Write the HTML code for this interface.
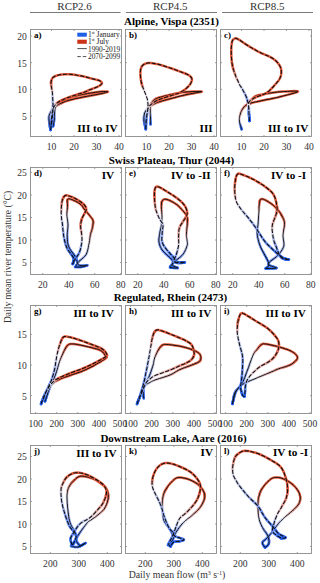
<!DOCTYPE html><html><head><meta charset="utf-8"><style>html,body{margin:0;padding:0;background:#fff;width:320px;height:583px;overflow:hidden;}svg{display:block;}text{font-family:"Liberation Serif",serif;}</style></head><body>
<svg width="320" height="583" viewBox="0 0 320 583">
<rect width="320" height="583" fill="#fff"/>
<text x="74.6" y="10.3" font-size="11" text-anchor="middle" fill="#333">RCP2.6</text>
<line x1="30" y1="12.5" x2="120.6" y2="12.5" stroke="#7a7a7a" stroke-width="1"/>
<text x="170.3" y="10.3" font-size="11" text-anchor="middle" fill="#333">RCP4.5</text>
<line x1="126" y1="12.5" x2="217" y2="12.5" stroke="#7a7a7a" stroke-width="1"/>
<text x="267.2" y="10.3" font-size="11" text-anchor="middle" fill="#333">RCP8.5</text>
<line x1="222" y1="12.5" x2="313" y2="12.5" stroke="#7a7a7a" stroke-width="1"/>
<text x="171.5" y="24.5" font-size="11" font-weight="bold" text-anchor="middle" fill="#000">Alpine, Vispa (2351)</text>
<text x="171.5" y="163.8" font-size="11" font-weight="bold" text-anchor="middle" fill="#000">Swiss Plateau, Thur (2044)</text>
<text x="170.5" y="301.2" font-size="11" font-weight="bold" text-anchor="middle" fill="#000">Regulated, Rhein (2473)</text>
<text x="173.5" y="442.2" font-size="11" font-weight="bold" text-anchor="middle" fill="#000">Downstream Lake, Aare (2016)</text>
<g fill="none" stroke-width="2.5" stroke-linecap="round" stroke-linejoin="round"><path d="M53.1 126.5L53.2 125.8" stroke="#2460f0"/><path d="M53.2 125.8L53.4 124.8" stroke="#2a66f0"/><path d="M53.4 124.8L53.6 123.7" stroke="#366cf0"/><path d="M53.6 123.7L53.8 122.4" stroke="#4272f0"/><path d="M53.8 122.4L54.0 121.2" stroke="#4e7ef0"/><path d="M54.0 121.2L54.2 120.0" stroke="#5a84f0"/><path d="M54.2 120.0L54.3 118.9" stroke="#668af0"/><path d="M54.3 118.9L54.4 117.7" stroke="#7296f0"/><path d="M54.4 117.7L54.4 116.5" stroke="#7e9cf0"/><path d="M54.4 116.5L54.5 115.3" stroke="#8aa2f0"/><path d="M54.5 115.3L54.5 114.1" stroke="#96a8f0"/><path d="M54.5 114.1L54.6 113.0" stroke="#a2b4f0"/><path d="M54.6 113.0L54.7 111.9" stroke="#a8baea"/><path d="M54.7 111.9L54.8 110.8" stroke="#b4c0ea"/><path d="M54.8 110.8L54.9 109.8" stroke="#c0c6ea"/><path d="M54.9 109.8L55.1 108.8" stroke="#ccccea"/><path d="M55.1 108.8L55.3 107.8" stroke="#d2d8ea"/><path d="M55.3 107.8L55.5 107.0" stroke="#dedeea"/><path d="M55.5 107.0L55.8 106.3" stroke="#e4d8e4"/><path d="M55.8 106.3L56.2 105.6" stroke="#e4ccd8"/><path d="M56.2 105.6L56.6 105.1" stroke="#e4c6c6"/><path d="M56.6 105.1L57.0 104.5" stroke="#e4baba"/><path d="M57.0 104.5L57.5 104.0" stroke="#e4aeae"/><path d="M57.5 104.0L58.0 103.5" stroke="#e4a8a2"/><path d="M58.0 103.5L58.5 103.0" stroke="#e49c90"/><path d="M58.5 103.0L59.1 102.5" stroke="#e49084"/><path d="M59.1 102.5L59.7 102.0" stroke="#e48478"/><path d="M59.7 102.0L60.3 101.5" stroke="#e47866"/><path d="M60.3 101.5L61.1 101.0" stroke="#e46c54"/><path d="M61.1 101.0L62.0 100.5" stroke="#e46042"/><path d="M62.0 100.5L63.0 100.0L64.1 99.5L65.3 98.9L66.7 98.4L68.2 97.8L70.0 97.3L72.1 96.7L74.5 96.2L77.1 95.6L79.7 95.0L82.4 94.5L85.0 94.0L87.6 93.5L90.3 93.1L92.9 92.7L95.5 92.3L97.9 92.0L100.0 91.8L101.9 91.6L103.8 91.5L105.4 91.5L106.8 91.5L107.7 91.6L108.0 91.7L107.7 91.9L106.8 92.2L105.4 92.6L103.8 93.0L101.9 93.5L100.0 93.9L97.9 94.3L95.5 94.8L92.9 95.2L90.3 95.7L87.6 96.2L85.0 96.7L82.4 97.2L79.7 97.8L77.1 98.3L74.5 98.9L72.1 99.5L70.0 100.0L68.2 100.5L66.7 101.0L65.4 101.4L64.2 101.9L63.1 102.3L62.0 102.8" stroke="#e45a3c"/><path d="M62.0 102.8L61.0 103.3" stroke="#e46042"/><path d="M61.0 103.3L60.1 103.7" stroke="#e46c54"/><path d="M60.1 103.7L59.2 104.2" stroke="#e47866"/><path d="M59.2 104.2L58.5 104.6" stroke="#e48478"/><path d="M58.5 104.6L57.7 105.1" stroke="#e49084"/><path d="M57.7 105.1L57.0 105.5" stroke="#e49c96"/><path d="M57.0 105.5L56.2 105.9" stroke="#e4a8a2"/><path d="M56.2 105.9L55.5 106.3" stroke="#e4b4ae"/><path d="M55.5 106.3L54.8 106.7" stroke="#e4bac0"/><path d="M54.8 106.7L54.1 107.1" stroke="#e4c6cc"/><path d="M54.1 107.1L53.5 107.6" stroke="#e4d2d8"/><path d="M53.5 107.6L53.0 108.0" stroke="#e4d8e4"/><path d="M53.0 108.0L52.6 108.4" stroke="#dedeea"/><path d="M52.6 108.4L52.3 108.9L52.0 109.3" stroke="#d8d8ea"/><path d="M52.0 109.3L51.8 109.8" stroke="#d2d2ea"/><path d="M51.8 109.8L51.5 110.4" stroke="#ccd2ea"/><path d="M51.5 110.4L51.2 111.0" stroke="#c6ccea"/><path d="M51.2 111.0L50.9 111.7" stroke="#c0c6ea"/><path d="M50.9 111.7L50.4 112.5" stroke="#bac6ea"/><path d="M50.4 112.5L50.0 113.3" stroke="#b4c0ea"/><path d="M50.0 113.3L49.6 114.2" stroke="#a8baf0"/><path d="M49.6 114.2L49.2 115.2" stroke="#a2b4f0"/><path d="M49.2 115.2L49.0 116.2" stroke="#96aef0"/><path d="M49.0 116.2L48.9 117.4" stroke="#90a8f0"/><path d="M48.9 117.4L48.9 118.6" stroke="#84a2f0"/><path d="M48.9 118.6L49.0 119.9" stroke="#7896f0"/><path d="M49.0 119.9L49.1 121.3" stroke="#6c90f0"/><path d="M49.1 121.3L49.3 122.5" stroke="#668af0"/><path d="M49.3 122.5L49.4 123.8" stroke="#5a84f0"/><path d="M49.4 123.8L49.6 124.9" stroke="#4e7ef0"/><path d="M49.6 124.9L49.8 126.2" stroke="#4278f0"/><path d="M49.8 126.2L50.0 127.3" stroke="#3c6cf0"/><path d="M50.0 127.3L50.3 128.4" stroke="#3066f0"/><path d="M50.3 128.4L50.5 129.3" stroke="#2a60f0"/><path d="M50.5 129.3L50.6 130.0" stroke="#1e60f0"/></g><path d="M53.1 126.5L53.2 125.8L53.4 124.8L53.6 123.7L53.8 122.4L54.0 121.2L54.2 120.0L54.3 118.9L54.4 117.7L54.4 116.5L54.5 115.3L54.5 114.1L54.6 113.0L54.7 111.9L54.8 110.8L54.9 109.8L55.1 108.8L55.3 107.8L55.5 107.0L55.8 106.3L56.2 105.6L56.6 105.1L57.0 104.5L57.5 104.0L58.0 103.5L58.5 103.0L59.1 102.5L59.7 102.0L60.3 101.5L61.1 101.0L62.0 100.5L63.0 100.0L64.1 99.5L65.3 98.9L66.7 98.4L68.2 97.8L70.0 97.3L72.1 96.7L74.5 96.2L77.1 95.6L79.7 95.0L82.4 94.5L85.0 94.0L87.6 93.5L90.3 93.1L92.9 92.7L95.5 92.3L97.9 92.0L100.0 91.8L101.9 91.6L103.8 91.5L105.4 91.5L106.8 91.5L107.7 91.6L108.0 91.7L107.7 91.9L106.8 92.2L105.4 92.6L103.8 93.0L101.9 93.5L100.0 93.9L97.9 94.3L95.5 94.8L92.9 95.2L90.3 95.7L87.6 96.2L85.0 96.7L82.4 97.2L79.7 97.8L77.1 98.3L74.5 98.9L72.1 99.5L70.0 100.0L68.2 100.5L66.7 101.0L65.4 101.4L64.2 101.9L63.1 102.3L62.0 102.8L61.0 103.3L60.1 103.7L59.2 104.2L58.5 104.6L57.7 105.1L57.0 105.5L56.2 105.9L55.5 106.3L54.8 106.7L54.1 107.1L53.5 107.6L53.0 108.0L52.6 108.4L52.3 108.9L52.0 109.3L51.8 109.8L51.5 110.4L51.2 111.0L50.9 111.7L50.4 112.5L50.0 113.3L49.6 114.2L49.2 115.2L49.0 116.2L48.9 117.4L48.9 118.6L49.0 119.9L49.1 121.3L49.3 122.5L49.4 123.8L49.6 124.9L49.8 126.2L50.0 127.3L50.3 128.4L50.5 129.3L50.6 130.0" fill="none" stroke="#111" stroke-width="0.99"/><g fill="none" stroke-width="2.5" stroke-linecap="round" stroke-linejoin="round"><path d="M50.6 130.0L50.7 129.4" stroke="#1e60f0"/><path d="M50.7 129.4L50.8 128.5" stroke="#2460f0"/><path d="M50.8 128.5L51.0 127.5" stroke="#2a60f0"/><path d="M51.0 127.5L51.2 126.4" stroke="#3066f0"/><path d="M51.2 126.4L51.3 125.2" stroke="#366cf0"/><path d="M51.3 125.2L51.5 124.0" stroke="#3c6cf0"/><path d="M51.5 124.0L51.7 122.8" stroke="#4272f0"/><path d="M51.7 122.8L51.8 121.5" stroke="#4878f0"/><path d="M51.8 121.5L52.0 120.1" stroke="#4e7ef0"/><path d="M52.0 120.1L52.2 118.7" stroke="#547ef0"/><path d="M52.2 118.7L52.4 117.4" stroke="#5a84f0"/><path d="M52.4 117.4L52.5 116.0" stroke="#608af0"/><path d="M52.5 116.0L52.6 114.7" stroke="#6c90f0"/><path d="M52.6 114.7L52.7 113.3" stroke="#7290f0"/><path d="M52.7 113.3L52.8 112.0" stroke="#7896f0"/><path d="M52.8 112.0L52.9 110.7" stroke="#7e9cf0"/><path d="M52.9 110.7L53.0 109.3" stroke="#84a2f0"/><path d="M53.0 109.3L53.0 108.0" stroke="#8aa8f0"/><path d="M53.0 108.0L53.0 106.7" stroke="#90a8f0"/><path d="M53.0 106.7L53.0 105.3" stroke="#9caef0"/><path d="M53.0 105.3L53.0 104.0" stroke="#a2b4f0"/><path d="M53.0 104.0L52.9 102.7" stroke="#a8baf0"/><path d="M52.9 102.7L52.9 101.3" stroke="#aebaea"/><path d="M52.9 101.3L52.8 100.0" stroke="#b4c0ea"/><path d="M52.8 100.0L52.7 98.6" stroke="#bac6ea"/><path d="M52.7 98.6L52.7 97.3" stroke="#c0ccea"/><path d="M52.7 97.3L52.6 95.9" stroke="#ccccea"/><path d="M52.6 95.9L52.5 94.6" stroke="#d2d2ea"/><path d="M52.5 94.6L52.4 93.2" stroke="#d8d8ea"/><path d="M52.4 93.2L52.3 92.0" stroke="#dedeea"/><path d="M52.3 92.0L52.1 90.8" stroke="#e4d8e4"/><path d="M52.1 90.8L51.9 89.6" stroke="#e4c6cc"/><path d="M51.9 89.6L51.7 88.5" stroke="#e4baba"/><path d="M51.7 88.5L51.5 87.5" stroke="#e4aea8"/><path d="M51.5 87.5L51.3 86.5" stroke="#e4a29c"/><path d="M51.3 86.5L51.2 85.5" stroke="#e4968a"/><path d="M51.2 85.5L51.1 84.6" stroke="#e48a78"/><path d="M51.1 84.6L51.1 83.8" stroke="#e47e6c"/><path d="M51.1 83.8L51.0 83.1" stroke="#e47860"/><path d="M51.0 83.1L51.0 82.4" stroke="#e46c54"/><path d="M51.0 82.4L51.1 81.7" stroke="#e46648"/><path d="M51.1 81.7L51.2 81.0" stroke="#e45a42"/><path d="M51.2 81.0L51.4 80.3L51.6 79.7L51.9 79.1L52.2 78.5L52.6 78.0L53.0 77.5L53.5 77.1L54.1 76.7L54.8 76.3L55.5 76.0L56.2 75.8L57.0 75.5L57.7 75.3L58.5 75.1L59.2 74.9L60.1 74.7L61.0 74.6L62.0 74.5L63.2 74.4L64.4 74.3L65.8 74.3L67.2 74.2L68.6 74.2L70.0 74.3L71.4 74.4L73.0 74.6L74.5 74.8L76.0 75.0L77.4 75.3L78.8 75.5L79.9 75.7L81.0 75.9L82.0 76.1L82.9 76.3L83.9 76.5L85.0 76.8L86.2 77.1L87.4 77.4L88.7 77.8L90.0 78.1L91.3 78.5L92.5 78.8L93.7 79.1L95.0 79.4L96.3 79.7L97.4 80.0L98.5 80.3L99.4 80.6L100.1 81.0L100.7 81.4L101.2 81.8L101.6 82.2L101.8 82.6L101.9 83.0L101.9 83.4L101.7 83.8L101.4 84.2L101.0 84.6L100.5 85.0L100.0 85.4L99.4 85.8L98.6 86.2L97.8 86.6L96.9 87.0L95.9 87.4L95.0 87.8L94.0 88.2L92.9 88.6L91.8 89.0L90.7 89.5L89.7 89.8L88.8 90.2L88.1 90.5L87.5 90.8L87.1 91.0L86.6 91.2L86.0 91.5L85.0 91.9L83.7 92.4L82.1 92.9L80.4 93.4L78.6 94.0L76.7 94.6L75.0 95.2L73.3 95.8L71.6 96.4L69.8 97.0L68.1 97.6L66.5 98.2L65.0 98.8L63.6 99.4L62.3 100.0L61.1 100.5L60.0 101.1L58.9 101.7L58.0 102.3" stroke="#e45a3c"/><path d="M58.0 102.3L57.2 102.9" stroke="#e4664e"/><path d="M57.2 102.9L56.5 103.5" stroke="#e47e6c"/><path d="M56.5 103.5L55.9 104.1" stroke="#e4968a"/><path d="M55.9 104.1L55.4 104.7" stroke="#e4a8a8"/><path d="M55.4 104.7L55.0 105.3" stroke="#e4c0c0"/><path d="M55.0 105.3L54.5 106.0" stroke="#e4d2de"/><path d="M54.5 106.0L54.1 106.7" stroke="#dedeea"/><path d="M54.1 106.7L53.7 107.4" stroke="#d8d8ea"/><path d="M53.7 107.4L53.3 108.2" stroke="#d2d2ea"/><path d="M53.3 108.2L53.0 109.0" stroke="#ccccea"/><path d="M53.0 109.0L52.8 109.9" stroke="#c0ccea"/><path d="M52.8 109.9L52.5 111.0" stroke="#bac6ea"/><path d="M52.5 111.0L52.3 112.3" stroke="#aec0ea"/><path d="M52.3 112.3L52.1 113.7" stroke="#a8b4f0"/><path d="M52.1 113.7L51.9 115.2" stroke="#9caef0"/><path d="M51.9 115.2L51.8 116.8" stroke="#90a8f0"/><path d="M51.8 116.8L51.6 118.4" stroke="#849cf0"/><path d="M51.6 118.4L51.5 120.0" stroke="#7296f0"/><path d="M51.5 120.0L51.3 121.7" stroke="#668af0"/><path d="M51.3 121.7L51.2 123.6" stroke="#5a84f0"/><path d="M51.2 123.6L51.0 125.6" stroke="#4878f0"/><path d="M51.0 125.6L50.8 127.4" stroke="#3c6cf0"/><path d="M50.8 127.4L50.7 128.9" stroke="#2a66f0"/><path d="M50.7 128.9L50.6 130.0" stroke="#2460f0"/></g><path d="M50.6 130.0L50.7 129.4L50.8 128.5L51.0 127.5L51.2 126.4L51.3 125.2L51.5 124.0L51.7 122.8L51.8 121.5L52.0 120.1L52.2 118.7L52.4 117.4L52.5 116.0L52.6 114.7L52.7 113.3L52.8 112.0L52.9 110.7L53.0 109.3L53.0 108.0L53.0 106.7L53.0 105.3L53.0 104.0L52.9 102.7L52.9 101.3L52.8 100.0L52.7 98.6L52.7 97.3L52.6 95.9L52.5 94.6L52.4 93.2L52.3 92.0L52.1 90.8L51.9 89.6L51.7 88.5L51.5 87.5L51.3 86.5L51.2 85.5L51.1 84.6L51.1 83.8L51.0 83.1L51.0 82.4L51.1 81.7L51.2 81.0L51.4 80.3L51.6 79.7L51.9 79.1L52.2 78.5L52.6 78.0L53.0 77.5L53.5 77.1L54.1 76.7L54.8 76.3L55.5 76.0L56.2 75.8L57.0 75.5L57.7 75.3L58.5 75.1L59.2 74.9L60.1 74.7L61.0 74.6L62.0 74.5L63.2 74.4L64.4 74.3L65.8 74.3L67.2 74.2L68.6 74.2L70.0 74.3L71.4 74.4L73.0 74.6L74.5 74.8L76.0 75.0L77.4 75.3L78.8 75.5L79.9 75.7L81.0 75.9L82.0 76.1L82.9 76.3L83.9 76.5L85.0 76.8L86.2 77.1L87.4 77.4L88.7 77.8L90.0 78.1L91.3 78.5L92.5 78.8L93.7 79.1L95.0 79.4L96.3 79.7L97.4 80.0L98.5 80.3L99.4 80.6L100.1 81.0L100.7 81.4L101.2 81.8L101.6 82.2L101.8 82.6L101.9 83.0L101.9 83.4L101.7 83.8L101.4 84.2L101.0 84.6L100.5 85.0L100.0 85.4L99.4 85.8L98.6 86.2L97.8 86.6L96.9 87.0L95.9 87.4L95.0 87.8L94.0 88.2L92.9 88.6L91.8 89.0L90.7 89.5L89.7 89.8L88.8 90.2L88.1 90.5L87.5 90.8L87.1 91.0L86.6 91.2L86.0 91.5L85.0 91.9L83.7 92.4L82.1 92.9L80.4 93.4L78.6 94.0L76.7 94.6L75.0 95.2L73.3 95.8L71.6 96.4L69.8 97.0L68.1 97.6L66.5 98.2L65.0 98.8L63.6 99.4L62.3 100.0L61.1 100.5L60.0 101.1L58.9 101.7L58.0 102.3L57.2 102.9L56.5 103.5L55.9 104.1L55.4 104.7L55.0 105.3L54.5 106.0L54.1 106.7L53.7 107.4L53.3 108.2L53.0 109.0L52.8 109.9L52.5 111.0L52.3 112.3L52.1 113.7L51.9 115.2L51.8 116.8L51.6 118.4L51.5 120.0L51.3 121.7L51.2 123.6L51.0 125.6L50.8 127.4L50.7 128.9L50.6 130.0" fill="none" stroke="#111" stroke-width="1.10" stroke-dasharray="4.2,1.6"/>
<rect x="30.5" y="29.5" width="91" height="107" fill="none" stroke="#8a8a8a" stroke-width="0.9"/>
<line x1="30.5" y1="116.00" x2="32" y2="116.00" stroke="#8a8a8a" stroke-width="0.8"/>
<line x1="120" y1="116.00" x2="121.5" y2="116.00" stroke="#8a8a8a" stroke-width="0.8"/>
<text x="26.8" y="119.90" font-size="9.6" text-anchor="end" fill="#333">5</text>
<line x1="30.5" y1="89.33" x2="32" y2="89.33" stroke="#8a8a8a" stroke-width="0.8"/>
<line x1="120" y1="89.33" x2="121.5" y2="89.33" stroke="#8a8a8a" stroke-width="0.8"/>
<text x="26.8" y="93.23" font-size="9.6" text-anchor="end" fill="#333">10</text>
<line x1="30.5" y1="62.66" x2="32" y2="62.66" stroke="#8a8a8a" stroke-width="0.8"/>
<line x1="120" y1="62.66" x2="121.5" y2="62.66" stroke="#8a8a8a" stroke-width="0.8"/>
<text x="26.8" y="66.56" font-size="9.6" text-anchor="end" fill="#333">15</text>
<line x1="30.5" y1="36.00" x2="32" y2="36.00" stroke="#8a8a8a" stroke-width="0.8"/>
<line x1="120" y1="36.00" x2="121.5" y2="36.00" stroke="#8a8a8a" stroke-width="0.8"/>
<text x="26.8" y="39.90" font-size="9.6" text-anchor="end" fill="#333">20</text>
<line x1="51.50" y1="135" x2="51.50" y2="136.5" stroke="#8a8a8a" stroke-width="0.8"/>
<line x1="51.50" y1="29.5" x2="51.50" y2="31" stroke="#8a8a8a" stroke-width="0.8"/>
<text x="51.50" y="149.70" font-size="9.6" text-anchor="middle" fill="#333">10</text>
<line x1="74.00" y1="135" x2="74.00" y2="136.5" stroke="#8a8a8a" stroke-width="0.8"/>
<line x1="74.00" y1="29.5" x2="74.00" y2="31" stroke="#8a8a8a" stroke-width="0.8"/>
<text x="74.00" y="149.70" font-size="9.6" text-anchor="middle" fill="#333">20</text>
<line x1="96.50" y1="135" x2="96.50" y2="136.5" stroke="#8a8a8a" stroke-width="0.8"/>
<line x1="96.50" y1="29.5" x2="96.50" y2="31" stroke="#8a8a8a" stroke-width="0.8"/>
<text x="96.50" y="149.70" font-size="9.6" text-anchor="middle" fill="#333">30</text>
<line x1="119.00" y1="135" x2="119.00" y2="136.5" stroke="#8a8a8a" stroke-width="0.8"/>
<line x1="119.00" y1="29.5" x2="119.00" y2="31" stroke="#8a8a8a" stroke-width="0.8"/>
<text x="119.00" y="149.70" font-size="9.6" text-anchor="middle" fill="#333">40</text>
<text x="34" y="38" font-size="9" font-weight="bold" fill="#000">a)</text>
<text x="117.6" y="132.4" font-size="11.2" font-weight="bold" text-anchor="end" fill="#000">III to IV</text>
<g fill="none" stroke-width="2.5" stroke-linecap="round" stroke-linejoin="round"><path d="M150.5 124.5L150.5 123.8" stroke="#2460f0"/><path d="M150.5 123.8L150.5 122.8" stroke="#3066f0"/><path d="M150.5 122.8L150.5 121.7" stroke="#3c72f0"/><path d="M150.5 121.7L150.5 120.4" stroke="#4e7ef0"/><path d="M150.5 120.4L150.5 119.2" stroke="#608af0"/><path d="M150.5 119.2L150.5 118.0" stroke="#7296f0"/><path d="M150.5 118.0L150.5 116.9" stroke="#84a2f0"/><path d="M150.5 116.9L150.4 115.7" stroke="#96aef0"/><path d="M150.4 115.7L150.4 114.5" stroke="#a8b4f0"/><path d="M150.4 114.5L150.3 113.3" stroke="#bac0ea"/><path d="M150.3 113.3L150.3 112.1" stroke="#c6ccea"/><path d="M150.3 112.1L150.3 111.0" stroke="#d8d8ea"/><path d="M150.3 111.0L150.3 109.9" stroke="#e4d8e4"/><path d="M150.3 109.9L150.2 108.9" stroke="#e4d2de"/><path d="M150.2 108.9L150.2 107.9" stroke="#e4ccd2"/><path d="M150.2 107.9L150.2 106.9" stroke="#e4c6cc"/><path d="M150.2 106.9L150.3 105.9" stroke="#e4c0c0"/><path d="M150.3 105.9L150.5 105.0" stroke="#e4baba"/><path d="M150.5 105.0L150.9 104.1" stroke="#e4aeae"/><path d="M150.9 104.1L151.3 103.2" stroke="#e4a8a8"/><path d="M151.3 103.2L151.9 102.3" stroke="#e4a29c"/><path d="M151.9 102.3L152.5 101.5" stroke="#e49c90"/><path d="M152.5 101.5L153.2 100.7" stroke="#e4968a"/><path d="M153.2 100.7L154.0 100.0" stroke="#e48a7e"/><path d="M154.0 100.0L154.8 99.4" stroke="#e48478"/><path d="M154.8 99.4L155.6 98.9" stroke="#e47e6c"/><path d="M155.6 98.9L156.5 98.5" stroke="#e47866"/><path d="M156.5 98.5L157.6 98.1" stroke="#e4725a"/><path d="M157.6 98.1L158.8 97.7" stroke="#e4664e"/><path d="M158.8 97.7L160.4 97.2" stroke="#e46042"/><path d="M160.4 97.2L162.4 96.6L164.8 96.0L167.4 95.4L170.0 94.8L172.6 94.2L175.0 93.7L177.1 93.3L179.1 92.9L181.0 92.6L182.9 92.3L184.9 92.1L187.0 91.9L189.7 91.7L192.9 91.6L196.1 91.5L199.0 91.4L201.1 91.4L201.9 91.6L201.1 91.9L199.0 92.3L196.1 92.8L192.9 93.4L189.7 94.0L187.0 94.5L184.9 95.0L182.9 95.5L181.0 95.9L179.1 96.4L177.1 96.9L175.0 97.5L172.6 98.1L170.1 98.8L167.4 99.5L164.8 100.2L162.4 100.9L160.4 101.5" stroke="#e45a3c"/><path d="M160.4 101.5L158.7 102.0" stroke="#e46042"/><path d="M158.7 102.0L157.3 102.5" stroke="#e46c5a"/><path d="M157.3 102.5L156.1 103.0" stroke="#e47e66"/><path d="M156.1 103.0L155.1 103.5" stroke="#e48478"/><path d="M155.1 103.5L154.0 104.0" stroke="#e49084"/><path d="M154.0 104.0L153.0 104.5" stroke="#e49c90"/><path d="M153.0 104.5L151.9 105.1" stroke="#e4a8a2"/><path d="M151.9 105.1L150.9 105.7" stroke="#e4aeae"/><path d="M150.9 105.7L150.0 106.3" stroke="#e4baba"/><path d="M150.0 106.3L149.1 107.0" stroke="#e4c6cc"/><path d="M149.1 107.0L148.3 107.7" stroke="#e4d2d8"/><path d="M148.3 107.7L147.5 108.5" stroke="#e4d8e4"/><path d="M147.5 108.5L146.8 109.3" stroke="#ded8ea"/><path d="M146.8 109.3L146.2 110.2" stroke="#d2d2ea"/><path d="M146.2 110.2L145.6 111.1" stroke="#ccccea"/><path d="M145.6 111.1L145.1 112.0" stroke="#c0c6ea"/><path d="M145.1 112.0L144.7 113.0" stroke="#b4c0ea"/><path d="M144.7 113.0L144.4 114.0" stroke="#aebaea"/><path d="M144.4 114.0L144.2 115.1" stroke="#a2b4f0"/><path d="M144.2 115.1L144.0 116.2" stroke="#96aef0"/><path d="M144.0 116.2L143.9 117.3" stroke="#90a8f0"/><path d="M143.9 117.3L143.9 118.5" stroke="#84a2f0"/><path d="M143.9 118.5L143.9 119.8" stroke="#7896f0"/><path d="M143.9 119.8L144.0 121.0" stroke="#6c90f0"/><path d="M144.0 121.0L144.2 122.4" stroke="#608af0"/><path d="M144.2 122.4L144.5 123.9" stroke="#547ef0"/><path d="M144.5 123.9L144.9 125.4" stroke="#4878f0"/><path d="M144.9 125.4L145.3 126.9" stroke="#366cf0"/><path d="M145.3 126.9L145.6 128.1" stroke="#2a66f0"/><path d="M145.6 128.1L145.8 129.0" stroke="#2460f0"/></g><path d="M150.5 124.5L150.5 123.8L150.5 122.8L150.5 121.7L150.5 120.4L150.5 119.2L150.5 118.0L150.5 116.9L150.4 115.7L150.4 114.5L150.3 113.3L150.3 112.1L150.3 111.0L150.3 109.9L150.2 108.9L150.2 107.9L150.2 106.9L150.3 105.9L150.5 105.0L150.9 104.1L151.3 103.2L151.9 102.3L152.5 101.5L153.2 100.7L154.0 100.0L154.8 99.4L155.6 98.9L156.5 98.5L157.6 98.1L158.8 97.7L160.4 97.2L162.4 96.6L164.8 96.0L167.4 95.4L170.0 94.8L172.6 94.2L175.0 93.7L177.1 93.3L179.1 92.9L181.0 92.6L182.9 92.3L184.9 92.1L187.0 91.9L189.7 91.7L192.9 91.6L196.1 91.5L199.0 91.4L201.1 91.4L201.9 91.6L201.1 91.9L199.0 92.3L196.1 92.8L192.9 93.4L189.7 94.0L187.0 94.5L184.9 95.0L182.9 95.5L181.0 95.9L179.1 96.4L177.1 96.9L175.0 97.5L172.6 98.1L170.1 98.8L167.4 99.5L164.8 100.2L162.4 100.9L160.4 101.5L158.7 102.0L157.3 102.5L156.1 103.0L155.1 103.5L154.0 104.0L153.0 104.5L151.9 105.1L150.9 105.7L150.0 106.3L149.1 107.0L148.3 107.7L147.5 108.5L146.8 109.3L146.2 110.2L145.6 111.1L145.1 112.0L144.7 113.0L144.4 114.0L144.2 115.1L144.0 116.2L143.9 117.3L143.9 118.5L143.9 119.8L144.0 121.0L144.2 122.4L144.5 123.9L144.9 125.4L145.3 126.9L145.6 128.1L145.8 129.0" fill="none" stroke="#111" stroke-width="0.99"/><g fill="none" stroke-width="2.5" stroke-linecap="round" stroke-linejoin="round"><path d="M145.8 129.2L145.8 128.2" stroke="#2460f0"/><path d="M145.8 128.2L145.9 126.8" stroke="#3066f0"/><path d="M145.9 126.8L146.0 125.1" stroke="#4272f0"/><path d="M146.0 125.1L146.1 123.3" stroke="#5484f0"/><path d="M146.1 123.3L146.2 121.6" stroke="#6c90f0"/><path d="M146.2 121.6L146.3 120.0" stroke="#7e9cf0"/><path d="M146.3 120.0L146.4 118.6" stroke="#90a8f0"/><path d="M146.4 118.6L146.6 117.1" stroke="#9cb4f0"/><path d="M146.6 117.1L146.7 115.7" stroke="#aebaea"/><path d="M146.7 115.7L146.9 114.4" stroke="#c0c6ea"/><path d="M146.9 114.4L147.1 113.1" stroke="#ccd2ea"/><path d="M147.1 113.1L147.2 112.0" stroke="#d8d8ea"/><path d="M147.2 112.0L147.4 111.0L147.5 110.2L147.7 109.4L147.8 108.7L147.9 107.9L148.0 107.0L148.0 105.9L148.0 104.8L147.9 103.6L147.8 102.3L147.7 101.1L147.5 100.0L147.3 98.9L146.9 97.9L146.6 96.9L146.2 95.9L145.9 94.9L145.5 94.0L145.2 93.1L144.8 92.3L144.5 91.5L144.2 90.7L143.8 89.9L143.5 89.0" stroke="#e4deea"/><path d="M143.5 89.0L143.2 88.1" stroke="#e4d2de"/><path d="M143.2 88.1L142.8 87.1" stroke="#e4c0c0"/><path d="M142.8 87.1L142.4 86.2" stroke="#e4a8a8"/><path d="M142.4 86.2L142.1 85.2" stroke="#e4968a"/><path d="M142.1 85.2L141.8 84.1" stroke="#e47e6c"/><path d="M141.8 84.1L141.5 83.0" stroke="#e46648"/><path d="M141.5 83.0L141.2 81.8L141.0 80.4L140.8 79.0L140.6 77.6L140.5 76.2L140.4 75.0L140.4 73.9L140.4 72.8L140.4 71.7L140.5 70.7L140.6 69.8L140.8 69.0L141.0 68.3L141.2 67.6L141.5 67.0L141.8 66.5L142.1 66.0L142.5 65.5L143.0 65.1L143.5 64.7L144.0 64.3L144.7 64.0L145.3 63.7L146.0 63.5L146.7 63.3L147.4 63.1L148.1 63.0L149.0 62.9L149.9 62.9L151.0 63.0L152.3 63.2L153.7 63.4L155.2 63.7L156.9 64.0L158.6 64.4L160.4 64.9L162.4 65.5L164.5 66.1L166.7 66.9L168.9 67.6L171.0 68.3L173.0 69.0L174.8 69.6L176.5 70.2L178.1 70.8L179.6 71.4L181.1 71.9L182.5 72.5L183.9 73.0L185.2 73.5L186.4 74.0L187.5 74.5L188.5 75.0L189.4 75.6L190.1 76.2L190.7 76.8L191.2 77.4L191.6 78.0L191.8 78.7L191.9 79.4L191.9 80.2L191.7 81.0L191.4 81.8L191.0 82.7L190.5 83.6L190.0 84.4L189.3 85.3L188.6 86.1L187.7 87.0L186.8 87.9L185.9 88.7L185.0 89.4L184.2 90.0L183.3 90.6L182.5 91.1L181.7 91.6L180.8 92.1L180.0 92.5L179.2 92.9L178.5 93.2L177.8 93.5L177.0 93.7L176.1 94.0L175.0 94.4L173.6 94.8L172.0 95.3L170.2 95.9L168.4 96.4L166.6 97.0L165.0 97.5L163.5 98.0L162.1 98.5L160.8 98.9L159.4 99.4L158.2 99.9L157.0 100.5" stroke="#e45a3c"/><path d="M157.0 100.5L155.8 101.1" stroke="#e46042"/><path d="M155.8 101.1L154.7 101.8" stroke="#e46c5a"/><path d="M154.7 101.8L153.7 102.5" stroke="#e47e6c"/><path d="M153.7 102.5L152.7 103.2" stroke="#e48a7e"/><path d="M152.7 103.2L151.8 103.9" stroke="#e49690"/><path d="M151.8 103.9L151.0 104.5" stroke="#e4a29c"/><path d="M151.0 104.5L150.3 105.1" stroke="#e4aeae"/><path d="M150.3 105.1L149.8 105.6" stroke="#e4baba"/><path d="M149.8 105.6L149.3 106.1" stroke="#e4c0c6"/><path d="M149.3 106.1L148.9 106.6" stroke="#e4c6cc"/><path d="M148.9 106.6L148.5 107.2" stroke="#e4d2d8"/><path d="M148.5 107.2L148.2 108.0" stroke="#e4d8e4"/><path d="M148.2 108.0L147.9 109.0" stroke="#ded8ea"/><path d="M147.9 109.0L147.7 110.1" stroke="#d2d2ea"/><path d="M147.7 110.1L147.5 111.3" stroke="#c6ccea"/><path d="M147.5 111.3L147.3 112.5" stroke="#bac6ea"/><path d="M147.3 112.5L147.2 113.8" stroke="#b4c0ea"/><path d="M147.2 113.8L147.0 115.0" stroke="#a8b4f0"/><path d="M147.0 115.0L146.8 116.2" stroke="#9caef0"/><path d="M146.8 116.2L146.6 117.3" stroke="#90a8f0"/><path d="M146.6 117.3L146.4 118.5" stroke="#84a2f0"/><path d="M146.4 118.5L146.3 119.7" stroke="#789cf0"/><path d="M146.3 119.7L146.1 120.8" stroke="#7290f0"/><path d="M146.1 120.8L146.0 122.0" stroke="#668af0"/><path d="M146.0 122.0L145.9 123.3" stroke="#5a84f0"/><path d="M145.9 123.3L145.9 124.7" stroke="#4e7ef0"/><path d="M145.9 124.7L145.8 126.0" stroke="#4272f0"/><path d="M145.8 126.0L145.8 127.3" stroke="#366cf0"/><path d="M145.8 127.3L145.8 128.4" stroke="#2a66f0"/><path d="M145.8 128.4L145.8 129.2" stroke="#2460f0"/></g><path d="M145.8 129.2L145.8 128.2L145.9 126.8L146.0 125.1L146.1 123.3L146.2 121.6L146.3 120.0L146.4 118.6L146.6 117.1L146.7 115.7L146.9 114.4L147.1 113.1L147.2 112.0L147.4 111.0L147.5 110.2L147.7 109.4L147.8 108.7L147.9 107.9L148.0 107.0L148.0 105.9L148.0 104.8L147.9 103.6L147.8 102.3L147.7 101.1L147.5 100.0L147.3 98.9L146.9 97.9L146.6 96.9L146.2 95.9L145.9 94.9L145.5 94.0L145.2 93.1L144.8 92.3L144.5 91.5L144.2 90.7L143.8 89.9L143.5 89.0L143.2 88.1L142.8 87.1L142.4 86.2L142.1 85.2L141.8 84.1L141.5 83.0L141.2 81.8L141.0 80.4L140.8 79.0L140.6 77.6L140.5 76.2L140.4 75.0L140.4 73.9L140.4 72.8L140.4 71.7L140.5 70.7L140.6 69.8L140.8 69.0L141.0 68.3L141.2 67.6L141.5 67.0L141.8 66.5L142.1 66.0L142.5 65.5L143.0 65.1L143.5 64.7L144.0 64.3L144.7 64.0L145.3 63.7L146.0 63.5L146.7 63.3L147.4 63.1L148.1 63.0L149.0 62.9L149.9 62.9L151.0 63.0L152.3 63.2L153.7 63.4L155.2 63.7L156.9 64.0L158.6 64.4L160.4 64.9L162.4 65.5L164.5 66.1L166.7 66.9L168.9 67.6L171.0 68.3L173.0 69.0L174.8 69.6L176.5 70.2L178.1 70.8L179.6 71.4L181.1 71.9L182.5 72.5L183.9 73.0L185.2 73.5L186.4 74.0L187.5 74.5L188.5 75.0L189.4 75.6L190.1 76.2L190.7 76.8L191.2 77.4L191.6 78.0L191.8 78.7L191.9 79.4L191.9 80.2L191.7 81.0L191.4 81.8L191.0 82.7L190.5 83.6L190.0 84.4L189.3 85.3L188.6 86.1L187.7 87.0L186.8 87.9L185.9 88.7L185.0 89.4L184.2 90.0L183.3 90.6L182.5 91.1L181.7 91.6L180.8 92.1L180.0 92.5L179.2 92.9L178.5 93.2L177.8 93.5L177.0 93.7L176.1 94.0L175.0 94.4L173.6 94.8L172.0 95.3L170.2 95.9L168.4 96.4L166.6 97.0L165.0 97.5L163.5 98.0L162.1 98.5L160.8 98.9L159.4 99.4L158.2 99.9L157.0 100.5L155.8 101.1L154.7 101.8L153.7 102.5L152.7 103.2L151.8 103.9L151.0 104.5L150.3 105.1L149.8 105.6L149.3 106.1L148.9 106.6L148.5 107.2L148.2 108.0L147.9 109.0L147.7 110.1L147.5 111.3L147.3 112.5L147.2 113.8L147.0 115.0L146.8 116.2L146.6 117.3L146.4 118.5L146.3 119.7L146.1 120.8L146.0 122.0L145.9 123.3L145.9 124.7L145.8 126.0L145.8 127.3L145.8 128.4L145.8 129.2" fill="none" stroke="#111" stroke-width="1.10" stroke-dasharray="4.2,1.6"/>
<rect x="125.5" y="29.5" width="91" height="107" fill="none" stroke="#8a8a8a" stroke-width="0.9"/>
<line x1="125.5" y1="116.00" x2="127" y2="116.00" stroke="#8a8a8a" stroke-width="0.8"/>
<line x1="215" y1="116.00" x2="216.5" y2="116.00" stroke="#8a8a8a" stroke-width="0.8"/>
<line x1="125.5" y1="89.33" x2="127" y2="89.33" stroke="#8a8a8a" stroke-width="0.8"/>
<line x1="215" y1="89.33" x2="216.5" y2="89.33" stroke="#8a8a8a" stroke-width="0.8"/>
<line x1="125.5" y1="62.66" x2="127" y2="62.66" stroke="#8a8a8a" stroke-width="0.8"/>
<line x1="215" y1="62.66" x2="216.5" y2="62.66" stroke="#8a8a8a" stroke-width="0.8"/>
<line x1="125.5" y1="36.00" x2="127" y2="36.00" stroke="#8a8a8a" stroke-width="0.8"/>
<line x1="215" y1="36.00" x2="216.5" y2="36.00" stroke="#8a8a8a" stroke-width="0.8"/>
<line x1="146.50" y1="135" x2="146.50" y2="136.5" stroke="#8a8a8a" stroke-width="0.8"/>
<line x1="146.50" y1="29.5" x2="146.50" y2="31" stroke="#8a8a8a" stroke-width="0.8"/>
<text x="146.50" y="149.70" font-size="9.6" text-anchor="middle" fill="#333">10</text>
<line x1="169.00" y1="135" x2="169.00" y2="136.5" stroke="#8a8a8a" stroke-width="0.8"/>
<line x1="169.00" y1="29.5" x2="169.00" y2="31" stroke="#8a8a8a" stroke-width="0.8"/>
<text x="169.00" y="149.70" font-size="9.6" text-anchor="middle" fill="#333">20</text>
<line x1="191.50" y1="135" x2="191.50" y2="136.5" stroke="#8a8a8a" stroke-width="0.8"/>
<line x1="191.50" y1="29.5" x2="191.50" y2="31" stroke="#8a8a8a" stroke-width="0.8"/>
<text x="191.50" y="149.70" font-size="9.6" text-anchor="middle" fill="#333">30</text>
<line x1="214.00" y1="135" x2="214.00" y2="136.5" stroke="#8a8a8a" stroke-width="0.8"/>
<line x1="214.00" y1="29.5" x2="214.00" y2="31" stroke="#8a8a8a" stroke-width="0.8"/>
<text x="214.00" y="149.70" font-size="9.6" text-anchor="middle" fill="#333">40</text>
<text x="129" y="38" font-size="9" font-weight="bold" fill="#000">b)</text>
<text x="212.6" y="132.4" font-size="11.2" font-weight="bold" text-anchor="end" fill="#000">III</text>
<g fill="none" stroke-width="2.5" stroke-linecap="round" stroke-linejoin="round"><path d="M249.5 121.0L249.4 120.2" stroke="#2460f0"/><path d="M249.4 120.2L249.3 119.1" stroke="#306cf0"/><path d="M249.3 119.1L249.2 117.9" stroke="#4272f0"/><path d="M249.2 117.9L249.1 116.5" stroke="#5a84f0"/><path d="M249.1 116.5L249.0 115.2" stroke="#6c90f0"/><path d="M249.0 115.2L248.9 114.0" stroke="#7e9cf0"/><path d="M248.9 114.0L248.8 112.9" stroke="#90a8f0"/><path d="M248.8 112.9L248.8 111.9" stroke="#9cb4f0"/><path d="M248.8 111.9L248.7 110.9" stroke="#aebaea"/><path d="M248.7 110.9L248.7 109.9" stroke="#c0c6ea"/><path d="M248.7 109.9L248.7 108.9" stroke="#ccd2ea"/><path d="M248.7 108.9L248.8 108.0" stroke="#d8d8ea"/><path d="M248.8 108.0L248.8 107.1" stroke="#e4d8e4"/><path d="M248.8 107.1L248.8 106.3" stroke="#e4d2d8"/><path d="M248.8 106.3L248.8 105.5" stroke="#e4ccd2"/><path d="M248.8 105.5L248.9 104.7" stroke="#e4c0c6"/><path d="M248.9 104.7L249.1 103.9" stroke="#e4baba"/><path d="M249.1 103.9L249.5 103.0" stroke="#e4aeae"/><path d="M249.5 103.0L250.1 102.0" stroke="#e4a8a2"/><path d="M250.1 102.0L250.8 100.8" stroke="#e49c90"/><path d="M250.8 100.8L251.7 99.7" stroke="#e48a7e"/><path d="M251.7 99.7L252.7 98.5" stroke="#e47e6c"/><path d="M252.7 98.5L253.8 97.5" stroke="#e46c54"/><path d="M253.8 97.5L255.0 96.6" stroke="#e46042"/><path d="M255.0 96.6L256.3 95.9L257.6 95.4L259.1 95.0L260.7 94.7L262.4 94.4L264.4 94.0L266.6 93.6L269.1 93.2L271.7 92.8L274.4 92.4L277.2 92.1L280.0 91.8L283.3 91.6L287.2 91.4L291.1 91.2L294.6 91.1L297.1 91.2L298.0 91.5L297.1 92.1L294.7 92.9L291.3 93.9L287.4 94.9L283.5 95.9L280.0 96.8L276.8 97.6L273.5 98.3L270.2 99.0L266.9 99.6L263.9 100.2L261.2 100.8L258.9 101.3L256.9 101.7L255.1 102.0L253.5 102.4L252.0 102.7L250.5 103.2" stroke="#e45a3c"/><path d="M250.5 103.2L249.1 103.7" stroke="#e45a42"/><path d="M249.1 103.7L247.9 104.2" stroke="#e46648"/><path d="M247.9 104.2L246.8 104.8" stroke="#e46c54"/><path d="M246.8 104.8L245.8 105.4" stroke="#e47260"/><path d="M245.8 105.4L244.9 106.2" stroke="#e47866"/><path d="M244.9 106.2L244.0 107.0" stroke="#e48472"/><path d="M244.0 107.0L243.2 108.0" stroke="#e48a78"/><path d="M243.2 108.0L242.5 109.1" stroke="#e49084"/><path d="M242.5 109.1L241.8 110.3" stroke="#e49690"/><path d="M241.8 110.3L241.2 111.5" stroke="#e4a29c"/><path d="M241.2 111.5L240.7 112.8" stroke="#e4a8a2"/><path d="M240.7 112.8L240.3 114.0" stroke="#e4aeae"/><path d="M240.3 114.0L240.0 115.1" stroke="#e4baba"/><path d="M240.0 115.1L239.7 116.3" stroke="#e4c0c0"/><path d="M239.7 116.3L239.5 117.4" stroke="#e4c6cc"/><path d="M239.5 117.4L239.4 118.6" stroke="#e4ccd2"/><path d="M239.4 118.6L239.3 119.7" stroke="#e4d2de"/><path d="M239.3 119.7L239.4 121.0" stroke="#e4d8e4"/><path d="M239.4 121.0L239.6 122.4" stroke="#d2d2ea"/><path d="M239.6 122.4L240.0 124.0" stroke="#aebaea"/><path d="M240.0 124.0L240.5 125.7" stroke="#8aa2f0"/><path d="M240.5 125.7L241.0 127.2" stroke="#668af0"/><path d="M241.0 127.2L241.4 128.6" stroke="#4272f0"/><path d="M241.4 128.6L241.7 129.5" stroke="#2a66f0"/></g><path d="M249.5 121.0L249.4 120.2L249.3 119.1L249.2 117.9L249.1 116.5L249.0 115.2L248.9 114.0L248.8 112.9L248.8 111.9L248.7 110.9L248.7 109.9L248.7 108.9L248.8 108.0L248.8 107.1L248.8 106.3L248.8 105.5L248.9 104.7L249.1 103.9L249.5 103.0L250.1 102.0L250.8 100.8L251.7 99.7L252.7 98.5L253.8 97.5L255.0 96.6L256.3 95.9L257.6 95.4L259.1 95.0L260.7 94.7L262.4 94.4L264.4 94.0L266.6 93.6L269.1 93.2L271.7 92.8L274.4 92.4L277.2 92.1L280.0 91.8L283.3 91.6L287.2 91.4L291.1 91.2L294.6 91.1L297.1 91.2L298.0 91.5L297.1 92.1L294.7 92.9L291.3 93.9L287.4 94.9L283.5 95.9L280.0 96.8L276.8 97.6L273.5 98.3L270.2 99.0L266.9 99.6L263.9 100.2L261.2 100.8L258.9 101.3L256.9 101.7L255.1 102.0L253.5 102.4L252.0 102.7L250.5 103.2L249.1 103.7L247.9 104.2L246.8 104.8L245.8 105.4L244.9 106.2L244.0 107.0L243.2 108.0L242.5 109.1L241.8 110.3L241.2 111.5L240.7 112.8L240.3 114.0L240.0 115.1L239.7 116.3L239.5 117.4L239.4 118.6L239.3 119.7L239.4 121.0L239.6 122.4L240.0 124.0L240.5 125.7L241.0 127.2L241.4 128.6L241.7 129.5" fill="none" stroke="#111" stroke-width="0.99"/><g fill="none" stroke-width="2.5" stroke-linecap="round" stroke-linejoin="round"><path d="M249.5 121.0L249.4 120.2" stroke="#1e60f0"/><path d="M249.4 120.2L249.4 119.2" stroke="#2460f0"/><path d="M249.4 119.2L249.3 118.0" stroke="#2a66f0"/><path d="M249.3 118.0L249.2 116.7" stroke="#3066f0"/><path d="M249.2 116.7L249.1 115.3" stroke="#366cf0"/><path d="M249.1 115.3L249.0 114.0" stroke="#3c72f0"/><path d="M249.0 114.0L248.9 112.7" stroke="#4272f0"/><path d="M248.9 112.7L248.9 111.4" stroke="#4878f0"/><path d="M248.9 111.4L248.9 110.1" stroke="#4e7ef0"/><path d="M248.9 110.1L248.9 108.8" stroke="#5484f0"/><path d="M248.9 108.8L248.8 107.4" stroke="#6084f0"/><path d="M248.8 107.4L248.6 106.0" stroke="#668af0"/><path d="M248.6 106.0L248.4 104.6" stroke="#6c90f0"/><path d="M248.4 104.6L248.1 103.1" stroke="#7296f0"/><path d="M248.1 103.1L247.7 101.6" stroke="#789cf0"/><path d="M247.7 101.6L247.3 100.1" stroke="#849cf0"/><path d="M247.3 100.1L246.9 98.6" stroke="#8aa2f0"/><path d="M246.9 98.6L246.4 97.2" stroke="#90a8f0"/><path d="M246.4 97.2L245.8 95.8" stroke="#96aef0"/><path d="M245.8 95.8L245.2 94.5" stroke="#a2b4f0"/><path d="M245.2 94.5L244.5 93.1" stroke="#a8b4f0"/><path d="M244.5 93.1L243.8 91.8" stroke="#aebaea"/><path d="M243.8 91.8L243.1 90.6" stroke="#b4c0ea"/><path d="M243.1 90.6L242.5 89.4" stroke="#bac6ea"/><path d="M242.5 89.4L241.9 88.4" stroke="#c0ccea"/><path d="M241.9 88.4L241.3 87.4" stroke="#c6ccea"/><path d="M241.3 87.4L240.8 86.6" stroke="#ccd2ea"/><path d="M240.8 86.6L240.2 85.7" stroke="#d2d2ea"/><path d="M240.2 85.7L239.6 84.7" stroke="#d8d8ea"/><path d="M239.6 84.7L239.0 83.4" stroke="#dedeea"/><path d="M239.0 83.4L238.3 81.8" stroke="#e4d8e4"/><path d="M238.3 81.8L237.5 80.1" stroke="#e4ccd2"/><path d="M237.5 80.1L236.6 78.2" stroke="#e4c0c6"/><path d="M236.6 78.2L235.8 76.2" stroke="#e4b4b4"/><path d="M235.8 76.2L235.1 74.3" stroke="#e4a8a2"/><path d="M235.1 74.3L234.4 72.5" stroke="#e49c90"/><path d="M234.4 72.5L233.9 70.9" stroke="#e49084"/><path d="M233.9 70.9L233.4 69.4" stroke="#e48478"/><path d="M233.4 69.4L233.0 67.9" stroke="#e47e66"/><path d="M233.0 67.9L232.6 66.4" stroke="#e4725a"/><path d="M232.6 66.4L232.3 64.8" stroke="#e4664e"/><path d="M232.3 64.8L232.0 63.1" stroke="#e46042"/><path d="M232.0 63.1L231.8 61.2L231.6 59.0L231.4 56.8L231.3 54.6L231.3 52.5L231.2 50.6L231.3 48.9L231.3 47.2L231.5 45.7L231.6 44.3L231.8 43.1L232.0 42.0L232.2 41.1L232.5 40.5L232.8 40.0L233.2 39.6L233.6 39.3L234.0 39.0L234.4 38.7L234.8 38.5L235.2 38.3L235.7 38.3L236.5 38.5L237.5 38.9L238.9 39.7L240.6 40.7L242.5 42.0L244.5 43.4L246.5 44.7L248.4 45.9L250.2 47.0L252.1 48.1L253.9 49.2L255.8 50.2L257.6 51.3L259.4 52.2L261.2 53.1L263.1 53.9L265.0 54.7L266.8 55.4L268.5 56.2L270.0 56.9L271.3 57.6L272.5 58.3L273.5 59.0L274.5 59.7L275.4 60.4L276.2 61.2L277.1 62.2L278.0 63.2L278.8 64.3L279.5 65.3L280.1 66.4L280.6 67.5L281.0 68.6L281.2 69.6L281.3 70.7L281.3 71.7L281.3 72.8L281.2 73.8L281.1 74.7L280.9 75.6L280.6 76.5L280.3 77.4L279.9 78.2L279.5 79.0L279.1 79.7L278.6 80.4L278.2 81.0L277.6 81.7L277.1 82.3L276.5 83.0L275.9 83.7L275.2 84.5L274.5 85.3L273.8 86.1L273.0 87.0L272.2 87.8L271.3 88.7L270.5 89.6L269.5 90.6L268.5 91.5L267.3 92.4L266.0 93.3L264.4 94.1L262.5 94.8L260.5 95.5L258.4 96.2L256.6 96.9L255.0 97.6" stroke="#e45a3c"/><path d="M255.0 97.6L253.7 98.3" stroke="#e46048"/><path d="M253.7 98.3L252.6 98.9" stroke="#e4725a"/><path d="M252.6 98.9L251.6 99.5" stroke="#e47e6c"/><path d="M251.6 99.5L250.8 100.2" stroke="#e48a7e"/><path d="M250.8 100.2L250.1 100.8" stroke="#e49690"/><path d="M250.1 100.8L249.5 101.5" stroke="#e4a29c"/><path d="M249.5 101.5L249.1 102.2" stroke="#e4aea8"/><path d="M249.1 102.2L248.8 102.8" stroke="#e4b4b4"/><path d="M248.8 102.8L248.7 103.5" stroke="#e4bac0"/><path d="M248.7 103.5L248.6 104.2" stroke="#e4c6cc"/><path d="M248.6 104.2L248.6 105.0" stroke="#e4ccd8"/><path d="M248.6 105.0L248.6 106.0" stroke="#e4d8e4"/><path d="M248.6 106.0L248.6 107.1" stroke="#d8d8ea"/><path d="M248.6 107.1L248.6 108.4" stroke="#ccccea"/><path d="M248.6 108.4L248.7 109.8" stroke="#bac0ea"/><path d="M248.7 109.8L248.8 111.3" stroke="#a8b4f0"/><path d="M248.8 111.3L248.9 112.7" stroke="#96a8f0"/><path d="M248.9 112.7L249.0 114.0" stroke="#849cf0"/><path d="M249.0 114.0L249.1 115.3" stroke="#7296f0"/><path d="M249.1 115.3L249.2 116.7" stroke="#608af0"/><path d="M249.2 116.7L249.3 118.0" stroke="#4e7ef0"/><path d="M249.3 118.0L249.4 119.2" stroke="#3c72f0"/><path d="M249.4 119.2L249.4 120.2" stroke="#3066f0"/><path d="M249.4 120.2L249.5 121.0" stroke="#2460f0"/></g><path d="M249.5 121.0L249.4 120.2L249.4 119.2L249.3 118.0L249.2 116.7L249.1 115.3L249.0 114.0L248.9 112.7L248.9 111.4L248.9 110.1L248.9 108.8L248.8 107.4L248.6 106.0L248.4 104.6L248.1 103.1L247.7 101.6L247.3 100.1L246.9 98.6L246.4 97.2L245.8 95.8L245.2 94.5L244.5 93.1L243.8 91.8L243.1 90.6L242.5 89.4L241.9 88.4L241.3 87.4L240.8 86.6L240.2 85.7L239.6 84.7L239.0 83.4L238.3 81.8L237.5 80.1L236.6 78.2L235.8 76.2L235.1 74.3L234.4 72.5L233.9 70.9L233.4 69.4L233.0 67.9L232.6 66.4L232.3 64.8L232.0 63.1L231.8 61.2L231.6 59.0L231.4 56.8L231.3 54.6L231.3 52.5L231.2 50.6L231.3 48.9L231.3 47.2L231.5 45.7L231.6 44.3L231.8 43.1L232.0 42.0L232.2 41.1L232.5 40.5L232.8 40.0L233.2 39.6L233.6 39.3L234.0 39.0L234.4 38.7L234.8 38.5L235.2 38.3L235.7 38.3L236.5 38.5L237.5 38.9L238.9 39.7L240.6 40.7L242.5 42.0L244.5 43.4L246.5 44.7L248.4 45.9L250.2 47.0L252.1 48.1L253.9 49.2L255.8 50.2L257.6 51.3L259.4 52.2L261.2 53.1L263.1 53.9L265.0 54.7L266.8 55.4L268.5 56.2L270.0 56.9L271.3 57.6L272.5 58.3L273.5 59.0L274.5 59.7L275.4 60.4L276.2 61.2L277.1 62.2L278.0 63.2L278.8 64.3L279.5 65.3L280.1 66.4L280.6 67.5L281.0 68.6L281.2 69.6L281.3 70.7L281.3 71.7L281.3 72.8L281.2 73.8L281.1 74.7L280.9 75.6L280.6 76.5L280.3 77.4L279.9 78.2L279.5 79.0L279.1 79.7L278.6 80.4L278.2 81.0L277.6 81.7L277.1 82.3L276.5 83.0L275.9 83.7L275.2 84.5L274.5 85.3L273.8 86.1L273.0 87.0L272.2 87.8L271.3 88.7L270.5 89.6L269.5 90.6L268.5 91.5L267.3 92.4L266.0 93.3L264.4 94.1L262.5 94.8L260.5 95.5L258.4 96.2L256.6 96.9L255.0 97.6L253.7 98.3L252.6 98.9L251.6 99.5L250.8 100.2L250.1 100.8L249.5 101.5L249.1 102.2L248.8 102.8L248.7 103.5L248.6 104.2L248.6 105.0L248.6 106.0L248.6 107.1L248.6 108.4L248.7 109.8L248.8 111.3L248.9 112.7L249.0 114.0L249.1 115.3L249.2 116.7L249.3 118.0L249.4 119.2L249.4 120.2L249.5 121.0" fill="none" stroke="#111" stroke-width="1.10" stroke-dasharray="4.2,1.6"/>
<rect x="220.5" y="29.5" width="91" height="107" fill="none" stroke="#8a8a8a" stroke-width="0.9"/>
<line x1="220.5" y1="116.00" x2="222" y2="116.00" stroke="#8a8a8a" stroke-width="0.8"/>
<line x1="310" y1="116.00" x2="311.5" y2="116.00" stroke="#8a8a8a" stroke-width="0.8"/>
<line x1="220.5" y1="89.33" x2="222" y2="89.33" stroke="#8a8a8a" stroke-width="0.8"/>
<line x1="310" y1="89.33" x2="311.5" y2="89.33" stroke="#8a8a8a" stroke-width="0.8"/>
<line x1="220.5" y1="62.66" x2="222" y2="62.66" stroke="#8a8a8a" stroke-width="0.8"/>
<line x1="310" y1="62.66" x2="311.5" y2="62.66" stroke="#8a8a8a" stroke-width="0.8"/>
<line x1="220.5" y1="36.00" x2="222" y2="36.00" stroke="#8a8a8a" stroke-width="0.8"/>
<line x1="310" y1="36.00" x2="311.5" y2="36.00" stroke="#8a8a8a" stroke-width="0.8"/>
<line x1="241.50" y1="135" x2="241.50" y2="136.5" stroke="#8a8a8a" stroke-width="0.8"/>
<line x1="241.50" y1="29.5" x2="241.50" y2="31" stroke="#8a8a8a" stroke-width="0.8"/>
<text x="241.50" y="149.70" font-size="9.6" text-anchor="middle" fill="#333">10</text>
<line x1="264.00" y1="135" x2="264.00" y2="136.5" stroke="#8a8a8a" stroke-width="0.8"/>
<line x1="264.00" y1="29.5" x2="264.00" y2="31" stroke="#8a8a8a" stroke-width="0.8"/>
<text x="264.00" y="149.70" font-size="9.6" text-anchor="middle" fill="#333">20</text>
<line x1="286.50" y1="135" x2="286.50" y2="136.5" stroke="#8a8a8a" stroke-width="0.8"/>
<line x1="286.50" y1="29.5" x2="286.50" y2="31" stroke="#8a8a8a" stroke-width="0.8"/>
<text x="286.50" y="149.70" font-size="9.6" text-anchor="middle" fill="#333">30</text>
<line x1="309.00" y1="135" x2="309.00" y2="136.5" stroke="#8a8a8a" stroke-width="0.8"/>
<line x1="309.00" y1="29.5" x2="309.00" y2="31" stroke="#8a8a8a" stroke-width="0.8"/>
<text x="309.00" y="149.70" font-size="9.6" text-anchor="middle" fill="#333">40</text>
<text x="224" y="38" font-size="9" font-weight="bold" fill="#000">c)</text>
<text x="308.3" y="132.4" font-size="11.2" font-weight="bold" text-anchor="end" fill="#000">III to IV</text>
<g fill="none" stroke-width="2.5" stroke-linecap="round" stroke-linejoin="round"><path d="M76.0 266.0L76.2 265.7" stroke="#1e5af0"/><path d="M76.2 265.7L76.5 265.2" stroke="#1e60f0"/><path d="M76.5 265.2L76.8 264.6L77.1 264.0" stroke="#2460f0"/><path d="M77.1 264.0L77.3 263.3" stroke="#2a60f0"/><path d="M77.3 263.3L77.3 262.5" stroke="#2a66f0"/><path d="M77.3 262.5L77.2 261.7L76.9 260.7" stroke="#3066f0"/><path d="M76.9 260.7L76.6 259.7L76.2 258.7" stroke="#366cf0"/><path d="M76.2 258.7L75.7 257.5" stroke="#3c72f0"/><path d="M75.7 257.5L75.0 256.2" stroke="#4272f0"/><path d="M75.0 256.2L74.1 254.9" stroke="#4878f0"/><path d="M74.1 254.9L73.0 253.4" stroke="#4e7ef0"/><path d="M73.0 253.4L71.8 251.9" stroke="#547ef0"/><path d="M71.8 251.9L70.6 250.2" stroke="#5a84f0"/><path d="M70.6 250.2L69.6 248.6" stroke="#608af0"/><path d="M69.6 248.6L68.8 246.9" stroke="#6c90f0"/><path d="M68.8 246.9L68.2 245.2" stroke="#7290f0"/><path d="M68.2 245.2L67.8 243.4" stroke="#7896f0"/><path d="M67.8 243.4L67.5 241.6" stroke="#7e9cf0"/><path d="M67.5 241.6L67.4 239.7" stroke="#84a2f0"/><path d="M67.4 239.7L67.3 237.8" stroke="#8aa2f0"/><path d="M67.3 237.8L67.2 236.0" stroke="#90a8f0"/><path d="M67.2 236.0L67.2 234.2" stroke="#96aef0"/><path d="M67.2 234.2L67.4 232.3" stroke="#9cb4f0"/><path d="M67.4 232.3L67.6 230.4" stroke="#a8b4f0"/><path d="M67.6 230.4L67.8 228.6" stroke="#aebaea"/><path d="M67.8 228.6L67.9 226.8" stroke="#b4c0ea"/><path d="M67.9 226.8L68.0 225.0" stroke="#bac6ea"/><path d="M68.0 225.0L67.9 223.3" stroke="#c0c6ea"/><path d="M67.9 223.3L67.7 221.5" stroke="#c6ccea"/><path d="M67.7 221.5L67.5 219.9" stroke="#ccd2ea"/><path d="M67.5 219.9L67.2 218.2" stroke="#d2d2ea"/><path d="M67.2 218.2L67.0 216.6" stroke="#d8d8ea"/><path d="M67.0 216.6L66.9 215.0" stroke="#dedeea"/><path d="M66.9 215.0L66.9 213.4" stroke="#e4d8e4"/><path d="M66.9 213.4L67.0 211.9" stroke="#e4ccd2"/><path d="M67.0 211.9L67.1 210.4" stroke="#e4bac0"/><path d="M67.1 210.4L67.3 209.0" stroke="#e4aeae"/><path d="M67.3 209.0L67.4 207.6" stroke="#e4a29c"/><path d="M67.4 207.6L67.5 206.2" stroke="#e49690"/><path d="M67.5 206.2L67.5 204.9" stroke="#e48a7e"/><path d="M67.5 204.9L67.4 203.6" stroke="#e48472"/><path d="M67.4 203.6L67.3 202.3" stroke="#e47860"/><path d="M67.3 202.3L67.2 201.2" stroke="#e46c54"/><path d="M67.2 201.2L67.3 200.2" stroke="#e46048"/><path d="M67.3 200.2L67.5 199.5L67.9 199.0L68.3 198.8L68.8 198.8L69.5 198.9L70.3 199.1L71.2 199.4L72.5 199.8L73.9 200.5L75.5 201.2L77.2 202.0L78.7 202.9L80.0 203.8L81.0 204.7L81.9 205.6L82.7 206.7L83.4 207.8L84.1 208.9L85.0 210.0L86.0 211.2L87.2 212.5L88.3 213.9L89.4 215.2L90.4 216.5L91.2 217.5L91.8 218.3L92.3 218.9L92.6 219.5L92.8 220.0L93.0 220.5L93.1 221.2L93.2 222.1" stroke="#e45a3c"/><path d="M93.2 222.1L93.1 223.1" stroke="#e46042"/><path d="M93.1 223.1L93.0 224.2" stroke="#e4664e"/><path d="M93.0 224.2L92.9 225.3" stroke="#e46c54"/><path d="M92.9 225.3L92.7 226.4" stroke="#e47260"/><path d="M92.7 226.4L92.5 227.5" stroke="#e47866"/><path d="M92.5 227.5L92.2 228.6" stroke="#e47e6c"/><path d="M92.2 228.6L91.9 229.7" stroke="#e48478"/><path d="M91.9 229.7L91.6 230.8" stroke="#e4907e"/><path d="M91.6 230.8L91.2 231.9" stroke="#e4968a"/><path d="M91.2 231.9L90.8 233.1" stroke="#e49c90"/><path d="M90.8 233.1L90.5 234.4" stroke="#e4a29c"/><path d="M90.5 234.4L90.2 235.8" stroke="#e4a8a8"/><path d="M90.2 235.8L90.0 237.3" stroke="#e4b4b4"/><path d="M90.0 237.3L89.8 238.8" stroke="#e4bac0"/><path d="M89.8 238.8L89.6 240.4" stroke="#e4c6cc"/><path d="M89.6 240.4L89.3 242.1" stroke="#e4d2d8"/><path d="M89.3 242.1L89.0 243.8" stroke="#e4d8e4"/><path d="M89.0 243.8L88.6 245.5" stroke="#dedeea"/><path d="M88.6 245.5L88.3 247.4" stroke="#d8d8ea"/><path d="M88.3 247.4L87.9 249.3" stroke="#ccd2ea"/><path d="M87.9 249.3L87.4 251.2" stroke="#c6ccea"/><path d="M87.4 251.2L86.8 253.0" stroke="#c0c6ea"/><path d="M86.8 253.0L86.0 254.7" stroke="#b4c0ea"/><path d="M86.0 254.7L84.8 256.2" stroke="#aebaea"/><path d="M84.8 256.2L83.3 257.7" stroke="#a8b4f0"/><path d="M83.3 257.7L81.7 259.1" stroke="#9caef0"/><path d="M81.7 259.1L80.1 260.4" stroke="#96a8f0"/><path d="M80.1 260.4L78.8 261.5" stroke="#8aa8f0"/><path d="M78.8 261.5L78.0 262.5" stroke="#84a2f0"/><path d="M78.0 262.5L77.7 263.3" stroke="#849cf0"/><path d="M77.7 263.3L77.7 264.0L78.0 264.5" stroke="#7e9cf0"/><path d="M78.0 264.5L78.6 264.9L79.2 265.2" stroke="#7896f0"/><path d="M79.2 265.2L80.0 265.5" stroke="#7296f0"/><path d="M80.0 265.5L81.1 265.6" stroke="#7290f0"/><path d="M81.1 265.6L82.6 265.6" stroke="#6c90f0"/><path d="M82.6 265.6L84.3 265.5" stroke="#668af0"/><path d="M84.3 265.5L85.8 265.3L87.0 265.3" stroke="#5a84f0"/><path d="M87.0 265.3L87.5 265.3L87.2 265.5" stroke="#547ef0"/><path d="M87.2 265.5L86.4 265.8" stroke="#4e7ef0"/><path d="M86.4 265.8L85.1 266.1" stroke="#4878f0"/><path d="M85.1 266.1L83.6 266.5" stroke="#4278f0"/><path d="M83.6 266.5L82.2 266.8" stroke="#3c72f0"/><path d="M82.2 266.8L81.0 267.0" stroke="#3c6cf0"/><path d="M81.0 267.0L79.9 267.1" stroke="#366cf0"/><path d="M79.9 267.1L78.7 267.1" stroke="#3066f0"/><path d="M78.7 267.1L77.6 267.1" stroke="#2a66f0"/><path d="M77.6 267.1L76.5 267.1L75.6 267.0" stroke="#2460f0"/><path d="M75.6 267.0L75.0 267.0" stroke="#1e5af0"/></g><path d="M76.0 266.0L76.2 265.7L76.5 265.2L76.8 264.6L77.1 264.0L77.3 263.3L77.3 262.5L77.2 261.7L76.9 260.7L76.6 259.7L76.2 258.7L75.7 257.5L75.0 256.2L74.1 254.9L73.0 253.4L71.8 251.9L70.6 250.2L69.6 248.6L68.8 246.9L68.2 245.2L67.8 243.4L67.5 241.6L67.4 239.7L67.3 237.8L67.2 236.0L67.2 234.2L67.4 232.3L67.6 230.4L67.8 228.6L67.9 226.8L68.0 225.0L67.9 223.3L67.7 221.5L67.5 219.9L67.2 218.2L67.0 216.6L66.9 215.0L66.9 213.4L67.0 211.9L67.1 210.4L67.3 209.0L67.4 207.6L67.5 206.2L67.5 204.9L67.4 203.6L67.3 202.3L67.2 201.2L67.3 200.2L67.5 199.5L67.9 199.0L68.3 198.8L68.8 198.8L69.5 198.9L70.3 199.1L71.2 199.4L72.5 199.8L73.9 200.5L75.5 201.2L77.2 202.0L78.7 202.9L80.0 203.8L81.0 204.7L81.9 205.6L82.7 206.7L83.4 207.8L84.1 208.9L85.0 210.0L86.0 211.2L87.2 212.5L88.3 213.9L89.4 215.2L90.4 216.5L91.2 217.5L91.8 218.3L92.3 218.9L92.6 219.5L92.8 220.0L93.0 220.5L93.1 221.2L93.2 222.1L93.1 223.1L93.0 224.2L92.9 225.3L92.7 226.4L92.5 227.5L92.2 228.6L91.9 229.7L91.6 230.8L91.2 231.9L90.8 233.1L90.5 234.4L90.2 235.8L90.0 237.3L89.8 238.8L89.6 240.4L89.3 242.1L89.0 243.8L88.6 245.5L88.3 247.4L87.9 249.3L87.4 251.2L86.8 253.0L86.0 254.7L84.8 256.2L83.3 257.7L81.7 259.1L80.1 260.4L78.8 261.5L78.0 262.5L77.7 263.3L77.7 264.0L78.0 264.5L78.6 264.9L79.2 265.2L80.0 265.5L81.1 265.6L82.6 265.6L84.3 265.5L85.8 265.3L87.0 265.3L87.5 265.3L87.2 265.5L86.4 265.8L85.1 266.1L83.6 266.5L82.2 266.8L81.0 267.0L79.9 267.1L78.7 267.1L77.6 267.1L76.5 267.1L75.6 267.0L75.0 267.0" fill="none" stroke="#111" stroke-width="0.99"/><g fill="none" stroke-width="2.5" stroke-linecap="round" stroke-linejoin="round"><path d="M73.0 264.0L73.1 263.4" stroke="#1e5af0"/><path d="M73.1 263.4L73.3 262.5L73.6 261.5" stroke="#2460f0"/><path d="M73.6 261.5L73.7 260.3" stroke="#2a66f0"/><path d="M73.7 260.3L73.7 259.1" stroke="#3066f0"/><path d="M73.7 259.1L73.4 257.8" stroke="#306cf0"/><path d="M73.4 257.8L72.7 256.4" stroke="#366cf0"/><path d="M72.7 256.4L71.7 255.0" stroke="#3c72f0"/><path d="M71.7 255.0L70.5 253.4" stroke="#4878f0"/><path d="M70.5 253.4L69.3 251.8" stroke="#4e7ef0"/><path d="M69.3 251.8L68.1 250.1" stroke="#547ef0"/><path d="M68.1 250.1L67.2 248.4" stroke="#5a84f0"/><path d="M67.2 248.4L66.5 246.7" stroke="#608af0"/><path d="M66.5 246.7L65.8 244.9" stroke="#6c90f0"/><path d="M65.8 244.9L65.3 243.1" stroke="#7290f0"/><path d="M65.3 243.1L64.8 241.3" stroke="#7896f0"/><path d="M64.8 241.3L64.4 239.4" stroke="#7e9cf0"/><path d="M64.4 239.4L64.0 237.5" stroke="#84a2f0"/><path d="M64.0 237.5L63.6 235.5" stroke="#90a8f0"/><path d="M63.6 235.5L63.4 233.4" stroke="#96aef0"/><path d="M63.4 233.4L63.1 231.3" stroke="#9caef0"/><path d="M63.1 231.3L62.9 229.1" stroke="#a2b4f0"/><path d="M62.9 229.1L62.7 227.0" stroke="#aebaea"/><path d="M62.7 227.0L62.5 225.0" stroke="#b4c0ea"/><path d="M62.5 225.0L62.3 223.1" stroke="#bac6ea"/><path d="M62.3 223.1L62.0 221.3" stroke="#c0ccea"/><path d="M62.0 221.3L61.7 219.5" stroke="#ccccea"/><path d="M61.7 219.5L61.5 217.7" stroke="#d2d2ea"/><path d="M61.5 217.7L61.3 215.9" stroke="#d8d8ea"/><path d="M61.3 215.9L61.2 214.0" stroke="#dedeea"/><path d="M61.2 214.0L61.2 212.0" stroke="#e4d8e4"/><path d="M61.2 212.0L61.3 209.8" stroke="#e4c6cc"/><path d="M61.3 209.8L61.3 207.7" stroke="#e4baba"/><path d="M61.3 207.7L61.5 205.6" stroke="#e4a8a2"/><path d="M61.5 205.6L61.7 203.7" stroke="#e49c90"/><path d="M61.7 203.7L61.9 202.0" stroke="#e48a7e"/><path d="M61.9 202.0L62.2 200.6" stroke="#e48472"/><path d="M62.2 200.6L62.6 199.4" stroke="#e47866"/><path d="M62.6 199.4L63.0 198.4" stroke="#e4725a"/><path d="M63.0 198.4L63.4 197.5" stroke="#e4664e"/><path d="M63.4 197.5L63.9 196.8" stroke="#e46048"/><path d="M63.9 196.8L64.4 196.2L64.9 195.8L65.3 195.5L65.8 195.3L66.4 195.3L67.1 195.4L68.0 195.6L69.1 195.9L70.4 196.4L71.9 196.9L73.4 197.6L74.9 198.3L76.2 199.0L77.6 199.8L79.0 200.7L80.4 201.6L81.6 202.5L82.8 203.4L83.8 204.3L84.5 205.1L85.1 205.9L85.5 206.6L85.9 207.4L86.1 208.1L86.2 208.8L86.3 209.4L86.2 210.0L86.0 210.5L85.7 211.1L85.4 211.7L85.0 212.5L84.6 213.4L84.0 214.4L83.5 215.4L82.9 216.5L82.3 217.6L81.9 218.8" stroke="#e45a3c"/><path d="M81.9 218.8L81.5 219.9" stroke="#e45a42"/><path d="M81.5 219.9L81.2 221.0" stroke="#e46648"/><path d="M81.2 221.0L81.0 222.1" stroke="#e46c54"/><path d="M81.0 222.1L80.8 223.3" stroke="#e47260"/><path d="M80.8 223.3L80.6 224.7" stroke="#e47e66"/><path d="M80.6 224.7L80.6 226.2" stroke="#e48478"/><path d="M80.6 226.2L80.7 228.1" stroke="#e49084"/><path d="M80.7 228.1L81.0 230.1" stroke="#e49c96"/><path d="M81.0 230.1L81.4 232.3" stroke="#e4a8a8"/><path d="M81.4 232.3L81.7 234.6" stroke="#e4baba"/><path d="M81.7 234.6L81.9 236.8" stroke="#e4c6cc"/><path d="M81.9 236.8L82.0 239.0" stroke="#e4d8e4"/><path d="M82.0 239.0L81.9 241.2" stroke="#d8d8ea"/><path d="M81.9 241.2L81.6 243.4" stroke="#ccccea"/><path d="M81.6 243.4L81.2 245.6" stroke="#bac6ea"/><path d="M81.2 245.6L80.8 247.8" stroke="#a8baea"/><path d="M80.8 247.8L80.3 249.8" stroke="#9caef0"/><path d="M80.3 249.8L79.7 251.6" stroke="#8aa8f0"/><path d="M79.7 251.6L79.0 253.2" stroke="#7e9cf0"/><path d="M79.0 253.2L78.2 254.7" stroke="#7296f0"/><path d="M78.2 254.7L77.3 256.0" stroke="#6690f0"/><path d="M77.3 256.0L76.5 257.3" stroke="#5a84f0"/><path d="M76.5 257.3L75.7 258.4" stroke="#547ef0"/><path d="M75.7 258.4L75.0 259.4" stroke="#4878f0"/><path d="M75.0 259.4L74.4 260.3" stroke="#4272f0"/><path d="M74.4 260.3L74.0 261.1" stroke="#3c6cf0"/><path d="M74.0 261.1L73.5 261.8" stroke="#366cf0"/><path d="M73.5 261.8L73.2 262.4" stroke="#3066f0"/><path d="M73.2 262.4L72.9 262.9" stroke="#2a66f0"/><path d="M72.9 262.9L72.7 263.3L72.6 263.6L72.6 263.8" stroke="#2460f0"/><path d="M72.6 263.8L72.7 263.9L72.8 263.9" stroke="#1e60f0"/><path d="M72.8 263.9L72.9 264.0L73.0 264.0" stroke="#1e5af0"/></g><path d="M73.0 264.0L73.1 263.4L73.3 262.5L73.6 261.5L73.7 260.3L73.7 259.1L73.4 257.8L72.7 256.4L71.7 255.0L70.5 253.4L69.3 251.8L68.1 250.1L67.2 248.4L66.5 246.7L65.8 244.9L65.3 243.1L64.8 241.3L64.4 239.4L64.0 237.5L63.6 235.5L63.4 233.4L63.1 231.3L62.9 229.1L62.7 227.0L62.5 225.0L62.3 223.1L62.0 221.3L61.7 219.5L61.5 217.7L61.3 215.9L61.2 214.0L61.2 212.0L61.3 209.8L61.3 207.7L61.5 205.6L61.7 203.7L61.9 202.0L62.2 200.6L62.6 199.4L63.0 198.4L63.4 197.5L63.9 196.8L64.4 196.2L64.9 195.8L65.3 195.5L65.8 195.3L66.4 195.3L67.1 195.4L68.0 195.6L69.1 195.9L70.4 196.4L71.9 196.9L73.4 197.6L74.9 198.3L76.2 199.0L77.6 199.8L79.0 200.7L80.4 201.6L81.6 202.5L82.8 203.4L83.8 204.3L84.5 205.1L85.1 205.9L85.5 206.6L85.9 207.4L86.1 208.1L86.2 208.8L86.3 209.4L86.2 210.0L86.0 210.5L85.7 211.1L85.4 211.7L85.0 212.5L84.6 213.4L84.0 214.4L83.5 215.4L82.9 216.5L82.3 217.6L81.9 218.8L81.5 219.9L81.2 221.0L81.0 222.1L80.8 223.3L80.6 224.7L80.6 226.2L80.7 228.1L81.0 230.1L81.4 232.3L81.7 234.6L81.9 236.8L82.0 239.0L81.9 241.2L81.6 243.4L81.2 245.6L80.8 247.8L80.3 249.8L79.7 251.6L79.0 253.2L78.2 254.7L77.3 256.0L76.5 257.3L75.7 258.4L75.0 259.4L74.4 260.3L74.0 261.1L73.5 261.8L73.2 262.4L72.9 262.9L72.7 263.3L72.6 263.6L72.6 263.8L72.7 263.9L72.8 263.9L72.9 264.0L73.0 264.0" fill="none" stroke="#111" stroke-width="1.10" stroke-dasharray="4.2,1.6"/>
<rect x="30.5" y="167.5" width="91" height="107" fill="none" stroke="#8a8a8a" stroke-width="0.9"/>
<line x1="30.5" y1="262.50" x2="32" y2="262.50" stroke="#8a8a8a" stroke-width="0.8"/>
<line x1="120" y1="262.50" x2="121.5" y2="262.50" stroke="#8a8a8a" stroke-width="0.8"/>
<text x="26.8" y="266.40" font-size="9.6" text-anchor="end" fill="#333">5</text>
<line x1="30.5" y1="240.00" x2="32" y2="240.00" stroke="#8a8a8a" stroke-width="0.8"/>
<line x1="120" y1="240.00" x2="121.5" y2="240.00" stroke="#8a8a8a" stroke-width="0.8"/>
<text x="26.8" y="243.90" font-size="9.6" text-anchor="end" fill="#333">10</text>
<line x1="30.5" y1="217.50" x2="32" y2="217.50" stroke="#8a8a8a" stroke-width="0.8"/>
<line x1="120" y1="217.50" x2="121.5" y2="217.50" stroke="#8a8a8a" stroke-width="0.8"/>
<text x="26.8" y="221.40" font-size="9.6" text-anchor="end" fill="#333">15</text>
<line x1="30.5" y1="195.00" x2="32" y2="195.00" stroke="#8a8a8a" stroke-width="0.8"/>
<line x1="120" y1="195.00" x2="121.5" y2="195.00" stroke="#8a8a8a" stroke-width="0.8"/>
<text x="26.8" y="198.90" font-size="9.6" text-anchor="end" fill="#333">20</text>
<line x1="30.5" y1="172.50" x2="32" y2="172.50" stroke="#8a8a8a" stroke-width="0.8"/>
<line x1="120" y1="172.50" x2="121.5" y2="172.50" stroke="#8a8a8a" stroke-width="0.8"/>
<text x="26.8" y="176.40" font-size="9.6" text-anchor="end" fill="#333">25</text>
<line x1="42.75" y1="273" x2="42.75" y2="274.5" stroke="#8a8a8a" stroke-width="0.8"/>
<line x1="42.75" y1="167.5" x2="42.75" y2="169" stroke="#8a8a8a" stroke-width="0.8"/>
<text x="42.75" y="287.70" font-size="9.6" text-anchor="middle" fill="#333">20</text>
<line x1="68.75" y1="273" x2="68.75" y2="274.5" stroke="#8a8a8a" stroke-width="0.8"/>
<line x1="68.75" y1="167.5" x2="68.75" y2="169" stroke="#8a8a8a" stroke-width="0.8"/>
<text x="68.75" y="287.70" font-size="9.6" text-anchor="middle" fill="#333">40</text>
<line x1="94.75" y1="273" x2="94.75" y2="274.5" stroke="#8a8a8a" stroke-width="0.8"/>
<line x1="94.75" y1="167.5" x2="94.75" y2="169" stroke="#8a8a8a" stroke-width="0.8"/>
<text x="94.75" y="287.70" font-size="9.6" text-anchor="middle" fill="#333">60</text>
<line x1="120.75" y1="273" x2="120.75" y2="274.5" stroke="#8a8a8a" stroke-width="0.8"/>
<line x1="120.75" y1="167.5" x2="120.75" y2="169" stroke="#8a8a8a" stroke-width="0.8"/>
<text x="120.75" y="287.70" font-size="9.6" text-anchor="middle" fill="#333">80</text>
<text x="34" y="176" font-size="9" font-weight="bold" fill="#000">d)</text>
<text x="114.2" y="179.1" font-size="11.2" font-weight="bold" text-anchor="end" fill="#000">IV</text>
<g fill="none" stroke-width="2.5" stroke-linecap="round" stroke-linejoin="round"><path d="M170.0 267.0L170.4 266.4" stroke="#1e5af0"/><path d="M170.4 266.4L171.1 265.6L171.8 264.7" stroke="#2460f0"/><path d="M171.8 264.7L172.5 263.7" stroke="#2a66f0"/><path d="M172.5 263.7L173.0 262.7" stroke="#3066f0"/><path d="M173.0 262.7L173.1 261.7" stroke="#306cf0"/><path d="M173.1 261.7L172.8 260.8L172.2 259.9" stroke="#366cf0"/><path d="M172.2 259.9L171.3 259.0" stroke="#3c72f0"/><path d="M171.3 259.0L170.4 258.1" stroke="#4272f0"/><path d="M170.4 258.1L169.4 257.2L168.4 256.2" stroke="#4878f0"/><path d="M168.4 256.2L167.4 255.3" stroke="#4e7ef0"/><path d="M167.4 255.3L166.3 254.3" stroke="#547ef0"/><path d="M166.3 254.3L165.2 253.3" stroke="#5a84f0"/><path d="M165.2 253.3L164.1 252.2" stroke="#6084f0"/><path d="M164.1 252.2L163.1 251.1" stroke="#608af0"/><path d="M163.1 251.1L162.2 250.0" stroke="#6690f0"/><path d="M162.2 250.0L161.4 248.8" stroke="#6c90f0"/><path d="M161.4 248.8L160.8 247.6" stroke="#7296f0"/><path d="M160.8 247.6L160.2 246.3" stroke="#7896f0"/><path d="M160.2 246.3L159.7 245.0" stroke="#789cf0"/><path d="M159.7 245.0L159.3 243.6" stroke="#7e9cf0"/><path d="M159.3 243.6L159.0 242.2" stroke="#84a2f0"/><path d="M159.0 242.2L158.9 240.7" stroke="#8aa2f0"/><path d="M158.9 240.7L158.9 239.1" stroke="#90a8f0"/><path d="M158.9 239.1L159.1 237.5" stroke="#96a8f0"/><path d="M159.1 237.5L159.3 235.9" stroke="#9caef0"/><path d="M159.3 235.9L159.6 234.3L159.8 232.8" stroke="#a2b4f0"/><path d="M159.8 232.8L160.0 231.4" stroke="#a8baea"/><path d="M160.0 231.4L160.3 230.1" stroke="#aebaea"/><path d="M160.3 230.1L160.6 228.9" stroke="#b4c0ea"/><path d="M160.6 228.9L160.9 227.6" stroke="#bac0ea"/><path d="M160.9 227.6L161.2 226.4" stroke="#bac6ea"/><path d="M161.2 226.4L161.4 225.0" stroke="#c0c6ea"/><path d="M161.4 225.0L161.6 223.6" stroke="#c6ccea"/><path d="M161.6 223.6L161.7 222.1" stroke="#ccccea"/><path d="M161.7 222.1L161.8 220.6" stroke="#ccd2ea"/><path d="M161.8 220.6L161.9 219.1" stroke="#d2d8ea"/><path d="M161.9 219.1L162.0 217.5" stroke="#d8d8ea"/><path d="M162.0 217.5L162.0 216.0" stroke="#dedeea"/><path d="M162.0 216.0L161.9 214.4" stroke="#e4d8e4"/><path d="M161.9 214.4L161.8 212.8" stroke="#e4ccd2"/><path d="M161.8 212.8L161.7 211.1" stroke="#e4bac0"/><path d="M161.7 211.1L161.5 209.5" stroke="#e4aea8"/><path d="M161.5 209.5L161.4 208.0" stroke="#e4a296"/><path d="M161.4 208.0L161.4 206.6" stroke="#e4968a"/><path d="M161.4 206.6L161.4 205.3" stroke="#e48a78"/><path d="M161.4 205.3L161.5 204.1" stroke="#e47e6c"/><path d="M161.5 204.1L161.6 203.0" stroke="#e47260"/><path d="M161.6 203.0L161.8 202.0" stroke="#e46c54"/><path d="M161.8 202.0L162.1 201.2" stroke="#e46048"/><path d="M162.1 201.2L162.5 200.5L163.0 200.0L163.5 199.6L164.2 199.3L164.9 199.2L165.8 199.3L166.9 199.5L168.2 199.9L169.7 200.5L171.4 201.3L173.1 202.2L174.7 203.2L176.2 204.2L177.7 205.3L179.1 206.7L180.5 208.0L181.8 209.5L183.0 210.8L184.0 212.0L184.8 213.0L185.5 213.9L186.1 214.8L186.5 215.6L186.9 216.5L187.2 217.5L187.4 218.6" stroke="#e45a3c"/><path d="M187.4 218.6L187.5 219.8" stroke="#e46048"/><path d="M187.5 219.8L187.4 221.0" stroke="#e46c4e"/><path d="M187.4 221.0L187.4 222.3" stroke="#e4725a"/><path d="M187.4 222.3L187.3 223.6" stroke="#e47866"/><path d="M187.3 223.6L187.2 225.0" stroke="#e47e72"/><path d="M187.2 225.0L187.1 226.5" stroke="#e48a78"/><path d="M187.1 226.5L186.9 228.1" stroke="#e4908a"/><path d="M186.9 228.1L186.8 229.8" stroke="#e49c96"/><path d="M186.8 229.8L186.6 231.5" stroke="#e4a8a2"/><path d="M186.6 231.5L186.5 233.0" stroke="#e4aeae"/><path d="M186.5 233.0L186.4 234.4" stroke="#e4baba"/><path d="M186.4 234.4L186.4 235.6" stroke="#e4c0c6"/><path d="M186.4 235.6L186.5 236.6" stroke="#e4c6cc"/><path d="M186.5 236.6L186.6 237.5" stroke="#e4ccd2"/><path d="M186.6 237.5L186.8 238.3" stroke="#e4d2d8"/><path d="M186.8 238.3L186.9 239.1" stroke="#e4d8de"/><path d="M186.9 239.1L187.0 240.0" stroke="#e4deea"/><path d="M187.0 240.0L187.1 240.9" stroke="#dedeea"/><path d="M187.1 240.9L187.2 241.7" stroke="#ded8ea"/><path d="M187.2 241.7L187.4 242.5" stroke="#d8d8ea"/><path d="M187.4 242.5L187.5 243.3" stroke="#d2d8ea"/><path d="M187.5 243.3L187.4 244.2" stroke="#d2d2ea"/><path d="M187.4 244.2L187.2 245.3" stroke="#ccd2ea"/><path d="M187.2 245.3L186.8 246.6" stroke="#c6ccea"/><path d="M186.8 246.6L186.3 248.0" stroke="#c0c6ea"/><path d="M186.3 248.0L185.7 249.5" stroke="#bac6ea"/><path d="M185.7 249.5L185.0 251.0" stroke="#b4c0ea"/><path d="M185.0 251.0L184.2 252.5" stroke="#aebaea"/><path d="M184.2 252.5L183.3 253.9" stroke="#a2b4f0"/><path d="M183.3 253.9L182.2 255.2" stroke="#9caef0"/><path d="M182.2 255.2L180.8 256.5" stroke="#96aef0"/><path d="M180.8 256.5L179.4 257.7" stroke="#90a8f0"/><path d="M179.4 257.7L177.9 258.9" stroke="#84a2f0"/><path d="M177.9 258.9L176.6 260.0" stroke="#7e9cf0"/><path d="M176.6 260.0L175.5 261.0" stroke="#7896f0"/><path d="M175.5 261.0L174.6 261.9" stroke="#7296f0"/><path d="M174.6 261.9L173.7 262.6" stroke="#6c90f0"/><path d="M173.7 262.6L172.9 263.3L172.3 263.9" stroke="#668af0"/><path d="M172.3 263.9L172.0 264.4" stroke="#608af0"/><path d="M172.0 264.4L172.0 265.0" stroke="#6084f0"/><path d="M172.0 265.0L172.6 265.6" stroke="#5a84f0"/><path d="M172.6 265.6L173.7 266.2" stroke="#5484f0"/><path d="M173.7 266.2L175.2 266.8" stroke="#4e7ef0"/><path d="M175.2 266.8L176.5 267.3" stroke="#4878f0"/><path d="M176.5 267.3L177.5 267.7" stroke="#4278f0"/><path d="M177.5 267.7L177.8 268.0" stroke="#4272f0"/><path d="M177.8 268.0L177.2 268.1" stroke="#3c72f0"/><path d="M177.2 268.1L175.9 268.1" stroke="#3c6cf0"/><path d="M175.9 268.1L174.3 267.9" stroke="#366cf0"/><path d="M174.3 267.9L172.5 267.8" stroke="#2a66f0"/><path d="M172.5 267.8L171.0 267.6" stroke="#2460f0"/><path d="M171.0 267.6L170.0 267.5" stroke="#1e60f0"/></g><path d="M170.0 267.0L170.4 266.4L171.1 265.6L171.8 264.7L172.5 263.7L173.0 262.7L173.1 261.7L172.8 260.8L172.2 259.9L171.3 259.0L170.4 258.1L169.4 257.2L168.4 256.2L167.4 255.3L166.3 254.3L165.2 253.3L164.1 252.2L163.1 251.1L162.2 250.0L161.4 248.8L160.8 247.6L160.2 246.3L159.7 245.0L159.3 243.6L159.0 242.2L158.9 240.7L158.9 239.1L159.1 237.5L159.3 235.9L159.6 234.3L159.8 232.8L160.0 231.4L160.3 230.1L160.6 228.9L160.9 227.6L161.2 226.4L161.4 225.0L161.6 223.6L161.7 222.1L161.8 220.6L161.9 219.1L162.0 217.5L162.0 216.0L161.9 214.4L161.8 212.8L161.7 211.1L161.5 209.5L161.4 208.0L161.4 206.6L161.4 205.3L161.5 204.1L161.6 203.0L161.8 202.0L162.1 201.2L162.5 200.5L163.0 200.0L163.5 199.6L164.2 199.3L164.9 199.2L165.8 199.3L166.9 199.5L168.2 199.9L169.7 200.5L171.4 201.3L173.1 202.2L174.7 203.2L176.2 204.2L177.7 205.3L179.1 206.7L180.5 208.0L181.8 209.5L183.0 210.8L184.0 212.0L184.8 213.0L185.5 213.9L186.1 214.8L186.5 215.6L186.9 216.5L187.2 217.5L187.4 218.6L187.5 219.8L187.4 221.0L187.4 222.3L187.3 223.6L187.2 225.0L187.1 226.5L186.9 228.1L186.8 229.8L186.6 231.5L186.5 233.0L186.4 234.4L186.4 235.6L186.5 236.6L186.6 237.5L186.8 238.3L186.9 239.1L187.0 240.0L187.1 240.9L187.2 241.7L187.4 242.5L187.5 243.3L187.4 244.2L187.2 245.3L186.8 246.6L186.3 248.0L185.7 249.5L185.0 251.0L184.2 252.5L183.3 253.9L182.2 255.2L180.8 256.5L179.4 257.7L177.9 258.9L176.6 260.0L175.5 261.0L174.6 261.9L173.7 262.6L172.9 263.3L172.3 263.9L172.0 264.4L172.0 265.0L172.6 265.6L173.7 266.2L175.2 266.8L176.5 267.3L177.5 267.7L177.8 268.0L177.2 268.1L175.9 268.1L174.3 267.9L172.5 267.8L171.0 267.6L170.0 267.5" fill="none" stroke="#111" stroke-width="0.99"/><g fill="none" stroke-width="2.5" stroke-linecap="round" stroke-linejoin="round"><path d="M184.8 262.2L184.0 262.2" stroke="#1e5af0"/><path d="M184.0 262.2L182.9 262.3L181.6 262.3" stroke="#2460f0"/><path d="M181.6 262.3L180.2 262.3" stroke="#2a66f0"/><path d="M180.2 262.3L179.0 262.3" stroke="#3066f0"/><path d="M179.0 262.3L178.0 262.3" stroke="#306cf0"/><path d="M178.0 262.3L177.3 262.3L176.8 262.3L176.4 262.3L176.1 262.2" stroke="#366cf0"/><path d="M176.1 262.2L175.8 262.0" stroke="#3c6cf0"/><path d="M175.8 262.0L175.5 261.7L175.2 261.3L175.1 260.8" stroke="#3c72f0"/><path d="M175.1 260.8L175.0 260.2L174.8 259.5" stroke="#4272f0"/><path d="M174.8 259.5L174.5 258.7" stroke="#4278f0"/><path d="M174.5 258.7L173.9 257.8L173.0 256.7" stroke="#4878f0"/><path d="M173.0 256.7L171.9 255.5" stroke="#4e7ef0"/><path d="M171.9 255.5L170.6 254.1" stroke="#547ef0"/><path d="M170.6 254.1L169.3 252.7" stroke="#5a84f0"/><path d="M169.3 252.7L168.0 251.3" stroke="#608af0"/><path d="M168.0 251.3L166.9 250.0" stroke="#668af0"/><path d="M166.9 250.0L165.9 248.7" stroke="#6c90f0"/><path d="M165.9 248.7L165.0 247.5" stroke="#7296f0"/><path d="M165.0 247.5L164.1 246.2" stroke="#7896f0"/><path d="M164.1 246.2L163.3 244.9" stroke="#789cf0"/><path d="M163.3 244.9L162.7 243.6" stroke="#7e9cf0"/><path d="M162.7 243.6L162.2 242.2" stroke="#84a2f0"/><path d="M162.2 242.2L161.9 240.7" stroke="#8aa2f0"/><path d="M161.9 240.7L161.8 239.1L161.9 237.5" stroke="#90a8f0"/><path d="M161.9 237.5L162.0 235.9" stroke="#96aef0"/><path d="M162.0 235.9L162.1 234.3" stroke="#9caef0"/><path d="M162.1 234.3L162.2 232.8" stroke="#a2b4f0"/><path d="M162.2 232.8L162.3 231.4" stroke="#a8b4f0"/><path d="M162.3 231.4L162.5 230.0" stroke="#a8baea"/><path d="M162.5 230.0L162.7 228.6" stroke="#aebaea"/><path d="M162.7 228.6L162.9 227.3L163.0 226.1" stroke="#b4c0ea"/><path d="M163.0 226.1L163.0 225.0" stroke="#bac6ea"/><path d="M163.0 225.0L162.8 224.1L162.5 223.3" stroke="#c0c6ea"/><path d="M162.5 223.3L162.0 222.7" stroke="#c0ccea"/><path d="M162.0 222.7L161.6 222.1L161.1 221.4" stroke="#c6ccea"/><path d="M161.1 221.4L160.6 220.6" stroke="#ccccea"/><path d="M160.6 220.6L160.1 219.7" stroke="#ccd2ea"/><path d="M160.1 219.7L159.6 218.7" stroke="#d2d2ea"/><path d="M159.6 218.7L159.0 217.7" stroke="#d2d8ea"/><path d="M159.0 217.7L158.5 216.7" stroke="#d8d8ea"/><path d="M158.5 216.7L158.0 215.5" stroke="#ded8ea"/><path d="M158.0 215.5L157.5 214.4" stroke="#dedeea"/><path d="M157.5 214.4L157.1 213.2" stroke="#e4d8e4"/><path d="M157.1 213.2L156.6 212.1" stroke="#e4d2de"/><path d="M156.6 212.1L156.2 210.9" stroke="#e4ccd2"/><path d="M156.2 210.9L155.8 209.6" stroke="#e4c0c6"/><path d="M155.8 209.6L155.5 208.2" stroke="#e4baba"/><path d="M155.5 208.2L155.2 206.6" stroke="#e4aeae"/><path d="M155.2 206.6L155.0 204.7" stroke="#e4a29c"/><path d="M155.0 204.7L154.8 202.5" stroke="#e4968a"/><path d="M154.8 202.5L154.6 200.2" stroke="#e48a78"/><path d="M154.6 200.2L154.5 197.9" stroke="#e47866"/><path d="M154.5 197.9L154.4 195.8" stroke="#e46c54"/><path d="M154.4 195.8L154.4 194.0" stroke="#e46042"/><path d="M154.4 194.0L154.4 192.5L154.5 191.2L154.7 190.0L154.9 189.0L155.2 188.2L155.5 187.5L155.9 187.0L156.3 186.7L156.7 186.5L157.3 186.5L158.0 186.7L159.0 187.0L160.2 187.6L161.7 188.4L163.3 189.3L165.0 190.4L166.8 191.5L168.4 192.5L170.0 193.5L171.6 194.5L173.3 195.5L174.8 196.6L176.4 197.7L177.8 198.8L179.2 199.9L180.5 201.0L181.7 202.2L182.9 203.4L183.9 204.6L184.8 205.8L185.5 207.0L186.1 208.2L186.5 209.4L186.9 210.6L187.1 211.8L187.2 212.8L187.2 213.7" stroke="#e45a3c"/><path d="M187.2 213.7L187.0 214.5" stroke="#e46042"/><path d="M187.0 214.5L186.7 215.3" stroke="#e46048"/><path d="M186.7 215.3L186.4 216.0" stroke="#e46648"/><path d="M186.4 216.0L186.0 216.7" stroke="#e4664e"/><path d="M186.0 216.7L185.6 217.5L185.2 218.3" stroke="#e46c54"/><path d="M185.2 218.3L184.7 219.0" stroke="#e4725a"/><path d="M184.7 219.0L184.1 219.8" stroke="#e47260"/><path d="M184.1 219.8L183.6 220.6" stroke="#e47866"/><path d="M183.6 220.6L183.0 221.4" stroke="#e47e66"/><path d="M183.0 221.4L182.5 222.2" stroke="#e47e6c"/><path d="M182.5 222.2L182.0 223.1" stroke="#e48472"/><path d="M182.0 223.1L181.4 224.0" stroke="#e48a78"/><path d="M181.4 224.0L180.8 224.9" stroke="#e48a7e"/><path d="M180.8 224.9L180.3 225.9" stroke="#e49084"/><path d="M180.3 225.9L179.8 226.9" stroke="#e4968a"/><path d="M179.8 226.9L179.4 228.0" stroke="#e49690"/><path d="M179.4 228.0L179.1 229.2" stroke="#e49c96"/><path d="M179.1 229.2L178.9 230.5" stroke="#e4a29c"/><path d="M178.9 230.5L178.8 231.8" stroke="#e4a8a2"/><path d="M178.8 231.8L178.7 233.2" stroke="#e4aea8"/><path d="M178.7 233.2L178.7 234.6" stroke="#e4b4ae"/><path d="M178.7 234.6L178.6 236.0" stroke="#e4baba"/><path d="M178.6 236.0L178.6 237.5" stroke="#e4bac0"/><path d="M178.6 237.5L178.6 239.0" stroke="#e4c0c6"/><path d="M178.6 239.0L178.7 240.6" stroke="#e4c6cc"/><path d="M178.7 240.6L178.7 242.1" stroke="#e4ccd8"/><path d="M178.7 242.1L178.7 243.7" stroke="#e4d2de"/><path d="M178.7 243.7L178.6 245.3" stroke="#e4d8e4"/><path d="M178.6 245.3L178.3 246.9" stroke="#ded8ea"/><path d="M178.3 246.9L178.0 248.5" stroke="#d2d2ea"/><path d="M178.0 248.5L177.6 250.2" stroke="#c6ccea"/><path d="M177.6 250.2L177.1 251.8" stroke="#bac6ea"/><path d="M177.1 251.8L176.7 253.3" stroke="#aebaea"/><path d="M176.7 253.3L176.2 254.7" stroke="#a2b4f0"/><path d="M176.2 254.7L175.8 256.0" stroke="#9caef0"/><path d="M175.8 256.0L175.2 257.2" stroke="#90a8f0"/><path d="M175.2 257.2L174.7 258.3" stroke="#84a2f0"/><path d="M174.7 258.3L174.2 259.3" stroke="#7e9cf0"/><path d="M174.2 259.3L173.9 260.2" stroke="#7896f0"/><path d="M173.9 260.2L173.9 261.0" stroke="#7296f0"/><path d="M173.9 261.0L174.2 261.6" stroke="#6c90f0"/><path d="M174.2 261.6L174.7 262.1" stroke="#6690f0"/><path d="M174.7 262.1L175.4 262.4" stroke="#608af0"/><path d="M175.4 262.4L176.2 262.7" stroke="#6084f0"/><path d="M176.2 262.7L177.1 262.9" stroke="#5484f0"/><path d="M177.1 262.9L178.0 263.0" stroke="#4e7ef0"/><path d="M178.0 263.0L179.1 263.1" stroke="#4878f0"/><path d="M179.1 263.1L180.3 263.0" stroke="#4272f0"/><path d="M180.3 263.0L181.7 262.9" stroke="#366cf0"/><path d="M181.7 262.9L182.9 262.8" stroke="#3066f0"/><path d="M182.9 262.8L184.0 262.7" stroke="#2a60f0"/><path d="M184.0 262.7L184.8 262.6" stroke="#1e60f0"/></g><path d="M184.8 262.2L184.0 262.2L182.9 262.3L181.6 262.3L180.2 262.3L179.0 262.3L178.0 262.3L177.3 262.3L176.8 262.3L176.4 262.3L176.1 262.2L175.8 262.0L175.5 261.7L175.2 261.3L175.1 260.8L175.0 260.2L174.8 259.5L174.5 258.7L173.9 257.8L173.0 256.7L171.9 255.5L170.6 254.1L169.3 252.7L168.0 251.3L166.9 250.0L165.9 248.7L165.0 247.5L164.1 246.2L163.3 244.9L162.7 243.6L162.2 242.2L161.9 240.7L161.8 239.1L161.9 237.5L162.0 235.9L162.1 234.3L162.2 232.8L162.3 231.4L162.5 230.0L162.7 228.6L162.9 227.3L163.0 226.1L163.0 225.0L162.8 224.1L162.5 223.3L162.0 222.7L161.6 222.1L161.1 221.4L160.6 220.6L160.1 219.7L159.6 218.7L159.0 217.7L158.5 216.7L158.0 215.5L157.5 214.4L157.1 213.2L156.6 212.1L156.2 210.9L155.8 209.6L155.5 208.2L155.2 206.6L155.0 204.7L154.8 202.5L154.6 200.2L154.5 197.9L154.4 195.8L154.4 194.0L154.4 192.5L154.5 191.2L154.7 190.0L154.9 189.0L155.2 188.2L155.5 187.5L155.9 187.0L156.3 186.7L156.7 186.5L157.3 186.5L158.0 186.7L159.0 187.0L160.2 187.6L161.7 188.4L163.3 189.3L165.0 190.4L166.8 191.5L168.4 192.5L170.0 193.5L171.6 194.5L173.3 195.5L174.8 196.6L176.4 197.7L177.8 198.8L179.2 199.9L180.5 201.0L181.7 202.2L182.9 203.4L183.9 204.6L184.8 205.8L185.5 207.0L186.1 208.2L186.5 209.4L186.9 210.6L187.1 211.8L187.2 212.8L187.2 213.7L187.0 214.5L186.7 215.3L186.4 216.0L186.0 216.7L185.6 217.5L185.2 218.3L184.7 219.0L184.1 219.8L183.6 220.6L183.0 221.4L182.5 222.2L182.0 223.1L181.4 224.0L180.8 224.9L180.3 225.9L179.8 226.9L179.4 228.0L179.1 229.2L178.9 230.5L178.8 231.8L178.7 233.2L178.7 234.6L178.6 236.0L178.6 237.5L178.6 239.0L178.7 240.6L178.7 242.1L178.7 243.7L178.6 245.3L178.3 246.9L178.0 248.5L177.6 250.2L177.1 251.8L176.7 253.3L176.2 254.7L175.8 256.0L175.2 257.2L174.7 258.3L174.2 259.3L173.9 260.2L173.9 261.0L174.2 261.6L174.7 262.1L175.4 262.4L176.2 262.7L177.1 262.9L178.0 263.0L179.1 263.1L180.3 263.0L181.7 262.9L182.9 262.8L184.0 262.7L184.8 262.6" fill="none" stroke="#111" stroke-width="1.10" stroke-dasharray="4.2,1.6"/>
<rect x="125.5" y="167.5" width="91" height="107" fill="none" stroke="#8a8a8a" stroke-width="0.9"/>
<line x1="125.5" y1="262.50" x2="127" y2="262.50" stroke="#8a8a8a" stroke-width="0.8"/>
<line x1="215" y1="262.50" x2="216.5" y2="262.50" stroke="#8a8a8a" stroke-width="0.8"/>
<line x1="125.5" y1="240.00" x2="127" y2="240.00" stroke="#8a8a8a" stroke-width="0.8"/>
<line x1="215" y1="240.00" x2="216.5" y2="240.00" stroke="#8a8a8a" stroke-width="0.8"/>
<line x1="125.5" y1="217.50" x2="127" y2="217.50" stroke="#8a8a8a" stroke-width="0.8"/>
<line x1="215" y1="217.50" x2="216.5" y2="217.50" stroke="#8a8a8a" stroke-width="0.8"/>
<line x1="125.5" y1="195.00" x2="127" y2="195.00" stroke="#8a8a8a" stroke-width="0.8"/>
<line x1="215" y1="195.00" x2="216.5" y2="195.00" stroke="#8a8a8a" stroke-width="0.8"/>
<line x1="125.5" y1="172.50" x2="127" y2="172.50" stroke="#8a8a8a" stroke-width="0.8"/>
<line x1="215" y1="172.50" x2="216.5" y2="172.50" stroke="#8a8a8a" stroke-width="0.8"/>
<line x1="137.75" y1="273" x2="137.75" y2="274.5" stroke="#8a8a8a" stroke-width="0.8"/>
<line x1="137.75" y1="167.5" x2="137.75" y2="169" stroke="#8a8a8a" stroke-width="0.8"/>
<text x="137.75" y="287.70" font-size="9.6" text-anchor="middle" fill="#333">20</text>
<line x1="163.75" y1="273" x2="163.75" y2="274.5" stroke="#8a8a8a" stroke-width="0.8"/>
<line x1="163.75" y1="167.5" x2="163.75" y2="169" stroke="#8a8a8a" stroke-width="0.8"/>
<text x="163.75" y="287.70" font-size="9.6" text-anchor="middle" fill="#333">40</text>
<line x1="189.75" y1="273" x2="189.75" y2="274.5" stroke="#8a8a8a" stroke-width="0.8"/>
<line x1="189.75" y1="167.5" x2="189.75" y2="169" stroke="#8a8a8a" stroke-width="0.8"/>
<text x="189.75" y="287.70" font-size="9.6" text-anchor="middle" fill="#333">60</text>
<line x1="215.75" y1="273" x2="215.75" y2="274.5" stroke="#8a8a8a" stroke-width="0.8"/>
<line x1="215.75" y1="167.5" x2="215.75" y2="169" stroke="#8a8a8a" stroke-width="0.8"/>
<text x="215.75" y="287.70" font-size="9.6" text-anchor="middle" fill="#333">80</text>
<text x="129" y="176" font-size="9" font-weight="bold" fill="#000">e)</text>
<text x="210.6" y="179.1" font-size="11.2" font-weight="bold" text-anchor="end" fill="#000">IV to -II</text>
<g fill="none" stroke-width="2.5" stroke-linecap="round" stroke-linejoin="round"><path d="M265.6 268.5L266.1 268.1" stroke="#1e5af0"/><path d="M266.1 268.1L266.8 267.6L267.7 267.0" stroke="#2460f0"/><path d="M267.7 267.0L268.4 266.2" stroke="#2a60f0"/><path d="M268.4 266.2L268.9 265.0" stroke="#2a66f0"/><path d="M268.9 265.0L268.8 263.4" stroke="#3066f0"/><path d="M268.8 263.4L268.0 261.2" stroke="#366cf0"/><path d="M268.0 261.2L266.6 258.4" stroke="#4272f0"/><path d="M266.6 258.4L264.9 255.3" stroke="#4878f0"/><path d="M264.9 255.3L263.2 252.1" stroke="#5484f0"/><path d="M263.2 252.1L261.5 249.0" stroke="#608af0"/><path d="M261.5 249.0L260.3 246.2" stroke="#6c90f0"/><path d="M260.3 246.2L259.4 243.9" stroke="#7296f0"/><path d="M259.4 243.9L258.7 241.6" stroke="#7e9cf0"/><path d="M258.7 241.6L258.2 239.5" stroke="#84a2f0"/><path d="M258.2 239.5L257.7 237.5" stroke="#8aa2f0"/><path d="M257.7 237.5L257.4 235.6" stroke="#90a8f0"/><path d="M257.4 235.6L257.2 233.8" stroke="#96aef0"/><path d="M257.2 233.8L257.1 232.0" stroke="#9caef0"/><path d="M257.1 232.0L257.2 230.5" stroke="#a2b4f0"/><path d="M257.2 230.5L257.3 229.1" stroke="#a8baf0"/><path d="M257.3 229.1L257.6 227.6" stroke="#aebaea"/><path d="M257.6 227.6L257.8 226.1" stroke="#aec0ea"/><path d="M257.8 226.1L258.0 224.4" stroke="#b4c0ea"/><path d="M258.0 224.4L258.2 222.4" stroke="#bac6ea"/><path d="M258.2 222.4L258.3 220.3" stroke="#c0ccea"/><path d="M258.3 220.3L258.5 218.1" stroke="#ccccea"/><path d="M258.5 218.1L258.6 215.8" stroke="#d2d2ea"/><path d="M258.6 215.8L258.8 213.8" stroke="#d8d8ea"/><path d="M258.8 213.8L258.9 212.0" stroke="#dedeea"/><path d="M258.9 212.0L259.0 210.5" stroke="#e4d8de"/><path d="M259.0 210.5L259.0 209.2" stroke="#e4c6cc"/><path d="M259.0 209.2L259.0 208.1" stroke="#e4baba"/><path d="M259.0 208.1L259.0 207.0" stroke="#e4aeae"/><path d="M259.0 207.0L259.1 206.0" stroke="#e4a29c"/><path d="M259.1 206.0L259.2 205.0" stroke="#e49c90"/><path d="M259.2 205.0L259.3 203.9" stroke="#e49084"/><path d="M259.3 203.9L259.5 202.8" stroke="#e48472"/><path d="M259.5 202.8L259.6 201.8" stroke="#e47866"/><path d="M259.6 201.8L259.8 200.9" stroke="#e46c54"/><path d="M259.8 200.9L260.1 200.1" stroke="#e46648"/><path d="M260.1 200.1L260.5 199.5L261.0 199.2L261.5 199.0L262.0 199.0L262.7 199.1L263.5 199.3L264.4 199.7L265.5 200.2L266.8 200.9L268.2 201.7L269.6 202.6L270.9 203.5L272.2 204.4L273.4 205.4L274.5 206.4L275.6 207.5L276.6 208.6L277.6 209.7L278.4 210.6L279.1 211.4L279.6 212.1L280.1 212.7L280.5 213.3L280.9 214.1L281.4 215.0" stroke="#e45a3c"/><path d="M281.4 215.0L282.0 216.0" stroke="#e45a42"/><path d="M282.0 216.0L282.6 217.2" stroke="#e46648"/><path d="M282.6 217.2L283.2 218.4" stroke="#e46c54"/><path d="M283.2 218.4L283.8 219.7" stroke="#e47860"/><path d="M283.8 219.7L284.2 221.2" stroke="#e47e6c"/><path d="M284.2 221.2L284.5 222.8" stroke="#e48a78"/><path d="M284.5 222.8L284.5 224.6" stroke="#e4968a"/><path d="M284.5 224.6L284.3 226.7" stroke="#e4a29c"/><path d="M284.3 226.7L283.9 228.9" stroke="#e4aeae"/><path d="M283.9 228.9L283.5 231.1" stroke="#e4bac0"/><path d="M283.5 231.1L283.2 233.3" stroke="#e4ccd2"/><path d="M283.2 233.3L283.0 235.3" stroke="#e4d8e4"/><path d="M283.0 235.3L283.1 237.2" stroke="#dedeea"/><path d="M283.1 237.2L283.3 239.1" stroke="#d8d8ea"/><path d="M283.3 239.1L283.7 241.0" stroke="#d2d2ea"/><path d="M283.7 241.0L283.9 242.8" stroke="#ccccea"/><path d="M283.9 242.8L284.0 244.5" stroke="#c6ccea"/><path d="M284.0 244.5L283.8 246.2" stroke="#c0c6ea"/><path d="M283.8 246.2L283.1 247.9" stroke="#bac0ea"/><path d="M283.1 247.9L282.2 249.6" stroke="#aec0ea"/><path d="M282.2 249.6L281.2 251.2" stroke="#a8baea"/><path d="M281.2 251.2L280.0 252.8" stroke="#a2b4f0"/><path d="M280.0 252.8L278.7 254.2" stroke="#9caef0"/><path d="M278.7 254.2L277.5 255.6" stroke="#96aef0"/><path d="M277.5 255.6L276.2 256.9" stroke="#90a8f0"/><path d="M276.2 256.9L274.8 258.0" stroke="#8aa2f0"/><path d="M274.8 258.0L273.3 259.1" stroke="#84a2f0"/><path d="M273.3 259.1L271.9 260.1" stroke="#7e9cf0"/><path d="M271.9 260.1L270.6 261.1" stroke="#7896f0"/><path d="M270.6 261.1L269.7 261.9" stroke="#7296f0"/><path d="M269.7 261.9L269.0 262.6L268.6 263.2" stroke="#6c90f0"/><path d="M268.6 263.2L268.2 263.6" stroke="#6690f0"/><path d="M268.2 263.6L268.2 264.1L268.3 264.5L268.8 265.0" stroke="#668af0"/><path d="M268.8 265.0L269.8 265.5" stroke="#608af0"/><path d="M269.8 265.5L271.4 266.1" stroke="#5a84f0"/><path d="M271.4 266.1L273.3 266.7" stroke="#547ef0"/><path d="M273.3 266.7L275.1 267.3" stroke="#4e7ef0"/><path d="M275.1 267.3L276.3 267.7L276.6 268.1" stroke="#4878f0"/><path d="M276.6 268.1L275.7 268.3" stroke="#4272f0"/><path d="M275.7 268.3L273.9 268.4" stroke="#3c72f0"/><path d="M273.9 268.4L271.6 268.5" stroke="#366cf0"/><path d="M271.6 268.5L269.2 268.5" stroke="#3066f0"/><path d="M269.2 268.5L267.0 268.5" stroke="#2460f0"/><path d="M267.0 268.5L265.6 268.5" stroke="#1e60f0"/></g><path d="M265.6 268.5L266.1 268.1L266.8 267.6L267.7 267.0L268.4 266.2L268.9 265.0L268.8 263.4L268.0 261.2L266.6 258.4L264.9 255.3L263.2 252.1L261.5 249.0L260.3 246.2L259.4 243.9L258.7 241.6L258.2 239.5L257.7 237.5L257.4 235.6L257.2 233.8L257.1 232.0L257.2 230.5L257.3 229.1L257.6 227.6L257.8 226.1L258.0 224.4L258.2 222.4L258.3 220.3L258.5 218.1L258.6 215.8L258.8 213.8L258.9 212.0L259.0 210.5L259.0 209.2L259.0 208.1L259.0 207.0L259.1 206.0L259.2 205.0L259.3 203.9L259.5 202.8L259.6 201.8L259.8 200.9L260.1 200.1L260.5 199.5L261.0 199.2L261.5 199.0L262.0 199.0L262.7 199.1L263.5 199.3L264.4 199.7L265.5 200.2L266.8 200.9L268.2 201.7L269.6 202.6L270.9 203.5L272.2 204.4L273.4 205.4L274.5 206.4L275.6 207.5L276.6 208.6L277.6 209.7L278.4 210.6L279.1 211.4L279.6 212.1L280.1 212.7L280.5 213.3L280.9 214.1L281.4 215.0L282.0 216.0L282.6 217.2L283.2 218.4L283.8 219.7L284.2 221.2L284.5 222.8L284.5 224.6L284.3 226.7L283.9 228.9L283.5 231.1L283.2 233.3L283.0 235.3L283.1 237.2L283.3 239.1L283.7 241.0L283.9 242.8L284.0 244.5L283.8 246.2L283.1 247.9L282.2 249.6L281.2 251.2L280.0 252.8L278.7 254.2L277.5 255.6L276.2 256.9L274.8 258.0L273.3 259.1L271.9 260.1L270.6 261.1L269.7 261.9L269.0 262.6L268.6 263.2L268.2 263.6L268.2 264.1L268.3 264.5L268.8 265.0L269.8 265.5L271.4 266.1L273.3 266.7L275.1 267.3L276.3 267.7L276.6 268.1L275.7 268.3L273.9 268.4L271.6 268.5L269.2 268.5L267.0 268.5L265.6 268.5" fill="none" stroke="#111" stroke-width="0.99"/><g fill="none" stroke-width="2.5" stroke-linecap="round" stroke-linejoin="round"><path d="M288.4 259.5L287.7 259.3" stroke="#1e5af0"/><path d="M287.7 259.3L286.9 259.1" stroke="#1e60f0"/><path d="M286.9 259.1L285.8 258.7L284.6 258.3" stroke="#2460f0"/><path d="M284.6 258.3L283.4 257.8L282.2 257.2" stroke="#2a66f0"/><path d="M282.2 257.2L281.0 256.4" stroke="#3066f0"/><path d="M281.0 256.4L279.8 255.5L278.5 254.5" stroke="#366cf0"/><path d="M278.5 254.5L277.2 253.4" stroke="#3c72f0"/><path d="M277.2 253.4L275.8 252.2" stroke="#4272f0"/><path d="M275.8 252.2L274.4 250.9" stroke="#4278f0"/><path d="M274.4 250.9L272.9 249.6" stroke="#4878f0"/><path d="M272.9 249.6L271.4 248.2" stroke="#4e7ef0"/><path d="M271.4 248.2L269.8 246.7" stroke="#547ef0"/><path d="M269.8 246.7L268.2 245.2" stroke="#5a84f0"/><path d="M268.2 245.2L266.6 243.5" stroke="#6084f0"/><path d="M266.6 243.5L265.0 241.6" stroke="#668af0"/><path d="M265.0 241.6L263.4 239.5" stroke="#6c90f0"/><path d="M263.4 239.5L261.8 237.1" stroke="#7296f0"/><path d="M261.8 237.1L260.1 234.5" stroke="#7896f0"/><path d="M260.1 234.5L258.5 232.0" stroke="#7e9cf0"/><path d="M258.5 232.0L257.0 229.6" stroke="#8aa2f0"/><path d="M257.0 229.6L255.6 227.5" stroke="#90a8f0"/><path d="M255.6 227.5L254.3 225.7" stroke="#96a8f0"/><path d="M254.3 225.7L253.2 224.1" stroke="#96aef0"/><path d="M253.2 224.1L252.1 222.7" stroke="#9caef0"/><path d="M252.1 222.7L251.0 221.3" stroke="#a2b4f0"/><path d="M251.0 221.3L249.9 219.9" stroke="#a8b4f0"/><path d="M249.9 219.9L248.8 218.4" stroke="#a8baea"/><path d="M248.8 218.4L247.5 216.8" stroke="#aebaea"/><path d="M247.5 216.8L246.1 215.2" stroke="#b4c0ea"/><path d="M246.1 215.2L244.7 213.6" stroke="#bac6ea"/><path d="M244.7 213.6L243.3 212.0" stroke="#c0c6ea"/><path d="M243.3 212.0L242.0 210.5L240.9 209.0" stroke="#c6ccea"/><path d="M240.9 209.0L239.9 207.6" stroke="#ccd2ea"/><path d="M239.9 207.6L239.0 206.4" stroke="#d2d2ea"/><path d="M239.0 206.4L238.2 205.2" stroke="#d2d8ea"/><path d="M238.2 205.2L237.5 204.0" stroke="#d8d8ea"/><path d="M237.5 204.0L236.8 202.7" stroke="#ded8ea"/><path d="M236.8 202.7L236.2 201.2" stroke="#dedeea"/><path d="M236.2 201.2L235.8 199.6" stroke="#e4d8e4"/><path d="M235.8 199.6L235.4 197.8" stroke="#e4ccd8"/><path d="M235.4 197.8L235.1 196.0" stroke="#e4c0c6"/><path d="M235.1 196.0L234.9 194.1" stroke="#e4baba"/><path d="M234.9 194.1L234.8 192.2" stroke="#e4aea8"/><path d="M234.8 192.2L234.7 190.3" stroke="#e4a29c"/><path d="M234.7 190.3L234.7 188.4" stroke="#e4968a"/><path d="M234.7 188.4L234.7 186.5" stroke="#e48a78"/><path d="M234.7 186.5L234.9 184.5" stroke="#e47e6c"/><path d="M234.9 184.5L235.0 182.6" stroke="#e4725a"/><path d="M235.0 182.6L235.3 180.9" stroke="#e4664e"/><path d="M235.3 180.9L235.5 179.4" stroke="#e45a42"/><path d="M235.5 179.4L235.8 178.1L236.1 176.9L236.4 175.9L236.8 175.1L237.3 174.4L237.8 173.9L238.4 173.6L239.0 173.6L239.6 173.7L240.4 173.9L241.3 174.3L242.5 174.7L243.9 175.2L245.6 175.9L247.5 176.6L249.4 177.5L251.4 178.4L253.4 179.4L255.4 180.5L257.6 181.8L259.8 183.1L262.0 184.5L264.1 185.9L265.9 187.2L267.5 188.5L269.0 189.7L270.4 190.9L271.7 192.2L272.8 193.5L273.8 195.0L274.6 196.7L275.3 198.6L275.8 200.6L276.3 202.5L276.6 204.4L276.9 206.0L277.1 207.4" stroke="#e45a3c"/><path d="M277.1 207.4L277.1 208.6" stroke="#e46048"/><path d="M277.1 208.6L277.1 209.8" stroke="#e4664e"/><path d="M277.1 209.8L276.9 210.8" stroke="#e46c54"/><path d="M276.9 210.8L276.7 211.9" stroke="#e4725a"/><path d="M276.7 211.9L276.5 213.0" stroke="#e47866"/><path d="M276.5 213.0L276.2 214.2" stroke="#e47e6c"/><path d="M276.2 214.2L275.8 215.4" stroke="#e48472"/><path d="M275.8 215.4L275.3 216.6" stroke="#e48a78"/><path d="M275.3 216.6L274.9 217.7" stroke="#e49084"/><path d="M274.9 217.7L274.4 218.9" stroke="#e4968a"/><path d="M274.4 218.9L274.0 220.0" stroke="#e49c90"/><path d="M274.0 220.0L273.6 221.0" stroke="#e4a29c"/><path d="M273.6 221.0L273.3 222.0" stroke="#e4a8a2"/><path d="M273.3 222.0L272.9 223.0" stroke="#e4a8a8"/><path d="M272.9 223.0L272.6 224.0" stroke="#e4aeae"/><path d="M272.6 224.0L272.4 225.0" stroke="#e4b4b4"/><path d="M272.4 225.0L272.2 226.0" stroke="#e4baba"/><path d="M272.2 226.0L272.1 227.1" stroke="#e4c0c0"/><path d="M272.1 227.1L272.1 228.2" stroke="#e4c6c6"/><path d="M272.1 228.2L272.1 229.4" stroke="#e4ccd2"/><path d="M272.1 229.4L272.2 230.6" stroke="#e4d2d8"/><path d="M272.2 230.6L272.4 231.8" stroke="#e4d8de"/><path d="M272.4 231.8L272.5 233.0" stroke="#e4deea"/><path d="M272.5 233.0L272.7 234.3" stroke="#dedeea"/><path d="M272.7 234.3L272.9 235.7" stroke="#d8d8ea"/><path d="M272.9 235.7L273.1 237.1" stroke="#ccd2ea"/><path d="M273.1 237.1L273.4 238.5" stroke="#c6ccea"/><path d="M273.4 238.5L273.7 239.8" stroke="#c0c6ea"/><path d="M273.7 239.8L274.0 241.0" stroke="#b4c0ea"/><path d="M274.0 241.0L274.3 242.0" stroke="#aec0ea"/><path d="M274.3 242.0L274.6 242.8" stroke="#a8baea"/><path d="M274.6 242.8L274.9 243.5" stroke="#a8b4f0"/><path d="M274.9 243.5L275.2 244.3" stroke="#a2b4f0"/><path d="M275.2 244.3L275.6 245.2" stroke="#9caef0"/><path d="M275.6 245.2L276.0 246.2" stroke="#96aef0"/><path d="M276.0 246.2L276.5 247.6" stroke="#90a8f0"/><path d="M276.5 247.6L277.1 249.3" stroke="#84a2f0"/><path d="M277.1 249.3L277.7 251.0" stroke="#7e9cf0"/><path d="M277.7 251.0L278.4 252.8" stroke="#7296f0"/><path d="M278.4 252.8L279.0 254.3" stroke="#668af0"/><path d="M279.0 254.3L279.7 255.6" stroke="#6084f0"/><path d="M279.7 255.6L280.4 256.5" stroke="#5484f0"/><path d="M280.4 256.5L281.1 257.3" stroke="#4e7ef0"/><path d="M281.1 257.3L281.8 257.9" stroke="#4e78f0"/><path d="M281.8 257.9L282.5 258.3" stroke="#4878f0"/><path d="M282.5 258.3L283.2 258.7" stroke="#4272f0"/><path d="M283.2 258.7L284.0 259.0" stroke="#3c72f0"/><path d="M284.0 259.0L284.9 259.3" stroke="#366cf0"/><path d="M284.9 259.3L285.8 259.4" stroke="#306cf0"/><path d="M285.8 259.4L286.8 259.5" stroke="#3066f0"/><path d="M286.8 259.5L287.7 259.5" stroke="#2a60f0"/><path d="M287.7 259.5L288.4 259.5" stroke="#2460f0"/><path d="M288.4 259.5L289.0 259.5" stroke="#1e60f0"/></g><path d="M288.4 259.5L287.7 259.3L286.9 259.1L285.8 258.7L284.6 258.3L283.4 257.8L282.2 257.2L281.0 256.4L279.8 255.5L278.5 254.5L277.2 253.4L275.8 252.2L274.4 250.9L272.9 249.6L271.4 248.2L269.8 246.7L268.2 245.2L266.6 243.5L265.0 241.6L263.4 239.5L261.8 237.1L260.1 234.5L258.5 232.0L257.0 229.6L255.6 227.5L254.3 225.7L253.2 224.1L252.1 222.7L251.0 221.3L249.9 219.9L248.8 218.4L247.5 216.8L246.1 215.2L244.7 213.6L243.3 212.0L242.0 210.5L240.9 209.0L239.9 207.6L239.0 206.4L238.2 205.2L237.5 204.0L236.8 202.7L236.2 201.2L235.8 199.6L235.4 197.8L235.1 196.0L234.9 194.1L234.8 192.2L234.7 190.3L234.7 188.4L234.7 186.5L234.9 184.5L235.0 182.6L235.3 180.9L235.5 179.4L235.8 178.1L236.1 176.9L236.4 175.9L236.8 175.1L237.3 174.4L237.8 173.9L238.4 173.6L239.0 173.6L239.6 173.7L240.4 173.9L241.3 174.3L242.5 174.7L243.9 175.2L245.6 175.9L247.5 176.6L249.4 177.5L251.4 178.4L253.4 179.4L255.4 180.5L257.6 181.8L259.8 183.1L262.0 184.5L264.1 185.9L265.9 187.2L267.5 188.5L269.0 189.7L270.4 190.9L271.7 192.2L272.8 193.5L273.8 195.0L274.6 196.7L275.3 198.6L275.8 200.6L276.3 202.5L276.6 204.4L276.9 206.0L277.1 207.4L277.1 208.6L277.1 209.8L276.9 210.8L276.7 211.9L276.5 213.0L276.2 214.2L275.8 215.4L275.3 216.6L274.9 217.7L274.4 218.9L274.0 220.0L273.6 221.0L273.3 222.0L272.9 223.0L272.6 224.0L272.4 225.0L272.2 226.0L272.1 227.1L272.1 228.2L272.1 229.4L272.2 230.6L272.4 231.8L272.5 233.0L272.7 234.3L272.9 235.7L273.1 237.1L273.4 238.5L273.7 239.8L274.0 241.0L274.3 242.0L274.6 242.8L274.9 243.5L275.2 244.3L275.6 245.2L276.0 246.2L276.5 247.6L277.1 249.3L277.7 251.0L278.4 252.8L279.0 254.3L279.7 255.6L280.4 256.5L281.1 257.3L281.8 257.9L282.5 258.3L283.2 258.7L284.0 259.0L284.9 259.3L285.8 259.4L286.8 259.5L287.7 259.5L288.4 259.5L289.0 259.5" fill="none" stroke="#111" stroke-width="1.10" stroke-dasharray="4.2,1.6"/>
<rect x="220.5" y="167.5" width="91" height="107" fill="none" stroke="#8a8a8a" stroke-width="0.9"/>
<line x1="220.5" y1="262.50" x2="222" y2="262.50" stroke="#8a8a8a" stroke-width="0.8"/>
<line x1="310" y1="262.50" x2="311.5" y2="262.50" stroke="#8a8a8a" stroke-width="0.8"/>
<line x1="220.5" y1="240.00" x2="222" y2="240.00" stroke="#8a8a8a" stroke-width="0.8"/>
<line x1="310" y1="240.00" x2="311.5" y2="240.00" stroke="#8a8a8a" stroke-width="0.8"/>
<line x1="220.5" y1="217.50" x2="222" y2="217.50" stroke="#8a8a8a" stroke-width="0.8"/>
<line x1="310" y1="217.50" x2="311.5" y2="217.50" stroke="#8a8a8a" stroke-width="0.8"/>
<line x1="220.5" y1="195.00" x2="222" y2="195.00" stroke="#8a8a8a" stroke-width="0.8"/>
<line x1="310" y1="195.00" x2="311.5" y2="195.00" stroke="#8a8a8a" stroke-width="0.8"/>
<line x1="220.5" y1="172.50" x2="222" y2="172.50" stroke="#8a8a8a" stroke-width="0.8"/>
<line x1="310" y1="172.50" x2="311.5" y2="172.50" stroke="#8a8a8a" stroke-width="0.8"/>
<line x1="232.75" y1="273" x2="232.75" y2="274.5" stroke="#8a8a8a" stroke-width="0.8"/>
<line x1="232.75" y1="167.5" x2="232.75" y2="169" stroke="#8a8a8a" stroke-width="0.8"/>
<text x="232.75" y="287.70" font-size="9.6" text-anchor="middle" fill="#333">20</text>
<line x1="258.75" y1="273" x2="258.75" y2="274.5" stroke="#8a8a8a" stroke-width="0.8"/>
<line x1="258.75" y1="167.5" x2="258.75" y2="169" stroke="#8a8a8a" stroke-width="0.8"/>
<text x="258.75" y="287.70" font-size="9.6" text-anchor="middle" fill="#333">40</text>
<line x1="284.75" y1="273" x2="284.75" y2="274.5" stroke="#8a8a8a" stroke-width="0.8"/>
<line x1="284.75" y1="167.5" x2="284.75" y2="169" stroke="#8a8a8a" stroke-width="0.8"/>
<text x="284.75" y="287.70" font-size="9.6" text-anchor="middle" fill="#333">60</text>
<line x1="310.75" y1="273" x2="310.75" y2="274.5" stroke="#8a8a8a" stroke-width="0.8"/>
<line x1="310.75" y1="167.5" x2="310.75" y2="169" stroke="#8a8a8a" stroke-width="0.8"/>
<text x="310.75" y="287.70" font-size="9.6" text-anchor="middle" fill="#333">80</text>
<text x="224" y="176" font-size="9" font-weight="bold" fill="#000">f)</text>
<text x="306.2" y="179.1" font-size="11.2" font-weight="bold" text-anchor="end" fill="#000">IV to -I</text>
<g fill="none" stroke-width="2.5" stroke-linecap="round" stroke-linejoin="round"><path d="M45.0 401.6L45.3 400.8" stroke="#1e60f0"/><path d="M45.3 400.8L45.6 399.6" stroke="#2460f0"/><path d="M45.6 399.6L46.1 398.3" stroke="#2a66f0"/><path d="M46.1 398.3L46.5 396.8" stroke="#3066f0"/><path d="M46.5 396.8L47.0 395.4" stroke="#366cf0"/><path d="M47.0 395.4L47.5 394.0" stroke="#3c72f0"/><path d="M47.5 394.0L47.9 392.7" stroke="#4878f0"/><path d="M47.9 392.7L48.4 391.5" stroke="#4e78f0"/><path d="M48.4 391.5L48.8 390.3" stroke="#547ef0"/><path d="M48.8 390.3L49.3 389.0" stroke="#5a84f0"/><path d="M49.3 389.0L49.9 387.6" stroke="#6084f0"/><path d="M49.9 387.6L50.5 386.0" stroke="#668af0"/><path d="M50.5 386.0L51.3 384.2" stroke="#6c90f0"/><path d="M51.3 384.2L52.1 382.2" stroke="#7896f0"/><path d="M52.1 382.2L53.1 380.2" stroke="#7e9cf0"/><path d="M53.1 380.2L54.1 378.0" stroke="#8aa2f0"/><path d="M54.1 378.0L55.0 375.9" stroke="#96aef0"/><path d="M55.0 375.9L55.8 373.8" stroke="#a2b4f0"/><path d="M55.8 373.8L56.5 371.7" stroke="#a8baea"/><path d="M56.5 371.7L57.2 369.5" stroke="#b4c0ea"/><path d="M57.2 369.5L57.8 367.4" stroke="#c0c6ea"/><path d="M57.8 367.4L58.4 365.3" stroke="#c6ccea"/><path d="M58.4 365.3L59.0 363.2" stroke="#d2d2ea"/><path d="M59.0 363.2L59.7 361.2" stroke="#ded8ea"/><path d="M59.7 361.2L60.4 359.3" stroke="#e4d8e4"/><path d="M60.4 359.3L61.2 357.3" stroke="#e4c6cc"/><path d="M61.2 357.3L62.1 355.3" stroke="#e4baba"/><path d="M62.1 355.3L62.9 353.5" stroke="#e4a8a8"/><path d="M62.9 353.5L63.7 351.8" stroke="#e49c90"/><path d="M63.7 351.8L64.4 350.3" stroke="#e49084"/><path d="M64.4 350.3L65.1 349.0" stroke="#e48472"/><path d="M65.1 349.0L65.7 347.9" stroke="#e47866"/><path d="M65.7 347.9L66.3 346.9" stroke="#e4725a"/><path d="M66.3 346.9L66.9 346.1" stroke="#e46c4e"/><path d="M66.9 346.1L67.6 345.4" stroke="#e46048"/><path d="M67.6 345.4L68.3 344.8L69.0 344.4L69.7 344.1L70.5 343.9L71.4 343.9L72.4 343.9L73.8 344.0L75.4 344.2L77.3 344.5L79.5 344.9L81.7 345.4L84.0 345.9L86.2 346.4L88.6 346.9L91.2 347.5L93.7 348.2L96.2 348.8L98.5 349.5L100.3 350.3L101.7 351.2L102.8 352.1L103.7 353.1L104.4 354.1L104.9 355.0L105.3 355.8L105.8 356.4L106.3 356.7L106.6 357.0L106.7 357.4L106.2 358.0L105.0 358.9L102.9 360.3L100.0 362.1L96.6 364.0L93.0 366.1L89.4 367.9L86.2 369.5L83.4 370.7L80.7 371.8L78.0 372.7L75.4 373.6L72.9 374.4L70.6 375.2L68.4 376.0L66.3 376.7L64.3 377.4L62.4 378.1L60.6 378.8L59.0 379.5" stroke="#e45a3c"/><path d="M59.0 379.5L57.5 380.3" stroke="#e46648"/><path d="M57.5 380.3L56.3 381.0" stroke="#e47e6c"/><path d="M56.3 381.0L55.1 381.8" stroke="#e4968a"/><path d="M55.1 381.8L54.0 382.6" stroke="#e4a8a2"/><path d="M54.0 382.6L53.0 383.5" stroke="#e4c0c0"/><path d="M53.0 383.5L52.0 384.5" stroke="#e4d2de"/><path d="M52.0 384.5L51.0 385.6" stroke="#d8d8ea"/><path d="M51.0 385.6L50.1 386.9" stroke="#ccd2ea"/><path d="M50.1 386.9L49.3 388.2" stroke="#c0c6ea"/><path d="M49.3 388.2L48.5 389.5" stroke="#b4c0ea"/><path d="M48.5 389.5L47.7 390.8" stroke="#a8b4f0"/><path d="M47.7 390.8L47.0 392.0" stroke="#96aef0"/><path d="M47.0 392.0L46.3 393.1" stroke="#90a8f0"/><path d="M46.3 393.1L45.7 394.1" stroke="#849cf0"/><path d="M45.7 394.1L45.1 395.1" stroke="#7896f0"/><path d="M45.1 395.1L44.5 396.1" stroke="#6c90f0"/><path d="M44.5 396.1L44.0 397.0" stroke="#668af0"/><path d="M44.0 397.0L43.5 398.0" stroke="#5a84f0"/><path d="M43.5 398.0L43.0 399.1" stroke="#547ef0"/><path d="M43.0 399.1L42.5 400.2" stroke="#4878f0"/><path d="M42.5 400.2L42.0 401.4" stroke="#3c72f0"/><path d="M42.0 401.4L41.6 402.4" stroke="#3066f0"/><path d="M41.6 402.4L41.3 403.3" stroke="#2a60f0"/><path d="M41.3 403.3L41.0 404.0" stroke="#2460f0"/></g><path d="M45.0 401.6L45.3 400.8L45.6 399.6L46.1 398.3L46.5 396.8L47.0 395.4L47.5 394.0L47.9 392.7L48.4 391.5L48.8 390.3L49.3 389.0L49.9 387.6L50.5 386.0L51.3 384.2L52.1 382.2L53.1 380.2L54.1 378.0L55.0 375.9L55.8 373.8L56.5 371.7L57.2 369.5L57.8 367.4L58.4 365.3L59.0 363.2L59.7 361.2L60.4 359.3L61.2 357.3L62.1 355.3L62.9 353.5L63.7 351.8L64.4 350.3L65.1 349.0L65.7 347.9L66.3 346.9L66.9 346.1L67.6 345.4L68.3 344.8L69.0 344.4L69.7 344.1L70.5 343.9L71.4 343.9L72.4 343.9L73.8 344.0L75.4 344.2L77.3 344.5L79.5 344.9L81.7 345.4L84.0 345.9L86.2 346.4L88.6 346.9L91.2 347.5L93.7 348.2L96.2 348.8L98.5 349.5L100.3 350.3L101.7 351.2L102.8 352.1L103.7 353.1L104.4 354.1L104.9 355.0L105.3 355.8L105.8 356.4L106.3 356.7L106.6 357.0L106.7 357.4L106.2 358.0L105.0 358.9L102.9 360.3L100.0 362.1L96.6 364.0L93.0 366.1L89.4 367.9L86.2 369.5L83.4 370.7L80.7 371.8L78.0 372.7L75.4 373.6L72.9 374.4L70.6 375.2L68.4 376.0L66.3 376.7L64.3 377.4L62.4 378.1L60.6 378.8L59.0 379.5L57.5 380.3L56.3 381.0L55.1 381.8L54.0 382.6L53.0 383.5L52.0 384.5L51.0 385.6L50.1 386.9L49.3 388.2L48.5 389.5L47.7 390.8L47.0 392.0L46.3 393.1L45.7 394.1L45.1 395.1L44.5 396.1L44.0 397.0L43.5 398.0L43.0 399.1L42.5 400.2L42.0 401.4L41.6 402.4L41.3 403.3L41.0 404.0" fill="none" stroke="#111" stroke-width="0.99"/><g fill="none" stroke-width="2.5" stroke-linecap="round" stroke-linejoin="round"><path d="M41.0 404.0L41.3 403.2" stroke="#1e60f0"/><path d="M41.3 403.2L41.7 402.0" stroke="#2460f0"/><path d="M41.7 402.0L42.2 400.6" stroke="#2a60f0"/><path d="M42.2 400.6L42.8 399.1" stroke="#3066f0"/><path d="M42.8 399.1L43.4 397.5" stroke="#366cf0"/><path d="M43.4 397.5L44.0 396.0" stroke="#3c6cf0"/><path d="M44.0 396.0L44.7 394.4" stroke="#4272f0"/><path d="M44.7 394.4L45.5 392.7" stroke="#4878f0"/><path d="M45.5 392.7L46.4 390.9" stroke="#4e7ef0"/><path d="M46.4 390.9L47.2 389.1" stroke="#547ef0"/><path d="M47.2 389.1L48.1 387.5" stroke="#5a84f0"/><path d="M48.1 387.5L48.8 386.0" stroke="#608af0"/><path d="M48.8 386.0L49.3 384.8" stroke="#6690f0"/><path d="M49.3 384.8L49.8 383.9" stroke="#6c90f0"/><path d="M49.8 383.9L50.2 383.0" stroke="#7290f0"/><path d="M50.2 383.0L50.6 382.1" stroke="#7296f0"/><path d="M50.6 382.1L51.1 381.2" stroke="#7896f0"/><path d="M51.1 381.2L51.5 380.0L52.0 378.5" stroke="#7e9cf0"/><path d="M52.0 378.5L52.5 376.8" stroke="#84a2f0"/><path d="M52.5 376.8L53.1 375.0" stroke="#90a8f0"/><path d="M53.1 375.0L53.6 373.2" stroke="#96a8f0"/><path d="M53.6 373.2L54.0 371.5" stroke="#9caef0"/><path d="M54.0 371.5L54.4 370.0" stroke="#a2b4f0"/><path d="M54.4 370.0L54.7 368.8" stroke="#a8b4f0"/><path d="M54.7 368.8L54.9 367.9" stroke="#a8baea"/><path d="M54.9 367.9L55.0 367.0" stroke="#aebaea"/><path d="M55.0 367.0L55.1 366.2" stroke="#aec0ea"/><path d="M55.1 366.2L55.3 365.2" stroke="#b4c0ea"/><path d="M55.3 365.2L55.5 364.0" stroke="#bac0ea"/><path d="M55.5 364.0L55.7 362.5" stroke="#bac6ea"/><path d="M55.7 362.5L56.0 360.8" stroke="#c0ccea"/><path d="M56.0 360.8L56.3 359.0" stroke="#c6ccea"/><path d="M56.3 359.0L56.6 357.1" stroke="#d2d2ea"/><path d="M56.6 357.1L56.9 355.2" stroke="#d8d8ea"/><path d="M56.9 355.2L57.3 353.4" stroke="#dedeea"/><path d="M57.3 353.4L57.8 351.5" stroke="#e4d8e4"/><path d="M57.8 351.5L58.3 349.6" stroke="#e4c6cc"/><path d="M58.3 349.6L58.8 347.6" stroke="#e4baba"/><path d="M58.8 347.6L59.4 345.7" stroke="#e4a8a8"/><path d="M59.4 345.7L60.0 344.0" stroke="#e49c90"/><path d="M60.0 344.0L60.5 342.5" stroke="#e49084"/><path d="M60.5 342.5L61.0 341.2" stroke="#e48472"/><path d="M61.0 341.2L61.5 340.1" stroke="#e47866"/><path d="M61.5 340.1L61.9 339.1" stroke="#e4725a"/><path d="M61.9 339.1L62.4 338.2" stroke="#e4664e"/><path d="M62.4 338.2L63.0 337.5" stroke="#e46048"/><path d="M63.0 337.5L63.6 337.0L64.3 336.6L65.0 336.5L65.8 336.5L66.7 336.6L67.7 336.8L69.0 337.0L70.5 337.3L72.2 337.8L74.1 338.3L76.0 338.9L78.0 339.5L80.0 340.2L82.0 340.9L84.2 341.7L86.4 342.5L88.5 343.3L90.6 344.1L92.5 344.8L94.3 345.5L96.0 346.1L97.7 346.8L99.2 347.4L100.7 348.0L101.9 348.8L103.0 349.5L104.0 350.3L104.8 351.2L105.5 352.0L106.0 352.8L106.4 353.6L106.7 354.2L107.0 354.7L107.2 355.1L107.0 355.7L106.3 356.3L105.0 357.3L102.8 358.6L99.9 360.2L96.5 362.0L92.9 363.8L89.4 365.5L86.2 367.0L83.4 368.2L80.7 369.3L78.0 370.3L75.5 371.2L73.0 372.1L70.6 373.0L68.2 374.0L65.9 374.9L63.7 375.8L61.6 376.8L59.7 377.6L58.0 378.5" stroke="#e45a3c"/><path d="M58.0 378.5L56.6 379.3" stroke="#e4664e"/><path d="M56.6 379.3L55.5 380.0" stroke="#e47e72"/><path d="M55.5 380.0L54.5 380.7" stroke="#e4968a"/><path d="M54.5 380.7L53.7 381.4" stroke="#e4a8a8"/><path d="M53.7 381.4L52.9 382.1" stroke="#e4c0c0"/><path d="M52.9 382.1L52.0 383.0" stroke="#e4d2de"/><path d="M52.0 383.0L51.1 384.0" stroke="#ded8ea"/><path d="M51.1 384.0L50.2 385.1" stroke="#d2d2ea"/><path d="M50.2 385.1L49.3 386.3" stroke="#c6ccea"/><path d="M49.3 386.3L48.5 387.6" stroke="#bac0ea"/><path d="M48.5 387.6L47.7 388.8" stroke="#aebaea"/><path d="M47.7 388.8L47.0 390.0" stroke="#a2b4f0"/><path d="M47.0 390.0L46.4 391.2" stroke="#96aef0"/><path d="M46.4 391.2L45.9 392.3" stroke="#8aa2f0"/><path d="M45.9 392.3L45.4 393.5" stroke="#7e9cf0"/><path d="M45.4 393.5L44.9 394.7" stroke="#7896f0"/><path d="M44.9 394.7L44.5 395.8" stroke="#6c90f0"/><path d="M44.5 395.8L44.0 397.0" stroke="#608af0"/><path d="M44.0 397.0L43.5 398.2" stroke="#5484f0"/><path d="M43.5 398.2L42.9 399.6" stroke="#4e78f0"/><path d="M42.9 399.6L42.3 400.9" stroke="#4272f0"/><path d="M42.3 400.9L41.8 402.2" stroke="#366cf0"/><path d="M41.8 402.2L41.3 403.2" stroke="#2a66f0"/><path d="M41.3 403.2L41.0 404.0" stroke="#2460f0"/></g><path d="M41.0 404.0L41.3 403.2L41.7 402.0L42.2 400.6L42.8 399.1L43.4 397.5L44.0 396.0L44.7 394.4L45.5 392.7L46.4 390.9L47.2 389.1L48.1 387.5L48.8 386.0L49.3 384.8L49.8 383.9L50.2 383.0L50.6 382.1L51.1 381.2L51.5 380.0L52.0 378.5L52.5 376.8L53.1 375.0L53.6 373.2L54.0 371.5L54.4 370.0L54.7 368.8L54.9 367.9L55.0 367.0L55.1 366.2L55.3 365.2L55.5 364.0L55.7 362.5L56.0 360.8L56.3 359.0L56.6 357.1L56.9 355.2L57.3 353.4L57.8 351.5L58.3 349.6L58.8 347.6L59.4 345.7L60.0 344.0L60.5 342.5L61.0 341.2L61.5 340.1L61.9 339.1L62.4 338.2L63.0 337.5L63.6 337.0L64.3 336.6L65.0 336.5L65.8 336.5L66.7 336.6L67.7 336.8L69.0 337.0L70.5 337.3L72.2 337.8L74.1 338.3L76.0 338.9L78.0 339.5L80.0 340.2L82.0 340.9L84.2 341.7L86.4 342.5L88.5 343.3L90.6 344.1L92.5 344.8L94.3 345.5L96.0 346.1L97.7 346.8L99.2 347.4L100.7 348.0L101.9 348.8L103.0 349.5L104.0 350.3L104.8 351.2L105.5 352.0L106.0 352.8L106.4 353.6L106.7 354.2L107.0 354.7L107.2 355.1L107.0 355.7L106.3 356.3L105.0 357.3L102.8 358.6L99.9 360.2L96.5 362.0L92.9 363.8L89.4 365.5L86.2 367.0L83.4 368.2L80.7 369.3L78.0 370.3L75.5 371.2L73.0 372.1L70.6 373.0L68.2 374.0L65.9 374.9L63.7 375.8L61.6 376.8L59.7 377.6L58.0 378.5L56.6 379.3L55.5 380.0L54.5 380.7L53.7 381.4L52.9 382.1L52.0 383.0L51.1 384.0L50.2 385.1L49.3 386.3L48.5 387.6L47.7 388.8L47.0 390.0L46.4 391.2L45.9 392.3L45.4 393.5L44.9 394.7L44.5 395.8L44.0 397.0L43.5 398.2L42.9 399.6L42.3 400.9L41.8 402.2L41.3 403.2L41.0 404.0" fill="none" stroke="#111" stroke-width="1.10" stroke-dasharray="4.2,1.6"/>
<rect x="30.5" y="305.5" width="91" height="108" fill="none" stroke="#8a8a8a" stroke-width="0.9"/>
<line x1="30.5" y1="395.60" x2="32" y2="395.60" stroke="#8a8a8a" stroke-width="0.8"/>
<line x1="120" y1="395.60" x2="121.5" y2="395.60" stroke="#8a8a8a" stroke-width="0.8"/>
<text x="26.8" y="399.50" font-size="9.6" text-anchor="end" fill="#333">5</text>
<line x1="30.5" y1="365.00" x2="32" y2="365.00" stroke="#8a8a8a" stroke-width="0.8"/>
<line x1="120" y1="365.00" x2="121.5" y2="365.00" stroke="#8a8a8a" stroke-width="0.8"/>
<text x="26.8" y="368.90" font-size="9.6" text-anchor="end" fill="#333">10</text>
<line x1="30.5" y1="334.40" x2="32" y2="334.40" stroke="#8a8a8a" stroke-width="0.8"/>
<line x1="120" y1="334.40" x2="121.5" y2="334.40" stroke="#8a8a8a" stroke-width="0.8"/>
<text x="26.8" y="338.30" font-size="9.6" text-anchor="end" fill="#333">15</text>
<line x1="35.60" y1="412" x2="35.60" y2="413.5" stroke="#8a8a8a" stroke-width="0.8"/>
<line x1="35.60" y1="305.5" x2="35.60" y2="307" stroke="#8a8a8a" stroke-width="0.8"/>
<text x="35.60" y="426.70" font-size="9.6" text-anchor="middle" fill="#333">100</text>
<line x1="56.70" y1="412" x2="56.70" y2="413.5" stroke="#8a8a8a" stroke-width="0.8"/>
<line x1="56.70" y1="305.5" x2="56.70" y2="307" stroke="#8a8a8a" stroke-width="0.8"/>
<text x="56.70" y="426.70" font-size="9.6" text-anchor="middle" fill="#333">200</text>
<line x1="77.80" y1="412" x2="77.80" y2="413.5" stroke="#8a8a8a" stroke-width="0.8"/>
<line x1="77.80" y1="305.5" x2="77.80" y2="307" stroke="#8a8a8a" stroke-width="0.8"/>
<text x="77.80" y="426.70" font-size="9.6" text-anchor="middle" fill="#333">300</text>
<line x1="98.90" y1="412" x2="98.90" y2="413.5" stroke="#8a8a8a" stroke-width="0.8"/>
<line x1="98.90" y1="305.5" x2="98.90" y2="307" stroke="#8a8a8a" stroke-width="0.8"/>
<text x="98.90" y="426.70" font-size="9.6" text-anchor="middle" fill="#333">400</text>
<line x1="120.00" y1="412" x2="120.00" y2="413.5" stroke="#8a8a8a" stroke-width="0.8"/>
<line x1="120.00" y1="305.5" x2="120.00" y2="307" stroke="#8a8a8a" stroke-width="0.8"/>
<text x="120.00" y="426.70" font-size="9.6" text-anchor="middle" fill="#333">500</text>
<text x="34" y="314" font-size="9" font-weight="bold" fill="#000">g)</text>
<text x="113.8" y="317.0" font-size="11.2" font-weight="bold" text-anchor="end" fill="#000">III to IV</text>
<g fill="none" stroke-width="2.5" stroke-linecap="round" stroke-linejoin="round"><path d="M143.7 398.5L143.6 397.3" stroke="#1e60f0"/><path d="M143.6 397.3L143.5 395.6" stroke="#2a60f0"/><path d="M143.5 395.6L143.4 393.6" stroke="#3066f0"/><path d="M143.4 393.6L143.4 391.5" stroke="#3c6cf0"/><path d="M143.4 391.5L143.5 389.4" stroke="#4272f0"/><path d="M143.5 389.4L143.8 387.5" stroke="#4e78f0"/><path d="M143.8 387.5L144.3 385.8" stroke="#547ef0"/><path d="M144.3 385.8L145.1 384.2" stroke="#5a84f0"/><path d="M145.1 384.2L146.0 382.6" stroke="#668af0"/><path d="M146.0 382.6L146.9 381.0" stroke="#6c90f0"/><path d="M146.9 381.0L147.9 379.3" stroke="#7896f0"/><path d="M147.9 379.3L148.8 377.5" stroke="#7e9cf0"/><path d="M148.8 377.5L149.5 375.5" stroke="#8aa2f0"/><path d="M149.5 375.5L150.4 373.3" stroke="#90a8f0"/><path d="M150.4 373.3L151.1 371.1" stroke="#9cb4f0"/><path d="M151.1 371.1L151.9 368.9" stroke="#a8baf0"/><path d="M151.9 368.9L152.5 366.8" stroke="#b4c0ea"/><path d="M152.5 366.8L153.1 365.0" stroke="#bac6ea"/><path d="M153.1 365.0L153.5 363.5" stroke="#c6ccea"/><path d="M153.5 363.5L153.7 362.3" stroke="#ccccea"/><path d="M153.7 362.3L153.9 361.2" stroke="#d2d2ea"/><path d="M153.9 361.2L154.0 360.2" stroke="#d2d8ea"/><path d="M154.0 360.2L154.3 359.2" stroke="#d8d8ea"/><path d="M154.3 359.2L154.6 358.0" stroke="#dedeea"/><path d="M154.6 358.0L155.1 356.7" stroke="#e4d8e4"/><path d="M155.1 356.7L155.7 355.3" stroke="#e4ccd2"/><path d="M155.7 355.3L156.3 353.9" stroke="#e4bac0"/><path d="M156.3 353.9L157.0 352.5" stroke="#e4aeae"/><path d="M157.0 352.5L157.6 351.2" stroke="#e4a29c"/><path d="M157.6 351.2L158.3 350.0" stroke="#e4968a"/><path d="M158.3 350.0L158.9 349.0" stroke="#e48a7e"/><path d="M158.9 349.0L159.6 348.0" stroke="#e47e6c"/><path d="M159.6 348.0L160.2 347.2" stroke="#e47860"/><path d="M160.2 347.2L160.8 346.5" stroke="#e46c54"/><path d="M160.8 346.5L161.5 345.8" stroke="#e46648"/><path d="M161.5 345.8L162.2 345.3" stroke="#e45a42"/><path d="M162.2 345.3L162.8 344.9L163.4 344.7L164.0 344.5L164.7 344.4L165.7 344.4L166.9 344.5L168.5 344.6L170.5 344.8L172.7 345.1L175.0 345.4L177.3 345.7L179.4 346.1L181.4 346.5L183.5 347.0L185.5 347.5L187.5 348.1L189.3 348.6L191.0 349.2L192.6 349.8L194.0 350.4L195.4 351.0L196.6 351.7L197.7 352.4L198.6 353.0L199.3 353.6L199.9 354.3L200.2 354.9L200.5 355.6L200.7 356.2L200.8 356.9L200.9 357.6L200.9 358.4" stroke="#e45a3c"/><path d="M200.9 358.4L200.8 359.1" stroke="#e45a42"/><path d="M200.8 359.1L200.6 359.9L200.2 360.6" stroke="#e46042"/><path d="M200.2 360.6L199.7 361.2" stroke="#e46048"/><path d="M199.7 361.2L199.0 361.8" stroke="#e46648"/><path d="M199.0 361.8L198.1 362.4L197.1 362.8" stroke="#e4664e"/><path d="M197.1 362.8L196.0 363.3" stroke="#e46c54"/><path d="M196.0 363.3L194.6 363.9" stroke="#e46c5a"/><path d="M194.6 363.9L193.1 364.5" stroke="#e4725a"/><path d="M193.1 364.5L191.3 365.2" stroke="#e47860"/><path d="M191.3 365.2L189.1 366.0" stroke="#e47866"/><path d="M189.1 366.0L186.8 366.9" stroke="#e47e6c"/><path d="M186.8 366.9L184.4 367.7" stroke="#e48478"/><path d="M184.4 367.7L182.1 368.6" stroke="#e48a7e"/><path d="M182.1 368.6L180.0 369.5" stroke="#e49084"/><path d="M180.0 369.5L178.2 370.4" stroke="#e4968a"/><path d="M178.2 370.4L176.6 371.3" stroke="#e49c90"/><path d="M176.6 371.3L175.1 372.2" stroke="#e49c96"/><path d="M175.1 372.2L173.6 373.2" stroke="#e4a29c"/><path d="M173.6 373.2L171.9 374.1" stroke="#e4a8a2"/><path d="M171.9 374.1L170.0 375.0" stroke="#e4a8a8"/><path d="M170.0 375.0L167.7 375.9" stroke="#e4aeae"/><path d="M167.7 375.9L165.0 376.8" stroke="#e4b4b4"/><path d="M165.0 376.8L162.2 377.7" stroke="#e4bac0"/><path d="M162.2 377.7L159.4 378.5" stroke="#e4c6c6"/><path d="M159.4 378.5L157.0 379.3" stroke="#e4ccd2"/><path d="M157.0 379.3L155.0 380.0" stroke="#e4ccd8"/><path d="M155.0 380.0L153.6 380.6" stroke="#e4d2de"/><path d="M153.6 380.6L152.6 381.0" stroke="#e4d8de"/><path d="M152.6 381.0L151.9 381.4L151.3 381.7" stroke="#e4d8e4"/><path d="M151.3 381.7L150.7 382.1L150.0 382.5" stroke="#e4deea"/><path d="M150.0 382.5L149.2 382.9" stroke="#dedeea"/><path d="M149.2 382.9L148.3 383.3" stroke="#d8d8ea"/><path d="M148.3 383.3L147.4 383.7" stroke="#d2d2ea"/><path d="M147.4 383.7L146.6 384.2" stroke="#c6ccea"/><path d="M146.6 384.2L145.8 384.8" stroke="#c0c6ea"/><path d="M145.8 384.8L145.0 385.6" stroke="#bac6ea"/><path d="M145.0 385.6L144.3 386.7" stroke="#aec0ea"/><path d="M144.3 386.7L143.6 387.9" stroke="#a8b4f0"/><path d="M143.6 387.9L142.9 389.4" stroke="#9caef0"/><path d="M142.9 389.4L142.3 390.9" stroke="#90a8f0"/><path d="M142.3 390.9L141.7 392.4" stroke="#849cf0"/><path d="M141.7 392.4L141.0 394.0" stroke="#7296f0"/><path d="M141.0 394.0L140.3 395.7" stroke="#6690f0"/><path d="M140.3 395.7L139.5 397.6" stroke="#5a84f0"/><path d="M139.5 397.6L138.8 399.5" stroke="#4878f0"/><path d="M138.8 399.5L138.0 401.3" stroke="#3c72f0"/><path d="M138.0 401.3L137.4 402.9" stroke="#3066f0"/><path d="M137.4 402.9L137.0 404.0" stroke="#2460f0"/></g><path d="M143.7 398.5L143.6 397.3L143.5 395.6L143.4 393.6L143.4 391.5L143.5 389.4L143.8 387.5L144.3 385.8L145.1 384.2L146.0 382.6L146.9 381.0L147.9 379.3L148.8 377.5L149.5 375.5L150.4 373.3L151.1 371.1L151.9 368.9L152.5 366.8L153.1 365.0L153.5 363.5L153.7 362.3L153.9 361.2L154.0 360.2L154.3 359.2L154.6 358.0L155.1 356.7L155.7 355.3L156.3 353.9L157.0 352.5L157.6 351.2L158.3 350.0L158.9 349.0L159.6 348.0L160.2 347.2L160.8 346.5L161.5 345.8L162.2 345.3L162.8 344.9L163.4 344.7L164.0 344.5L164.7 344.4L165.7 344.4L166.9 344.5L168.5 344.6L170.5 344.8L172.7 345.1L175.0 345.4L177.3 345.7L179.4 346.1L181.4 346.5L183.5 347.0L185.5 347.5L187.5 348.1L189.3 348.6L191.0 349.2L192.6 349.8L194.0 350.4L195.4 351.0L196.6 351.7L197.7 352.4L198.6 353.0L199.3 353.6L199.9 354.3L200.2 354.9L200.5 355.6L200.7 356.2L200.8 356.9L200.9 357.6L200.9 358.4L200.8 359.1L200.6 359.9L200.2 360.6L199.7 361.2L199.0 361.8L198.1 362.4L197.1 362.8L196.0 363.3L194.6 363.9L193.1 364.5L191.3 365.2L189.1 366.0L186.8 366.9L184.4 367.7L182.1 368.6L180.0 369.5L178.2 370.4L176.6 371.3L175.1 372.2L173.6 373.2L171.9 374.1L170.0 375.0L167.7 375.9L165.0 376.8L162.2 377.7L159.4 378.5L157.0 379.3L155.0 380.0L153.6 380.6L152.6 381.0L151.9 381.4L151.3 381.7L150.7 382.1L150.0 382.5L149.2 382.9L148.3 383.3L147.4 383.7L146.6 384.2L145.8 384.8L145.0 385.6L144.3 386.7L143.6 387.9L142.9 389.4L142.3 390.9L141.7 392.4L141.0 394.0L140.3 395.7L139.5 397.6L138.8 399.5L138.0 401.3L137.4 402.9L137.0 404.0" fill="none" stroke="#111" stroke-width="0.99"/><g fill="none" stroke-width="2.5" stroke-linecap="round" stroke-linejoin="round"><path d="M137.0 404.0L137.6 402.5" stroke="#1e60f0"/><path d="M137.6 402.5L138.3 400.3" stroke="#2a60f0"/><path d="M138.3 400.3L139.3 397.8" stroke="#3066f0"/><path d="M139.3 397.8L140.2 395.1" stroke="#3c6cf0"/><path d="M140.2 395.1L141.1 392.4" stroke="#4272f0"/><path d="M141.1 392.4L141.9 390.0" stroke="#4e78f0"/><path d="M141.9 390.0L142.5 387.8" stroke="#547ef0"/><path d="M142.5 387.8L143.1 385.7" stroke="#5a84f0"/><path d="M143.1 385.7L143.6 383.6" stroke="#668af0"/><path d="M143.6 383.6L144.1 381.5" stroke="#6c90f0"/><path d="M144.1 381.5L144.6 379.5" stroke="#7296f0"/><path d="M144.6 379.5L145.0 377.5" stroke="#7896f0"/><path d="M145.0 377.5L145.4 375.5" stroke="#7e9cf0"/><path d="M145.4 375.5L145.8 373.5" stroke="#84a2f0"/><path d="M145.8 373.5L146.2 371.5" stroke="#90a8f0"/><path d="M146.2 371.5L146.6 369.6" stroke="#96a8f0"/><path d="M146.6 369.6L147.0 367.8" stroke="#9caef0"/><path d="M147.0 367.8L147.3 366.0" stroke="#a2b4f0"/><path d="M147.3 366.0L147.6 364.4" stroke="#a8baf0"/><path d="M147.6 364.4L147.9 362.8" stroke="#aebaea"/><path d="M147.9 362.8L148.2 361.3L148.5 359.9" stroke="#b4c0ea"/><path d="M148.5 359.9L148.7 358.4" stroke="#bac6ea"/><path d="M148.7 358.4L149.0 357.0" stroke="#c0c6ea"/><path d="M149.0 357.0L149.3 355.6" stroke="#c6ccea"/><path d="M149.3 355.6L149.5 354.2" stroke="#ccd2ea"/><path d="M149.5 354.2L149.7 352.9" stroke="#d2d2ea"/><path d="M149.7 352.9L149.9 351.5" stroke="#d2d8ea"/><path d="M149.9 351.5L150.2 350.0" stroke="#d8d8ea"/><path d="M150.2 350.0L150.5 348.4" stroke="#dedeea"/><path d="M150.5 348.4L150.8 346.5" stroke="#e4d8e4"/><path d="M150.8 346.5L151.2 344.3" stroke="#e4c6cc"/><path d="M151.2 344.3L151.5 342.0" stroke="#e4baba"/><path d="M151.5 342.0L151.9 339.8" stroke="#e4a8a2"/><path d="M151.9 339.8L152.4 337.7" stroke="#e49c90"/><path d="M152.4 337.7L152.8 336.0" stroke="#e48a7e"/><path d="M152.8 336.0L153.3 334.6" stroke="#e47e6c"/><path d="M153.3 334.6L153.7 333.5" stroke="#e47860"/><path d="M153.7 333.5L154.2 332.5" stroke="#e46c5a"/><path d="M154.2 332.5L154.7 331.7" stroke="#e4664e"/><path d="M154.7 331.7L155.3 331.0" stroke="#e46048"/><path d="M155.3 331.0L155.9 330.5L156.5 330.1L157.1 329.9L157.7 329.9L158.4 329.9L159.3 330.2L160.6 330.5L162.2 331.0L164.2 331.7L166.4 332.5L168.6 333.4L170.9 334.3L173.1 335.2L175.3 336.1L177.5 337.0L179.7 337.9L181.9 338.8L183.9 339.7L185.6 340.6L187.1 341.4L188.3 342.1L189.4 342.8L190.3 343.5L191.2 344.3L191.9 345.3L192.6 346.5L193.1 347.9L193.6 349.4L193.9 350.9L194.1 352.3L194.2 353.6L194.1 354.7" stroke="#e45a3c"/><path d="M194.1 354.7L193.9 355.7" stroke="#e45a42"/><path d="M193.9 355.7L193.6 356.6" stroke="#e46042"/><path d="M193.6 356.6L193.1 357.4" stroke="#e46048"/><path d="M193.1 357.4L192.6 358.2" stroke="#e46648"/><path d="M192.6 358.2L192.0 359.0L191.3 359.8" stroke="#e4664e"/><path d="M191.3 359.8L190.5 360.5L189.6 361.1" stroke="#e46c54"/><path d="M189.6 361.1L188.6 361.7" stroke="#e4725a"/><path d="M188.6 361.7L187.6 362.3" stroke="#e47260"/><path d="M187.6 362.3L186.6 362.9" stroke="#e47860"/><path d="M186.6 362.9L185.6 363.4" stroke="#e47866"/><path d="M185.6 363.4L184.6 363.8L183.6 364.2" stroke="#e47e6c"/><path d="M183.6 364.2L182.5 364.6" stroke="#e48472"/><path d="M182.5 364.6L181.3 365.1" stroke="#e48478"/><path d="M181.3 365.1L180.0 365.6" stroke="#e48a78"/><path d="M180.0 365.6L178.6 366.2" stroke="#e48a7e"/><path d="M178.6 366.2L177.1 366.9" stroke="#e49084"/><path d="M177.1 366.9L175.5 367.6" stroke="#e4968a"/><path d="M175.5 367.6L173.8 368.4" stroke="#e49c90"/><path d="M173.8 368.4L172.0 369.2" stroke="#e49c96"/><path d="M172.0 369.2L170.0 370.0" stroke="#e4a29c"/><path d="M170.0 370.0L167.7 370.9" stroke="#e4a8a8"/><path d="M167.7 370.9L165.0 371.9" stroke="#e4aeae"/><path d="M165.0 371.9L162.2 372.9" stroke="#e4baba"/><path d="M162.2 372.9L159.4 373.9" stroke="#e4c0c0"/><path d="M159.4 373.9L157.0 374.8" stroke="#e4c6cc"/><path d="M157.0 374.8L155.0 375.6" stroke="#e4ccd2"/><path d="M155.0 375.6L153.6 376.3" stroke="#e4d2d8"/><path d="M153.6 376.3L152.5 376.9" stroke="#e4d2de"/><path d="M152.5 376.9L151.8 377.4L151.2 377.9L150.6 378.5" stroke="#e4d8e4"/><path d="M150.6 378.5L150.0 379.0" stroke="#e4deea"/><path d="M150.0 379.0L149.3 379.5" stroke="#dedeea"/><path d="M149.3 379.5L148.7 379.9" stroke="#d8d8ea"/><path d="M148.7 379.9L148.1 380.4" stroke="#d2d2ea"/><path d="M148.1 380.4L147.5 380.9" stroke="#ccd2ea"/><path d="M147.5 380.9L146.9 381.6" stroke="#c6ccea"/><path d="M146.9 381.6L146.2 382.5" stroke="#c0ccea"/><path d="M146.2 382.5L145.6 383.7" stroke="#bac6ea"/><path d="M145.6 383.7L144.9 385.1" stroke="#aebaea"/><path d="M144.9 385.1L144.2 386.7" stroke="#a2b4f0"/><path d="M144.2 386.7L143.5 388.4" stroke="#96aef0"/><path d="M143.5 388.4L142.8 390.2" stroke="#8aa2f0"/><path d="M142.8 390.2L142.0 392.0" stroke="#7e9cf0"/><path d="M142.0 392.0L141.2 394.0" stroke="#7290f0"/><path d="M141.2 394.0L140.2 396.3" stroke="#608af0"/><path d="M140.2 396.3L139.2 398.6" stroke="#4e7ef0"/><path d="M139.2 398.6L138.3 400.8" stroke="#3c72f0"/><path d="M138.3 400.8L137.6 402.7" stroke="#3066f0"/><path d="M137.6 402.7L137.0 404.0" stroke="#2460f0"/></g><path d="M137.0 404.0L137.6 402.5L138.3 400.3L139.3 397.8L140.2 395.1L141.1 392.4L141.9 390.0L142.5 387.8L143.1 385.7L143.6 383.6L144.1 381.5L144.6 379.5L145.0 377.5L145.4 375.5L145.8 373.5L146.2 371.5L146.6 369.6L147.0 367.8L147.3 366.0L147.6 364.4L147.9 362.8L148.2 361.3L148.5 359.9L148.7 358.4L149.0 357.0L149.3 355.6L149.5 354.2L149.7 352.9L149.9 351.5L150.2 350.0L150.5 348.4L150.8 346.5L151.2 344.3L151.5 342.0L151.9 339.8L152.4 337.7L152.8 336.0L153.3 334.6L153.7 333.5L154.2 332.5L154.7 331.7L155.3 331.0L155.9 330.5L156.5 330.1L157.1 329.9L157.7 329.9L158.4 329.9L159.3 330.2L160.6 330.5L162.2 331.0L164.2 331.7L166.4 332.5L168.6 333.4L170.9 334.3L173.1 335.2L175.3 336.1L177.5 337.0L179.7 337.9L181.9 338.8L183.9 339.7L185.6 340.6L187.1 341.4L188.3 342.1L189.4 342.8L190.3 343.5L191.2 344.3L191.9 345.3L192.6 346.5L193.1 347.9L193.6 349.4L193.9 350.9L194.1 352.3L194.2 353.6L194.1 354.7L193.9 355.7L193.6 356.6L193.1 357.4L192.6 358.2L192.0 359.0L191.3 359.8L190.5 360.5L189.6 361.1L188.6 361.7L187.6 362.3L186.6 362.9L185.6 363.4L184.6 363.8L183.6 364.2L182.5 364.6L181.3 365.1L180.0 365.6L178.6 366.2L177.1 366.9L175.5 367.6L173.8 368.4L172.0 369.2L170.0 370.0L167.7 370.9L165.0 371.9L162.2 372.9L159.4 373.9L157.0 374.8L155.0 375.6L153.6 376.3L152.5 376.9L151.8 377.4L151.2 377.9L150.6 378.5L150.0 379.0L149.3 379.5L148.7 379.9L148.1 380.4L147.5 380.9L146.9 381.6L146.2 382.5L145.6 383.7L144.9 385.1L144.2 386.7L143.5 388.4L142.8 390.2L142.0 392.0L141.2 394.0L140.2 396.3L139.2 398.6L138.3 400.8L137.6 402.7L137.0 404.0" fill="none" stroke="#111" stroke-width="1.10" stroke-dasharray="4.2,1.6"/>
<rect x="125.5" y="305.5" width="91" height="108" fill="none" stroke="#8a8a8a" stroke-width="0.9"/>
<line x1="125.5" y1="395.60" x2="127" y2="395.60" stroke="#8a8a8a" stroke-width="0.8"/>
<line x1="215" y1="395.60" x2="216.5" y2="395.60" stroke="#8a8a8a" stroke-width="0.8"/>
<line x1="125.5" y1="365.00" x2="127" y2="365.00" stroke="#8a8a8a" stroke-width="0.8"/>
<line x1="215" y1="365.00" x2="216.5" y2="365.00" stroke="#8a8a8a" stroke-width="0.8"/>
<line x1="125.5" y1="334.40" x2="127" y2="334.40" stroke="#8a8a8a" stroke-width="0.8"/>
<line x1="215" y1="334.40" x2="216.5" y2="334.40" stroke="#8a8a8a" stroke-width="0.8"/>
<line x1="130.60" y1="412" x2="130.60" y2="413.5" stroke="#8a8a8a" stroke-width="0.8"/>
<line x1="130.60" y1="305.5" x2="130.60" y2="307" stroke="#8a8a8a" stroke-width="0.8"/>
<text x="130.60" y="426.70" font-size="9.6" text-anchor="middle" fill="#333">100</text>
<line x1="151.70" y1="412" x2="151.70" y2="413.5" stroke="#8a8a8a" stroke-width="0.8"/>
<line x1="151.70" y1="305.5" x2="151.70" y2="307" stroke="#8a8a8a" stroke-width="0.8"/>
<text x="151.70" y="426.70" font-size="9.6" text-anchor="middle" fill="#333">200</text>
<line x1="172.80" y1="412" x2="172.80" y2="413.5" stroke="#8a8a8a" stroke-width="0.8"/>
<line x1="172.80" y1="305.5" x2="172.80" y2="307" stroke="#8a8a8a" stroke-width="0.8"/>
<text x="172.80" y="426.70" font-size="9.6" text-anchor="middle" fill="#333">300</text>
<line x1="193.90" y1="412" x2="193.90" y2="413.5" stroke="#8a8a8a" stroke-width="0.8"/>
<line x1="193.90" y1="305.5" x2="193.90" y2="307" stroke="#8a8a8a" stroke-width="0.8"/>
<text x="193.90" y="426.70" font-size="9.6" text-anchor="middle" fill="#333">400</text>
<line x1="215.00" y1="412" x2="215.00" y2="413.5" stroke="#8a8a8a" stroke-width="0.8"/>
<line x1="215.00" y1="305.5" x2="215.00" y2="307" stroke="#8a8a8a" stroke-width="0.8"/>
<text x="215.00" y="426.70" font-size="9.6" text-anchor="middle" fill="#333">500</text>
<text x="129" y="314" font-size="9" font-weight="bold" fill="#000">h)</text>
<text x="211.3" y="317.0" font-size="11.2" font-weight="bold" text-anchor="end" fill="#000">III to IV</text>
<g fill="none" stroke-width="2.5" stroke-linecap="round" stroke-linejoin="round"><path d="M232.5 404.0L232.7 402.7" stroke="#1e60f0"/><path d="M232.7 402.7L233.0 400.9" stroke="#2460f0"/><path d="M233.0 400.9L233.3 398.8" stroke="#3066f0"/><path d="M233.3 398.8L233.7 396.6" stroke="#366cf0"/><path d="M233.7 396.6L234.3 394.4" stroke="#3c72f0"/><path d="M234.3 394.4L235.0 392.5" stroke="#4878f0"/><path d="M235.0 392.5L235.9 390.9" stroke="#4e78f0"/><path d="M235.9 390.9L237.0 389.6" stroke="#547ef0"/><path d="M237.0 389.6L238.3 388.3" stroke="#5a84f0"/><path d="M238.3 388.3L239.5 386.9" stroke="#608af0"/><path d="M239.5 386.9L240.8 385.5" stroke="#668af0"/><path d="M240.8 385.5L241.9 383.8" stroke="#6c90f0"/><path d="M241.9 383.8L242.9 381.8" stroke="#7896f0"/><path d="M242.9 381.8L243.9 379.6" stroke="#7e9cf0"/><path d="M243.9 379.6L244.8 377.3" stroke="#84a2f0"/><path d="M244.8 377.3L245.7 374.9" stroke="#90a8f0"/><path d="M245.7 374.9L246.6 372.4" stroke="#96aef0"/><path d="M246.6 372.4L247.5 370.0" stroke="#a2b4f0"/><path d="M247.5 370.0L248.5 367.5" stroke="#aebaea"/><path d="M248.5 367.5L249.4 364.7" stroke="#b4c0ea"/><path d="M249.4 364.7L250.4 362.0" stroke="#c0c6ea"/><path d="M250.4 362.0L251.4 359.3" stroke="#ccd2ea"/><path d="M251.4 359.3L252.3 356.9" stroke="#d2d8ea"/><path d="M252.3 356.9L253.1 355.0" stroke="#dedeea"/><path d="M253.1 355.0L253.8 353.6" stroke="#e4d8de"/><path d="M253.8 353.6L254.4 352.6" stroke="#e4c6cc"/><path d="M254.4 352.6L254.9 351.9" stroke="#e4c0c0"/><path d="M254.9 351.9L255.4 351.3" stroke="#e4b4b4"/><path d="M255.4 351.3L256.0 350.7" stroke="#e4aeae"/><path d="M256.0 350.7L256.6 350.0" stroke="#e4a2a2"/><path d="M256.6 350.0L257.3 349.1" stroke="#e49c90"/><path d="M257.3 349.1L258.1 348.1" stroke="#e4907e"/><path d="M258.1 348.1L258.8 347.1" stroke="#e47e72"/><path d="M258.8 347.1L259.7 346.1" stroke="#e47260"/><path d="M259.7 346.1L260.5 345.3" stroke="#e4664e"/><path d="M260.5 345.3L261.2 344.7" stroke="#e46042"/><path d="M261.2 344.7L261.9 344.3L262.5 344.0L263.1 343.8L263.8 343.8L264.7 343.9L266.0 344.0L267.7 344.3L269.7 344.7L272.0 345.2L274.3 345.7L276.6 346.3L278.8 346.9L280.8 347.5L282.8 348.0L284.8 348.7L286.7 349.3L288.4 349.9L290.0 350.6L291.4 351.3L292.7 352.0L293.8 352.8L294.8 353.5L295.6 354.3L296.2 355.0L296.8 355.7L297.2 356.4L297.4 357.1L297.4 357.8L297.3 358.6L296.9 359.4L296.2 360.3" stroke="#e45a3c"/><path d="M296.2 360.3L295.3 361.2" stroke="#e46042"/><path d="M295.3 361.2L294.2 362.2" stroke="#e46048"/><path d="M294.2 362.2L292.9 363.2" stroke="#e4664e"/><path d="M292.9 363.2L291.5 364.2" stroke="#e46c54"/><path d="M291.5 364.2L290.0 365.0" stroke="#e4725a"/><path d="M290.0 365.0L288.3 365.7" stroke="#e47260"/><path d="M288.3 365.7L286.5 366.4" stroke="#e47866"/><path d="M286.5 366.4L284.5 367.0" stroke="#e47e6c"/><path d="M284.5 367.0L282.5 367.6" stroke="#e48478"/><path d="M282.5 367.6L280.5 368.1" stroke="#e48a7e"/><path d="M280.5 368.1L278.8 368.8" stroke="#e49084"/><path d="M278.8 368.8L277.2 369.3" stroke="#e4968a"/><path d="M277.2 369.3L275.9 369.9" stroke="#e49c90"/><path d="M275.9 369.9L274.6 370.5" stroke="#e49c96"/><path d="M274.6 370.5L273.3 371.1" stroke="#e4a29c"/><path d="M273.3 371.1L271.8 371.7" stroke="#e4a8a2"/><path d="M271.8 371.7L270.0 372.5" stroke="#e4aea8"/><path d="M270.0 372.5L267.8 373.4" stroke="#e4b4b4"/><path d="M267.8 373.4L265.4 374.4" stroke="#e4baba"/><path d="M265.4 374.4L262.7 375.5" stroke="#e4c0c6"/><path d="M262.7 375.5L260.0 376.6" stroke="#e4ccd2"/><path d="M260.0 376.6L257.4 377.7" stroke="#e4d2de"/><path d="M257.4 377.7L255.0 378.8" stroke="#e4d8e4"/><path d="M255.0 378.8L252.7 379.7" stroke="#d8d8ea"/><path d="M252.7 379.7L250.4 380.6" stroke="#ccd2ea"/><path d="M250.4 380.6L248.2 381.5" stroke="#c0c6ea"/><path d="M248.2 381.5L246.1 382.4" stroke="#b4c0ea"/><path d="M246.1 382.4L244.2 383.4" stroke="#a8baf0"/><path d="M244.2 383.4L242.5 384.4" stroke="#9caef0"/><path d="M242.5 384.4L241.1 385.4" stroke="#90a8f0"/><path d="M241.1 385.4L239.8 386.5" stroke="#8aa2f0"/><path d="M239.8 386.5L238.8 387.6" stroke="#849cf0"/><path d="M238.8 387.6L237.9 388.7" stroke="#7896f0"/><path d="M237.9 388.7L237.0 389.9" stroke="#7296f0"/><path d="M237.0 389.9L236.2 391.2" stroke="#6c90f0"/><path d="M236.2 391.2L235.5 392.8" stroke="#608af0"/><path d="M235.5 392.8L234.9 394.6" stroke="#5484f0"/><path d="M234.9 394.6L234.3 396.5" stroke="#4e7ef0"/><path d="M234.3 396.5L233.8 398.3" stroke="#4272f0"/><path d="M233.8 398.3L233.4 400.0" stroke="#366cf0"/><path d="M233.4 400.0L233.1 401.2" stroke="#3066f0"/><path d="M233.1 401.2L232.8 402.2" stroke="#2a66f0"/><path d="M232.8 402.2L232.7 402.8L232.6 403.2L232.6 403.6" stroke="#2460f0"/><path d="M232.6 403.6L232.5 403.8" stroke="#1e60f0"/><path d="M232.5 403.8L232.5 404.0" stroke="#1e5af0"/></g><path d="M232.5 404.0L232.7 402.7L233.0 400.9L233.3 398.8L233.7 396.6L234.3 394.4L235.0 392.5L235.9 390.9L237.0 389.6L238.3 388.3L239.5 386.9L240.8 385.5L241.9 383.8L242.9 381.8L243.9 379.6L244.8 377.3L245.7 374.9L246.6 372.4L247.5 370.0L248.5 367.5L249.4 364.7L250.4 362.0L251.4 359.3L252.3 356.9L253.1 355.0L253.8 353.6L254.4 352.6L254.9 351.9L255.4 351.3L256.0 350.7L256.6 350.0L257.3 349.1L258.1 348.1L258.8 347.1L259.7 346.1L260.5 345.3L261.2 344.7L261.9 344.3L262.5 344.0L263.1 343.8L263.8 343.8L264.7 343.9L266.0 344.0L267.7 344.3L269.7 344.7L272.0 345.2L274.3 345.7L276.6 346.3L278.8 346.9L280.8 347.5L282.8 348.0L284.8 348.7L286.7 349.3L288.4 349.9L290.0 350.6L291.4 351.3L292.7 352.0L293.8 352.8L294.8 353.5L295.6 354.3L296.2 355.0L296.8 355.7L297.2 356.4L297.4 357.1L297.4 357.8L297.3 358.6L296.9 359.4L296.2 360.3L295.3 361.2L294.2 362.2L292.9 363.2L291.5 364.2L290.0 365.0L288.3 365.7L286.5 366.4L284.5 367.0L282.5 367.6L280.5 368.1L278.8 368.8L277.2 369.3L275.9 369.9L274.6 370.5L273.3 371.1L271.8 371.7L270.0 372.5L267.8 373.4L265.4 374.4L262.7 375.5L260.0 376.6L257.4 377.7L255.0 378.8L252.7 379.7L250.4 380.6L248.2 381.5L246.1 382.4L244.2 383.4L242.5 384.4L241.1 385.4L239.8 386.5L238.8 387.6L237.9 388.7L237.0 389.9L236.2 391.2L235.5 392.8L234.9 394.6L234.3 396.5L233.8 398.3L233.4 400.0L233.1 401.2L232.8 402.2L232.7 402.8L232.6 403.2L232.6 403.6L232.5 403.8L232.5 404.0" fill="none" stroke="#111" stroke-width="0.99"/><g fill="none" stroke-width="2.5" stroke-linecap="round" stroke-linejoin="round"><path d="M244.6 396.5L244.4 396.4L244.0 396.3" stroke="#1e5af0"/><path d="M244.0 396.3L243.7 396.2" stroke="#1e60f0"/><path d="M243.7 396.2L243.3 396.0L242.9 395.6L242.5 395.0" stroke="#2460f0"/><path d="M242.5 395.0L242.1 394.1" stroke="#2a60f0"/><path d="M242.1 394.1L241.7 392.9" stroke="#2a66f0"/><path d="M241.7 392.9L241.4 391.6" stroke="#3066f0"/><path d="M241.4 391.6L241.0 390.2" stroke="#306cf0"/><path d="M241.0 390.2L240.8 388.8" stroke="#366cf0"/><path d="M240.8 388.8L240.6 387.5L240.6 386.3" stroke="#3c72f0"/><path d="M240.6 386.3L240.7 385.2" stroke="#4272f0"/><path d="M240.7 385.2L240.9 384.1L241.1 382.9" stroke="#4878f0"/><path d="M241.1 382.9L241.3 381.5" stroke="#4e7ef0"/><path d="M241.3 381.5L241.5 380.0" stroke="#547ef0"/><path d="M241.5 380.0L241.7 378.2" stroke="#5484f0"/><path d="M241.7 378.2L241.9 376.2" stroke="#5a84f0"/><path d="M241.9 376.2L242.1 374.0" stroke="#608af0"/><path d="M242.1 374.0L242.2 371.7" stroke="#6690f0"/><path d="M242.2 371.7L242.4 369.6" stroke="#7290f0"/><path d="M242.4 369.6L242.5 367.5" stroke="#7896f0"/><path d="M242.5 367.5L242.6 365.6" stroke="#7e9cf0"/><path d="M242.6 365.6L242.7 363.7" stroke="#849cf0"/><path d="M242.7 363.7L242.8 361.9" stroke="#84a2f0"/><path d="M242.8 361.9L242.8 360.1" stroke="#8aa8f0"/><path d="M242.8 360.1L242.7 358.3" stroke="#90a8f0"/><path d="M242.7 358.3L242.5 356.4" stroke="#96aef0"/><path d="M242.5 356.4L242.2 354.4" stroke="#9caef0"/><path d="M242.2 354.4L241.7 352.3" stroke="#a2b4f0"/><path d="M241.7 352.3L241.1 350.2" stroke="#a8baea"/><path d="M241.1 350.2L240.5 348.1" stroke="#aec0ea"/><path d="M240.5 348.1L239.9 346.0" stroke="#b4c0ea"/><path d="M239.9 346.0L239.4 344.0" stroke="#bac6ea"/><path d="M239.4 344.0L239.0 342.1" stroke="#c0ccea"/><path d="M239.0 342.1L238.5 340.1" stroke="#c6ccea"/><path d="M238.5 340.1L238.1 338.2" stroke="#ccd2ea"/><path d="M238.1 338.2L237.8 336.4" stroke="#d2d8ea"/><path d="M237.8 336.4L237.5 334.6" stroke="#d8d8ea"/><path d="M237.5 334.6L237.3 333.0" stroke="#dedeea"/><path d="M237.3 333.0L237.2 331.5" stroke="#e4d8e4"/><path d="M237.2 331.5L237.2 330.0" stroke="#e4c6cc"/><path d="M237.2 330.0L237.2 328.7" stroke="#e4bac0"/><path d="M237.2 328.7L237.3 327.4" stroke="#e4aeae"/><path d="M237.3 327.4L237.4 326.2" stroke="#e4a29c"/><path d="M237.4 326.2L237.5 325.0" stroke="#e49690"/><path d="M237.5 325.0L237.6 323.9" stroke="#e48a7e"/><path d="M237.6 323.9L237.8 322.8" stroke="#e48472"/><path d="M237.8 322.8L237.9 321.8" stroke="#e47866"/><path d="M237.9 321.8L238.1 320.9" stroke="#e4725a"/><path d="M238.1 320.9L238.3 319.9" stroke="#e4664e"/><path d="M238.3 319.9L238.6 319.0" stroke="#e45a42"/><path d="M238.6 319.0L238.9 318.0L239.2 316.9L239.6 315.8L240.0 314.9L240.4 314.0L240.9 313.5L241.4 313.2L241.8 313.1L242.4 313.1L243.0 313.4L243.8 313.7L244.8 314.2L246.1 315.0L247.6 315.9L249.4 316.9L251.2 318.1L253.1 319.3L255.0 320.5L257.0 321.7L259.2 323.0L261.4 324.3L263.6 325.6L265.7 327.0L267.5 328.3L269.1 329.6L270.6 331.0L272.0 332.3L273.2 333.6L274.3 334.9L275.3 336.1L276.2 337.2L276.9 338.3L277.6 339.3L278.1 340.3L278.5 341.4L278.8 342.5L278.9 343.7" stroke="#e45a3c"/><path d="M278.9 343.7L279.0 344.9" stroke="#e46042"/><path d="M279.0 344.9L278.9 346.2" stroke="#e46048"/><path d="M278.9 346.2L278.7 347.5" stroke="#e46648"/><path d="M278.7 347.5L278.5 348.7" stroke="#e4664e"/><path d="M278.5 348.7L278.1 350.0" stroke="#e46c54"/><path d="M278.1 350.0L277.6 351.3" stroke="#e46c5a"/><path d="M277.6 351.3L277.0 352.6" stroke="#e47260"/><path d="M277.0 352.6L276.3 353.9" stroke="#e47860"/><path d="M276.3 353.9L275.5 355.2" stroke="#e47866"/><path d="M275.5 355.2L274.6 356.4" stroke="#e47e6c"/><path d="M274.6 356.4L273.8 357.5" stroke="#e48472"/><path d="M273.8 357.5L272.8 358.5" stroke="#e48478"/><path d="M272.8 358.5L271.9 359.4" stroke="#e48a7e"/><path d="M271.9 359.4L270.9 360.2L269.8 360.9" stroke="#e49084"/><path d="M269.8 360.9L268.7 361.7" stroke="#e4968a"/><path d="M268.7 361.7L267.5 362.5" stroke="#e49c90"/><path d="M267.5 362.5L266.2 363.3" stroke="#e49c96"/><path d="M266.2 363.3L264.8 364.0" stroke="#e4a29c"/><path d="M264.8 364.0L263.4 364.7" stroke="#e4a8a2"/><path d="M263.4 364.7L261.9 365.5" stroke="#e4a8a8"/><path d="M261.9 365.5L260.3 366.4" stroke="#e4aeae"/><path d="M260.3 366.4L258.8 367.5" stroke="#e4b4b4"/><path d="M258.8 367.5L257.1 368.9" stroke="#e4baba"/><path d="M257.1 368.9L255.3 370.6" stroke="#e4c0c6"/><path d="M255.3 370.6L253.4 372.3" stroke="#e4c6cc"/><path d="M253.4 372.3L251.6 374.2" stroke="#e4ccd8"/><path d="M251.6 374.2L250.0 375.9" stroke="#e4d8de"/><path d="M250.0 375.9L248.8 377.5" stroke="#e4deea"/><path d="M248.8 377.5L247.8 378.9" stroke="#d8d8ea"/><path d="M247.8 378.9L247.1 380.2" stroke="#c6ccea"/><path d="M247.1 380.2L246.6 381.4" stroke="#bac6ea"/><path d="M246.6 381.4L246.2 382.6" stroke="#aebaea"/><path d="M246.2 382.6L245.9 383.8" stroke="#a2b4f0"/><path d="M245.9 383.8L245.6 385.0" stroke="#96aef0"/><path d="M245.6 385.0L245.4 386.2" stroke="#8aa2f0"/><path d="M245.4 386.2L245.2 387.5" stroke="#7e9cf0"/><path d="M245.2 387.5L245.1 388.7" stroke="#7296f0"/><path d="M245.1 388.7L245.1 389.9" stroke="#668af0"/><path d="M245.1 389.9L245.1 391.0" stroke="#5a84f0"/><path d="M245.1 391.0L245.0 392.0" stroke="#4e7ef0"/><path d="M245.0 392.0L244.9 392.9" stroke="#4878f0"/><path d="M244.9 392.9L244.8 393.9" stroke="#3c72f0"/><path d="M244.8 393.9L244.8 394.7" stroke="#366cf0"/><path d="M244.8 394.7L244.7 395.4" stroke="#2a66f0"/><path d="M244.7 395.4L244.6 396.0" stroke="#2460f0"/><path d="M244.6 396.0L244.6 396.5" stroke="#1e60f0"/></g><path d="M244.6 396.5L244.4 396.4L244.0 396.3L243.7 396.2L243.3 396.0L242.9 395.6L242.5 395.0L242.1 394.1L241.7 392.9L241.4 391.6L241.0 390.2L240.8 388.8L240.6 387.5L240.6 386.3L240.7 385.2L240.9 384.1L241.1 382.9L241.3 381.5L241.5 380.0L241.7 378.2L241.9 376.2L242.1 374.0L242.2 371.7L242.4 369.6L242.5 367.5L242.6 365.6L242.7 363.7L242.8 361.9L242.8 360.1L242.7 358.3L242.5 356.4L242.2 354.4L241.7 352.3L241.1 350.2L240.5 348.1L239.9 346.0L239.4 344.0L239.0 342.1L238.5 340.1L238.1 338.2L237.8 336.4L237.5 334.6L237.3 333.0L237.2 331.5L237.2 330.0L237.2 328.7L237.3 327.4L237.4 326.2L237.5 325.0L237.6 323.9L237.8 322.8L237.9 321.8L238.1 320.9L238.3 319.9L238.6 319.0L238.9 318.0L239.2 316.9L239.6 315.8L240.0 314.9L240.4 314.0L240.9 313.5L241.4 313.2L241.8 313.1L242.4 313.1L243.0 313.4L243.8 313.7L244.8 314.2L246.1 315.0L247.6 315.9L249.4 316.9L251.2 318.1L253.1 319.3L255.0 320.5L257.0 321.7L259.2 323.0L261.4 324.3L263.6 325.6L265.7 327.0L267.5 328.3L269.1 329.6L270.6 331.0L272.0 332.3L273.2 333.6L274.3 334.9L275.3 336.1L276.2 337.2L276.9 338.3L277.6 339.3L278.1 340.3L278.5 341.4L278.8 342.5L278.9 343.7L279.0 344.9L278.9 346.2L278.7 347.5L278.5 348.7L278.1 350.0L277.6 351.3L277.0 352.6L276.3 353.9L275.5 355.2L274.6 356.4L273.8 357.5L272.8 358.5L271.9 359.4L270.9 360.2L269.8 360.9L268.7 361.7L267.5 362.5L266.2 363.3L264.8 364.0L263.4 364.7L261.9 365.5L260.3 366.4L258.8 367.5L257.1 368.9L255.3 370.6L253.4 372.3L251.6 374.2L250.0 375.9L248.8 377.5L247.8 378.9L247.1 380.2L246.6 381.4L246.2 382.6L245.9 383.8L245.6 385.0L245.4 386.2L245.2 387.5L245.1 388.7L245.1 389.9L245.1 391.0L245.0 392.0L244.9 392.9L244.8 393.9L244.8 394.7L244.7 395.4L244.6 396.0L244.6 396.5" fill="none" stroke="#111" stroke-width="1.10" stroke-dasharray="4.2,1.6"/>
<rect x="220.5" y="305.5" width="91" height="108" fill="none" stroke="#8a8a8a" stroke-width="0.9"/>
<line x1="220.5" y1="395.60" x2="222" y2="395.60" stroke="#8a8a8a" stroke-width="0.8"/>
<line x1="310" y1="395.60" x2="311.5" y2="395.60" stroke="#8a8a8a" stroke-width="0.8"/>
<line x1="220.5" y1="365.00" x2="222" y2="365.00" stroke="#8a8a8a" stroke-width="0.8"/>
<line x1="310" y1="365.00" x2="311.5" y2="365.00" stroke="#8a8a8a" stroke-width="0.8"/>
<line x1="220.5" y1="334.40" x2="222" y2="334.40" stroke="#8a8a8a" stroke-width="0.8"/>
<line x1="310" y1="334.40" x2="311.5" y2="334.40" stroke="#8a8a8a" stroke-width="0.8"/>
<line x1="225.60" y1="412" x2="225.60" y2="413.5" stroke="#8a8a8a" stroke-width="0.8"/>
<line x1="225.60" y1="305.5" x2="225.60" y2="307" stroke="#8a8a8a" stroke-width="0.8"/>
<text x="225.60" y="426.70" font-size="9.6" text-anchor="middle" fill="#333">100</text>
<line x1="246.70" y1="412" x2="246.70" y2="413.5" stroke="#8a8a8a" stroke-width="0.8"/>
<line x1="246.70" y1="305.5" x2="246.70" y2="307" stroke="#8a8a8a" stroke-width="0.8"/>
<text x="246.70" y="426.70" font-size="9.6" text-anchor="middle" fill="#333">200</text>
<line x1="267.80" y1="412" x2="267.80" y2="413.5" stroke="#8a8a8a" stroke-width="0.8"/>
<line x1="267.80" y1="305.5" x2="267.80" y2="307" stroke="#8a8a8a" stroke-width="0.8"/>
<text x="267.80" y="426.70" font-size="9.6" text-anchor="middle" fill="#333">300</text>
<line x1="288.90" y1="412" x2="288.90" y2="413.5" stroke="#8a8a8a" stroke-width="0.8"/>
<line x1="288.90" y1="305.5" x2="288.90" y2="307" stroke="#8a8a8a" stroke-width="0.8"/>
<text x="288.90" y="426.70" font-size="9.6" text-anchor="middle" fill="#333">400</text>
<line x1="310.00" y1="412" x2="310.00" y2="413.5" stroke="#8a8a8a" stroke-width="0.8"/>
<line x1="310.00" y1="305.5" x2="310.00" y2="307" stroke="#8a8a8a" stroke-width="0.8"/>
<text x="310.00" y="426.70" font-size="9.6" text-anchor="middle" fill="#333">500</text>
<text x="224" y="314" font-size="9" font-weight="bold" fill="#000">i)</text>
<text x="305.9" y="317.0" font-size="11.2" font-weight="bold" text-anchor="end" fill="#000">III to IV</text>
<g fill="none" stroke-width="2.5" stroke-linecap="round" stroke-linejoin="round"><path d="M80.0 546.0L79.5 545.4" stroke="#1e60f0"/><path d="M79.5 545.4L78.8 544.5" stroke="#2460f0"/><path d="M78.8 544.5L77.9 543.5" stroke="#3066f0"/><path d="M77.9 543.5L77.1 542.3" stroke="#366cf0"/><path d="M77.1 542.3L76.5 541.2" stroke="#3c72f0"/><path d="M76.5 541.2L76.2 540.0" stroke="#4878f0"/><path d="M76.2 540.0L76.4 538.9" stroke="#4e7ef0"/><path d="M76.4 538.9L76.8 537.7" stroke="#547ef0"/><path d="M76.8 537.7L77.4 536.5" stroke="#5a84f0"/><path d="M77.4 536.5L78.2 535.2" stroke="#668af0"/><path d="M78.2 535.2L79.1 533.9" stroke="#6c90f0"/><path d="M79.1 533.9L80.0 532.5" stroke="#7896f0"/><path d="M80.0 532.5L81.1 530.9" stroke="#849cf0"/><path d="M81.1 530.9L82.4 529.1" stroke="#90a8f0"/><path d="M82.4 529.1L83.8 527.2" stroke="#9caef0"/><path d="M83.8 527.2L85.2 525.4" stroke="#a8baea"/><path d="M85.2 525.4L86.4 523.8" stroke="#b4c0ea"/><path d="M86.4 523.8L87.5 522.5" stroke="#c0ccea"/><path d="M87.5 522.5L88.3 521.7" stroke="#ccccea"/><path d="M88.3 521.7L88.8 521.2" stroke="#d2d2ea"/><path d="M88.8 521.2L89.3 520.9" stroke="#d2d8ea"/><path d="M89.3 520.9L89.7 520.8L90.3 520.5" stroke="#d8d8ea"/><path d="M90.3 520.5L91.0 520.0" stroke="#dedeea"/><path d="M91.0 520.0L92.0 519.3" stroke="#e4deea"/><path d="M92.0 519.3L93.1 518.5" stroke="#e4d8e4"/><path d="M93.1 518.5L94.3 517.7" stroke="#e4d2de"/><path d="M94.3 517.7L95.6 516.8" stroke="#e4ccd2"/><path d="M95.6 516.8L96.8 515.8" stroke="#e4c6cc"/><path d="M96.8 515.8L98.0 514.8" stroke="#e4c0c6"/><path d="M98.0 514.8L99.2 513.8" stroke="#e4bac0"/><path d="M99.2 513.8L100.4 512.8" stroke="#e4baba"/><path d="M100.4 512.8L101.6 511.7" stroke="#e4b4ae"/><path d="M101.6 511.7L102.8 510.6" stroke="#e4aea8"/><path d="M102.8 510.6L103.9 509.4" stroke="#e4a8a2"/><path d="M103.9 509.4L104.8 508.0" stroke="#e4a29c"/><path d="M104.8 508.0L105.6 506.5" stroke="#e49c90"/><path d="M105.6 506.5L106.4 504.7" stroke="#e4968a"/><path d="M106.4 504.7L107.1 502.9" stroke="#e4907e"/><path d="M107.1 502.9L107.6 501.1" stroke="#e48478"/><path d="M107.6 501.1L108.1 499.3" stroke="#e47e72"/><path d="M108.1 499.3L108.3 497.6" stroke="#e47866"/><path d="M108.3 497.6L108.3 496.0" stroke="#e47260"/><path d="M108.3 496.0L108.2 494.5" stroke="#e46c5a"/><path d="M108.2 494.5L107.9 493.0" stroke="#e46c54"/><path d="M107.9 493.0L107.5 491.5" stroke="#e46648"/><path d="M107.5 491.5L107.1 490.2" stroke="#e46042"/><path d="M107.1 490.2L106.5 489.0L105.9 487.9L105.2 487.0L104.4 486.2L103.5 485.5L102.5 484.7L101.4 483.9L100.2 483.0L98.9 482.1L97.5 481.1L96.0 480.2L94.5 479.4L92.8 478.7L90.9 478.0L88.9 477.4L86.7 476.9L84.5 476.4L82.5 476.2L80.8 476.2L79.3 476.5L78.1 477.0L76.9 477.8L75.9 478.6L74.9 479.6L73.9 480.5" stroke="#e45a3c"/><path d="M73.9 480.5L72.9 481.5" stroke="#e46042"/><path d="M72.9 481.5L71.9 482.5" stroke="#e4664e"/><path d="M71.9 482.5L71.0 483.6" stroke="#e47260"/><path d="M71.0 483.6L70.2 484.8" stroke="#e47e6c"/><path d="M70.2 484.8L69.4 486.0" stroke="#e48a7e"/><path d="M69.4 486.0L68.8 487.3" stroke="#e4968a"/><path d="M68.8 487.3L68.2 488.6" stroke="#e49c96"/><path d="M68.2 488.6L67.8 489.9" stroke="#e4a8a8"/><path d="M67.8 489.9L67.5 491.2" stroke="#e4b4b4"/><path d="M67.5 491.2L67.3 492.7" stroke="#e4c0c0"/><path d="M67.3 492.7L67.1 494.2" stroke="#e4ccd2"/><path d="M67.1 494.2L67.0 496.0" stroke="#e4d8e4"/><path d="M67.0 496.0L67.0 498.0" stroke="#dedeea"/><path d="M67.0 498.0L67.1 500.2" stroke="#d8d8ea"/><path d="M67.1 500.2L67.2 502.6" stroke="#d2d2ea"/><path d="M67.2 502.6L67.4 505.0" stroke="#ccd2ea"/><path d="M67.4 505.0L67.6 507.4" stroke="#c6ccea"/><path d="M67.6 507.4L67.9 509.7" stroke="#c0c6ea"/><path d="M67.9 509.7L68.1 511.9" stroke="#bac6ea"/><path d="M68.1 511.9L68.4 514.1" stroke="#b4c0ea"/><path d="M68.4 514.1L68.7 516.3" stroke="#aebaea"/><path d="M68.7 516.3L69.0 518.5" stroke="#a8baea"/><path d="M69.0 518.5L69.5 520.5" stroke="#a2b4f0"/><path d="M69.5 520.5L70.0 522.5" stroke="#9cb4f0"/><path d="M70.0 522.5L70.7 524.4" stroke="#9caef0"/><path d="M70.7 524.4L71.6 526.2" stroke="#96a8f0"/><path d="M71.6 526.2L72.6 528.0" stroke="#90a8f0"/><path d="M72.6 528.0L73.5 529.6" stroke="#8aa2f0"/><path d="M73.5 529.6L74.4 531.2" stroke="#84a2f0"/><path d="M74.4 531.2L75.0 532.5" stroke="#849cf0"/><path d="M75.0 532.5L75.5 533.6L75.8 534.5" stroke="#7e9cf0"/><path d="M75.8 534.5L76.1 535.2L76.2 535.9L76.3 536.7" stroke="#7896f0"/><path d="M76.3 536.7L76.2 537.5L76.1 538.5" stroke="#7296f0"/><path d="M76.1 538.5L75.7 539.6L75.2 540.8" stroke="#6c90f0"/><path d="M75.2 540.8L74.7 541.9" stroke="#6690f0"/><path d="M74.7 541.9L74.2 542.9" stroke="#668af0"/><path d="M74.2 542.9L73.8 543.8L73.2 544.4" stroke="#608af0"/><path d="M73.2 544.4L72.5 544.8" stroke="#6084f0"/><path d="M72.5 544.8L71.8 545.2L71.2 545.5L70.9 545.7L71.0 546.0" stroke="#5a84f0"/><path d="M71.0 546.0L71.6 546.3" stroke="#5484f0"/><path d="M71.6 546.3L72.6 546.6" stroke="#547ef0"/><path d="M72.6 546.6L73.9 546.9L75.3 547.1" stroke="#4e7ef0"/><path d="M75.3 547.1L76.7 547.1L78.0 547.0" stroke="#4878f0"/><path d="M78.0 547.0L79.4 546.5" stroke="#4272f0"/><path d="M79.4 546.5L81.0 545.8" stroke="#3c72f0"/><path d="M81.0 545.8L82.6 544.9" stroke="#3c6cf0"/><path d="M82.6 544.9L84.0 544.0" stroke="#366cf0"/><path d="M84.0 544.0L85.1 543.3" stroke="#306cf0"/><path d="M85.1 543.3L85.6 543.0L85.4 543.1" stroke="#3066f0"/><path d="M85.4 543.1L84.5 543.6L83.3 544.2" stroke="#2a66f0"/><path d="M83.3 544.2L81.9 545.0L80.8 545.6" stroke="#2460f0"/><path d="M80.8 545.6L80.0 546.0" stroke="#1e5af0"/></g><path d="M80.0 546.0L79.5 545.4L78.8 544.5L77.9 543.5L77.1 542.3L76.5 541.2L76.2 540.0L76.4 538.9L76.8 537.7L77.4 536.5L78.2 535.2L79.1 533.9L80.0 532.5L81.1 530.9L82.4 529.1L83.8 527.2L85.2 525.4L86.4 523.8L87.5 522.5L88.3 521.7L88.8 521.2L89.3 520.9L89.7 520.8L90.3 520.5L91.0 520.0L92.0 519.3L93.1 518.5L94.3 517.7L95.6 516.8L96.8 515.8L98.0 514.8L99.2 513.8L100.4 512.8L101.6 511.7L102.8 510.6L103.9 509.4L104.8 508.0L105.6 506.5L106.4 504.7L107.1 502.9L107.6 501.1L108.1 499.3L108.3 497.6L108.3 496.0L108.2 494.5L107.9 493.0L107.5 491.5L107.1 490.2L106.5 489.0L105.9 487.9L105.2 487.0L104.4 486.2L103.5 485.5L102.5 484.7L101.4 483.9L100.2 483.0L98.9 482.1L97.5 481.1L96.0 480.2L94.5 479.4L92.8 478.7L90.9 478.0L88.9 477.4L86.7 476.9L84.5 476.4L82.5 476.2L80.8 476.2L79.3 476.5L78.1 477.0L76.9 477.8L75.9 478.6L74.9 479.6L73.9 480.5L72.9 481.5L71.9 482.5L71.0 483.6L70.2 484.8L69.4 486.0L68.8 487.3L68.2 488.6L67.8 489.9L67.5 491.2L67.3 492.7L67.1 494.2L67.0 496.0L67.0 498.0L67.1 500.2L67.2 502.6L67.4 505.0L67.6 507.4L67.9 509.7L68.1 511.9L68.4 514.1L68.7 516.3L69.0 518.5L69.5 520.5L70.0 522.5L70.7 524.4L71.6 526.2L72.6 528.0L73.5 529.6L74.4 531.2L75.0 532.5L75.5 533.6L75.8 534.5L76.1 535.2L76.2 535.9L76.3 536.7L76.2 537.5L76.1 538.5L75.7 539.6L75.2 540.8L74.7 541.9L74.2 542.9L73.8 543.8L73.2 544.4L72.5 544.8L71.8 545.2L71.2 545.5L70.9 545.7L71.0 546.0L71.6 546.3L72.6 546.6L73.9 546.9L75.3 547.1L76.7 547.1L78.0 547.0L79.4 546.5L81.0 545.8L82.6 544.9L84.0 544.0L85.1 543.3L85.6 543.0L85.4 543.1L84.5 543.6L83.3 544.2L81.9 545.0L80.8 545.6L80.0 546.0" fill="none" stroke="#111" stroke-width="0.99"/><g fill="none" stroke-width="2.5" stroke-linecap="round" stroke-linejoin="round"><path d="M72.0 545.0L71.8 544.3" stroke="#1e60f0"/><path d="M71.8 544.3L71.5 543.4" stroke="#2460f0"/><path d="M71.5 543.4L71.1 542.3" stroke="#2a66f0"/><path d="M71.1 542.3L70.8 541.1" stroke="#3066f0"/><path d="M70.8 541.1L70.6 539.9" stroke="#366cf0"/><path d="M70.6 539.9L70.6 538.8" stroke="#3c72f0"/><path d="M70.6 538.8L70.8 537.7" stroke="#4278f0"/><path d="M70.8 537.7L71.2 536.8" stroke="#4878f0"/><path d="M71.2 536.8L71.7 535.8" stroke="#4e7ef0"/><path d="M71.7 535.8L72.3 534.8" stroke="#5484f0"/><path d="M72.3 534.8L73.0 533.7" stroke="#6084f0"/><path d="M73.0 533.7L73.8 532.5" stroke="#668af0"/><path d="M73.8 532.5L74.6 531.2" stroke="#6c90f0"/><path d="M74.6 531.2L75.5 529.7" stroke="#7896f0"/><path d="M75.5 529.7L76.5 528.1" stroke="#7e9cf0"/><path d="M76.5 528.1L77.6 526.5" stroke="#8aa2f0"/><path d="M77.6 526.5L78.7 525.1" stroke="#96aef0"/><path d="M78.7 525.1L80.0 523.8" stroke="#a2b4f0"/><path d="M80.0 523.8L81.4 522.6" stroke="#a8baf0"/><path d="M81.4 522.6L83.0 521.6" stroke="#b4c0ea"/><path d="M83.0 521.6L84.7 520.7" stroke="#c0c6ea"/><path d="M84.7 520.7L86.3 519.9" stroke="#c6ccea"/><path d="M86.3 519.9L87.9 519.0" stroke="#d2d2ea"/><path d="M87.9 519.0L89.4 518.0" stroke="#ded8ea"/><path d="M89.4 518.0L90.7 517.0" stroke="#e4d8e4"/><path d="M90.7 517.0L91.9 515.9" stroke="#e4d2de"/><path d="M91.9 515.9L93.0 514.9" stroke="#e4ccd2"/><path d="M93.0 514.9L94.0 513.8" stroke="#e4c6cc"/><path d="M94.0 513.8L95.1 512.6" stroke="#e4c0c6"/><path d="M95.1 512.6L96.2 511.4" stroke="#e4baba"/><path d="M96.2 511.4L97.4 510.1" stroke="#e4b4ae"/><path d="M97.4 510.1L98.6 508.7" stroke="#e4a8a8"/><path d="M98.6 508.7L99.9 507.3" stroke="#e4a29c"/><path d="M99.9 507.3L101.1 505.9" stroke="#e49c90"/><path d="M101.1 505.9L102.2 504.4" stroke="#e49084"/><path d="M102.2 504.4L103.1 502.8" stroke="#e48a7e"/><path d="M103.1 502.8L103.9 501.1" stroke="#e48472"/><path d="M103.9 501.1L104.7 499.4" stroke="#e47866"/><path d="M104.7 499.4L105.4 497.5" stroke="#e4725a"/><path d="M105.4 497.5L105.9 495.7" stroke="#e46c54"/><path d="M105.9 495.7L106.3 494.0" stroke="#e46048"/><path d="M106.3 494.0L106.5 492.5L106.5 491.1L106.3 489.9L105.9 488.8L105.4 487.7L104.8 486.7L104.0 485.6L103.0 484.5L101.9 483.5L100.6 482.5L99.2 481.5L97.7 480.5L96.2 479.6L94.6 478.7L93.0 477.7L91.3 476.8L89.5 475.9L87.7 475.1L86.0 474.5L84.3 473.9L82.5 473.4L80.7 473.0L78.9 472.7L77.2 472.6L75.6 472.7L74.0 473.0L72.5 473.5L71.0 474.2L69.5 475.0L68.2 476.0L67.0 477.0" stroke="#e45a3c"/><path d="M67.0 477.0L65.9 478.2" stroke="#e46042"/><path d="M65.9 478.2L64.9 479.6" stroke="#e46c54"/><path d="M64.9 479.6L64.0 481.2" stroke="#e47866"/><path d="M64.0 481.2L63.2 482.7" stroke="#e48a78"/><path d="M63.2 482.7L62.5 484.2" stroke="#e4968a"/><path d="M62.5 484.2L61.9 485.6" stroke="#e4a29c"/><path d="M61.9 485.6L61.5 486.8" stroke="#e4aeae"/><path d="M61.5 486.8L61.2 487.8" stroke="#e4baba"/><path d="M61.2 487.8L61.1 488.8" stroke="#e4c0c6"/><path d="M61.1 488.8L61.0 489.8" stroke="#e4c6cc"/><path d="M61.0 489.8L61.0 490.9" stroke="#e4d2d8"/><path d="M61.0 490.9L61.0 492.0" stroke="#e4d8e4"/><path d="M61.0 492.0L61.0 493.2" stroke="#dedeea"/><path d="M61.0 493.2L61.0 494.5L61.1 495.8" stroke="#d8d8ea"/><path d="M61.1 495.8L61.2 497.1" stroke="#d2d2ea"/><path d="M61.2 497.1L61.3 498.5" stroke="#ccd2ea"/><path d="M61.3 498.5L61.5 500.0L61.7 501.5" stroke="#c6ccea"/><path d="M61.7 501.5L62.0 503.1" stroke="#c0c6ea"/><path d="M62.0 503.1L62.4 504.7" stroke="#bac0ea"/><path d="M62.4 504.7L62.7 506.4" stroke="#b4c0ea"/><path d="M62.7 506.4L63.2 508.0" stroke="#aebaea"/><path d="M63.2 508.0L63.6 509.7" stroke="#a8baf0"/><path d="M63.6 509.7L64.1 511.4" stroke="#a2b4f0"/><path d="M64.1 511.4L64.7 513.2" stroke="#9caef0"/><path d="M64.7 513.2L65.2 515.0" stroke="#96aef0"/><path d="M65.2 515.0L65.8 516.8" stroke="#90a8f0"/><path d="M65.8 516.8L66.4 518.5" stroke="#8aa2f0"/><path d="M66.4 518.5L67.0 520.0" stroke="#849cf0"/><path d="M67.0 520.0L67.5 521.4" stroke="#7e9cf0"/><path d="M67.5 521.4L68.0 522.6" stroke="#7896f0"/><path d="M68.0 522.6L68.4 523.8" stroke="#7296f0"/><path d="M68.4 523.8L68.9 524.9" stroke="#7290f0"/><path d="M68.9 524.9L69.4 525.9" stroke="#6c90f0"/><path d="M69.4 525.9L70.0 527.0" stroke="#6690f0"/><path d="M70.0 527.0L70.8 528.1" stroke="#668af0"/><path d="M70.8 528.1L71.7 529.1" stroke="#608af0"/><path d="M71.7 529.1L72.6 530.1" stroke="#5a84f0"/><path d="M72.6 530.1L73.6 531.1" stroke="#5484f0"/><path d="M73.6 531.1L74.4 532.1" stroke="#547ef0"/><path d="M74.4 532.1L75.0 533.0" stroke="#4e7ef0"/><path d="M75.0 533.0L75.4 533.9L75.8 534.7" stroke="#4878f0"/><path d="M75.8 534.7L76.0 535.5" stroke="#4278f0"/><path d="M76.0 535.5L76.1 536.3" stroke="#4272f0"/><path d="M76.1 536.3L76.1 537.1L76.0 538.0" stroke="#3c72f0"/><path d="M76.0 538.0L75.7 539.0L75.2 540.1" stroke="#366cf0"/><path d="M75.2 540.1L74.6 541.2" stroke="#3066f0"/><path d="M74.6 541.2L74.0 542.3" stroke="#2a66f0"/><path d="M74.0 542.3L73.4 543.3" stroke="#2a60f0"/><path d="M73.4 543.3L73.0 544.0L72.7 544.5" stroke="#2460f0"/><path d="M72.7 544.5L72.5 544.7L72.3 544.9" stroke="#1e60f0"/><path d="M72.3 544.9L72.2 544.9L72.1 544.9L72.0 545.0" stroke="#1e5af0"/></g><path d="M72.0 545.0L71.8 544.3L71.5 543.4L71.1 542.3L70.8 541.1L70.6 539.9L70.6 538.8L70.8 537.7L71.2 536.8L71.7 535.8L72.3 534.8L73.0 533.7L73.8 532.5L74.6 531.2L75.5 529.7L76.5 528.1L77.6 526.5L78.7 525.1L80.0 523.8L81.4 522.6L83.0 521.6L84.7 520.7L86.3 519.9L87.9 519.0L89.4 518.0L90.7 517.0L91.9 515.9L93.0 514.9L94.0 513.8L95.1 512.6L96.2 511.4L97.4 510.1L98.6 508.7L99.9 507.3L101.1 505.9L102.2 504.4L103.1 502.8L103.9 501.1L104.7 499.4L105.4 497.5L105.9 495.7L106.3 494.0L106.5 492.5L106.5 491.1L106.3 489.9L105.9 488.8L105.4 487.7L104.8 486.7L104.0 485.6L103.0 484.5L101.9 483.5L100.6 482.5L99.2 481.5L97.7 480.5L96.2 479.6L94.6 478.7L93.0 477.7L91.3 476.8L89.5 475.9L87.7 475.1L86.0 474.5L84.3 473.9L82.5 473.4L80.7 473.0L78.9 472.7L77.2 472.6L75.6 472.7L74.0 473.0L72.5 473.5L71.0 474.2L69.5 475.0L68.2 476.0L67.0 477.0L65.9 478.2L64.9 479.6L64.0 481.2L63.2 482.7L62.5 484.2L61.9 485.6L61.5 486.8L61.2 487.8L61.1 488.8L61.0 489.8L61.0 490.9L61.0 492.0L61.0 493.2L61.0 494.5L61.1 495.8L61.2 497.1L61.3 498.5L61.5 500.0L61.7 501.5L62.0 503.1L62.4 504.7L62.7 506.4L63.2 508.0L63.6 509.7L64.1 511.4L64.7 513.2L65.2 515.0L65.8 516.8L66.4 518.5L67.0 520.0L67.5 521.4L68.0 522.6L68.4 523.8L68.9 524.9L69.4 525.9L70.0 527.0L70.8 528.1L71.7 529.1L72.6 530.1L73.6 531.1L74.4 532.1L75.0 533.0L75.4 533.9L75.8 534.7L76.0 535.5L76.1 536.3L76.1 537.1L76.0 538.0L75.7 539.0L75.2 540.1L74.6 541.2L74.0 542.3L73.4 543.3L73.0 544.0L72.7 544.5L72.5 544.7L72.3 544.9L72.2 544.9L72.1 544.9L72.0 545.0" fill="none" stroke="#111" stroke-width="1.10" stroke-dasharray="4.2,1.6"/>
<rect x="30.5" y="445.5" width="91" height="108" fill="none" stroke="#8a8a8a" stroke-width="0.9"/>
<line x1="30.5" y1="546.50" x2="32" y2="546.50" stroke="#8a8a8a" stroke-width="0.8"/>
<line x1="120" y1="546.50" x2="121.5" y2="546.50" stroke="#8a8a8a" stroke-width="0.8"/>
<text x="26.8" y="550.40" font-size="9.6" text-anchor="end" fill="#333">5</text>
<line x1="30.5" y1="524.00" x2="32" y2="524.00" stroke="#8a8a8a" stroke-width="0.8"/>
<line x1="120" y1="524.00" x2="121.5" y2="524.00" stroke="#8a8a8a" stroke-width="0.8"/>
<text x="26.8" y="527.90" font-size="9.6" text-anchor="end" fill="#333">10</text>
<line x1="30.5" y1="501.50" x2="32" y2="501.50" stroke="#8a8a8a" stroke-width="0.8"/>
<line x1="120" y1="501.50" x2="121.5" y2="501.50" stroke="#8a8a8a" stroke-width="0.8"/>
<text x="26.8" y="505.40" font-size="9.6" text-anchor="end" fill="#333">15</text>
<line x1="30.5" y1="479.00" x2="32" y2="479.00" stroke="#8a8a8a" stroke-width="0.8"/>
<line x1="120" y1="479.00" x2="121.5" y2="479.00" stroke="#8a8a8a" stroke-width="0.8"/>
<text x="26.8" y="482.90" font-size="9.6" text-anchor="end" fill="#333">20</text>
<line x1="30.5" y1="456.50" x2="32" y2="456.50" stroke="#8a8a8a" stroke-width="0.8"/>
<line x1="120" y1="456.50" x2="121.5" y2="456.50" stroke="#8a8a8a" stroke-width="0.8"/>
<text x="26.8" y="460.40" font-size="9.6" text-anchor="end" fill="#333">25</text>
<line x1="50.30" y1="552" x2="50.30" y2="553.5" stroke="#8a8a8a" stroke-width="0.8"/>
<line x1="50.30" y1="445.5" x2="50.30" y2="447" stroke="#8a8a8a" stroke-width="0.8"/>
<text x="50.30" y="566.70" font-size="9.6" text-anchor="middle" fill="#333">200</text>
<line x1="78.80" y1="552" x2="78.80" y2="553.5" stroke="#8a8a8a" stroke-width="0.8"/>
<line x1="78.80" y1="445.5" x2="78.80" y2="447" stroke="#8a8a8a" stroke-width="0.8"/>
<text x="78.80" y="566.70" font-size="9.6" text-anchor="middle" fill="#333">300</text>
<line x1="107.30" y1="552" x2="107.30" y2="553.5" stroke="#8a8a8a" stroke-width="0.8"/>
<line x1="107.30" y1="445.5" x2="107.30" y2="447" stroke="#8a8a8a" stroke-width="0.8"/>
<text x="107.30" y="566.70" font-size="9.6" text-anchor="middle" fill="#333">400</text>
<text x="34" y="454" font-size="9" font-weight="bold" fill="#000">j)</text>
<text x="116.7" y="457.2" font-size="11.2" font-weight="bold" text-anchor="end" fill="#000">III to IV</text>
<g fill="none" stroke-width="2.5" stroke-linecap="round" stroke-linejoin="round"><path d="M168.0 545.0L168.5 544.5" stroke="#1e60f0"/><path d="M168.5 544.5L169.2 543.8" stroke="#2460f0"/><path d="M169.2 543.8L170.1 542.9" stroke="#2a66f0"/><path d="M170.1 542.9L171.0 541.9" stroke="#366cf0"/><path d="M171.0 541.9L171.8 541.0" stroke="#3c72f0"/><path d="M171.8 541.0L172.5 540.0" stroke="#4278f0"/><path d="M172.5 540.0L173.0 539.1" stroke="#4e78f0"/><path d="M173.0 539.1L173.3 538.1" stroke="#547ef0"/><path d="M173.3 538.1L173.6 537.1" stroke="#5a84f0"/><path d="M173.6 537.1L174.0 536.1" stroke="#608af0"/><path d="M174.0 536.1L174.4 535.0" stroke="#668af0"/><path d="M174.4 535.0L175.0 533.8" stroke="#6c90f0"/><path d="M175.0 533.8L175.8 532.4" stroke="#7896f0"/><path d="M175.8 532.4L176.9 530.9" stroke="#849cf0"/><path d="M176.9 530.9L178.0 529.3" stroke="#90a8f0"/><path d="M178.0 529.3L179.1 527.7" stroke="#9caef0"/><path d="M179.1 527.7L180.2 526.3" stroke="#a8b4f0"/><path d="M180.2 526.3L181.2 525.0" stroke="#aec0ea"/><path d="M181.2 525.0L182.1 523.9" stroke="#bac6ea"/><path d="M182.1 523.9L183.0 523.1" stroke="#c0c6ea"/><path d="M183.0 523.1L183.8 522.3" stroke="#c6ccea"/><path d="M183.8 522.3L184.5 521.5" stroke="#d2d2ea"/><path d="M184.5 521.5L185.4 520.8" stroke="#d8d8ea"/><path d="M185.4 520.8L186.2 520.0" stroke="#dedeea"/><path d="M186.2 520.0L187.2 519.2" stroke="#e4deea"/><path d="M187.2 519.2L188.2 518.4" stroke="#e4d8e4"/><path d="M188.2 518.4L189.2 517.7" stroke="#e4d2de"/><path d="M189.2 517.7L190.3 516.9" stroke="#e4ccd2"/><path d="M190.3 516.9L191.4 516.0" stroke="#e4c6cc"/><path d="M191.4 516.0L192.5 515.0" stroke="#e4c0c6"/><path d="M192.5 515.0L193.7 513.9" stroke="#e4bac0"/><path d="M193.7 513.9L195.0 512.7" stroke="#e4b4b4"/><path d="M195.0 512.7L196.4 511.5" stroke="#e4aeae"/><path d="M196.4 511.5L197.7 510.2" stroke="#e4a8a2"/><path d="M197.7 510.2L198.9 508.9" stroke="#e4a29c"/><path d="M198.9 508.9L200.0 507.5" stroke="#e49c90"/><path d="M200.0 507.5L201.0 506.1" stroke="#e4968a"/><path d="M201.0 506.1L201.9 504.6" stroke="#e49084"/><path d="M201.9 504.6L202.7 503.1" stroke="#e48a78"/><path d="M202.7 503.1L203.4 501.6" stroke="#e47e72"/><path d="M203.4 501.6L204.0 500.1" stroke="#e47866"/><path d="M204.0 500.1L204.4 498.8" stroke="#e47860"/><path d="M204.4 498.8L204.6 497.5" stroke="#e4725a"/><path d="M204.6 497.5L204.7 496.3" stroke="#e46c54"/><path d="M204.7 496.3L204.7 495.2" stroke="#e4664e"/><path d="M204.7 495.2L204.5 494.1" stroke="#e46048"/><path d="M204.5 494.1L204.2 493.0" stroke="#e46042"/><path d="M204.2 493.0L203.8 491.9L203.2 490.7L202.6 489.6L201.8 488.4L200.9 487.2L199.9 486.1L198.8 485.0L197.4 483.9L195.8 482.9L194.1 481.9L192.3 480.9L190.5 480.1L188.8 479.4L186.9 478.8L185.1 478.3L183.1 477.9L181.3 477.6L179.5 477.5L178.0 477.6L176.7 477.9L175.5 478.5L174.5 479.2L173.6 480.0L172.7 480.9L171.8 481.8L170.8 482.7L169.9 483.7L169.1 484.7L168.2 485.8L167.5 486.9L166.8 488.0" stroke="#e45a3c"/><path d="M166.8 488.0L166.1 489.0" stroke="#e45a42"/><path d="M166.1 489.0L165.5 490.0" stroke="#e46648"/><path d="M165.5 490.0L164.9 491.0" stroke="#e46c54"/><path d="M164.9 491.0L164.4 492.1" stroke="#e4725a"/><path d="M164.4 492.1L164.0 493.1" stroke="#e47866"/><path d="M164.0 493.1L163.6 494.2" stroke="#e48472"/><path d="M163.6 494.2L163.3 495.4" stroke="#e48a78"/><path d="M163.3 495.4L163.0 496.7" stroke="#e49084"/><path d="M163.0 496.7L162.8 498.0" stroke="#e49c90"/><path d="M162.8 498.0L162.6 499.3" stroke="#e4a29c"/><path d="M162.6 499.3L162.5 500.6" stroke="#e4a8a8"/><path d="M162.5 500.6L162.4 501.8" stroke="#e4b4ae"/><path d="M162.4 501.8L162.3 502.8" stroke="#e4baba"/><path d="M162.3 502.8L162.3 503.7" stroke="#e4c0c0"/><path d="M162.3 503.7L162.2 504.6" stroke="#e4c6cc"/><path d="M162.2 504.6L162.3 505.5" stroke="#e4ccd2"/><path d="M162.3 505.5L162.3 506.6" stroke="#e4d2d8"/><path d="M162.3 506.6L162.4 508.0" stroke="#e4d8e4"/><path d="M162.4 508.0L162.5 509.7" stroke="#dedeea"/><path d="M162.5 509.7L162.6 511.7" stroke="#d2d8ea"/><path d="M162.6 511.7L162.8 513.9" stroke="#ccccea"/><path d="M162.8 513.9L163.0 516.1" stroke="#c0c6ea"/><path d="M163.0 516.1L163.3 518.2" stroke="#b4c0ea"/><path d="M163.3 518.2L163.8 520.0" stroke="#aebaea"/><path d="M163.8 520.0L164.4 521.5" stroke="#a2b4f0"/><path d="M164.4 521.5L165.2 522.9" stroke="#9caef0"/><path d="M165.2 522.9L166.1 524.2" stroke="#96aef0"/><path d="M166.1 524.2L167.1 525.3" stroke="#90a8f0"/><path d="M167.1 525.3L168.0 526.4" stroke="#8aa2f0"/><path d="M168.0 526.4L168.8 527.5" stroke="#7e9cf0"/><path d="M168.8 527.5L169.4 528.5" stroke="#789cf0"/><path d="M169.4 528.5L170.0 529.5" stroke="#7296f0"/><path d="M170.0 529.5L170.6 530.4" stroke="#7290f0"/><path d="M170.6 530.4L171.1 531.3" stroke="#6c90f0"/><path d="M171.1 531.3L171.6 532.1" stroke="#668af0"/><path d="M171.6 532.1L172.0 533.0" stroke="#608af0"/><path d="M172.0 533.0L172.4 533.9" stroke="#6084f0"/><path d="M172.4 533.9L172.7 534.7" stroke="#5a84f0"/><path d="M172.7 534.7L173.0 535.5" stroke="#547ef0"/><path d="M173.0 535.5L173.1 536.3L173.1 537.1" stroke="#4e7ef0"/><path d="M173.1 537.1L173.0 538.0" stroke="#4878f0"/><path d="M173.0 538.0L172.6 539.0" stroke="#4278f0"/><path d="M172.6 539.0L171.9 540.1" stroke="#3c72f0"/><path d="M171.9 540.1L171.1 541.2" stroke="#366cf0"/><path d="M171.1 541.2L170.3 542.3" stroke="#306cf0"/><path d="M170.3 542.3L169.6 543.3" stroke="#2a66f0"/><path d="M169.6 543.3L169.0 544.0L168.6 544.5L168.4 544.7" stroke="#2460f0"/><path d="M168.4 544.7L168.2 544.9" stroke="#1e60f0"/><path d="M168.2 544.9L168.1 544.9L168.1 544.9L168.0 545.0" stroke="#1e5af0"/></g><path d="M168.0 545.0L168.5 544.5L169.2 543.8L170.1 542.9L171.0 541.9L171.8 541.0L172.5 540.0L173.0 539.1L173.3 538.1L173.6 537.1L174.0 536.1L174.4 535.0L175.0 533.8L175.8 532.4L176.9 530.9L178.0 529.3L179.1 527.7L180.2 526.3L181.2 525.0L182.1 523.9L183.0 523.1L183.8 522.3L184.5 521.5L185.4 520.8L186.2 520.0L187.2 519.2L188.2 518.4L189.2 517.7L190.3 516.9L191.4 516.0L192.5 515.0L193.7 513.9L195.0 512.7L196.4 511.5L197.7 510.2L198.9 508.9L200.0 507.5L201.0 506.1L201.9 504.6L202.7 503.1L203.4 501.6L204.0 500.1L204.4 498.8L204.6 497.5L204.7 496.3L204.7 495.2L204.5 494.1L204.2 493.0L203.8 491.9L203.2 490.7L202.6 489.6L201.8 488.4L200.9 487.2L199.9 486.1L198.8 485.0L197.4 483.9L195.8 482.9L194.1 481.9L192.3 480.9L190.5 480.1L188.8 479.4L186.9 478.8L185.1 478.3L183.1 477.9L181.3 477.6L179.5 477.5L178.0 477.6L176.7 477.9L175.5 478.5L174.5 479.2L173.6 480.0L172.7 480.9L171.8 481.8L170.8 482.7L169.9 483.7L169.1 484.7L168.2 485.8L167.5 486.9L166.8 488.0L166.1 489.0L165.5 490.0L164.9 491.0L164.4 492.1L164.0 493.1L163.6 494.2L163.3 495.4L163.0 496.7L162.8 498.0L162.6 499.3L162.5 500.6L162.4 501.8L162.3 502.8L162.3 503.7L162.2 504.6L162.3 505.5L162.3 506.6L162.4 508.0L162.5 509.7L162.6 511.7L162.8 513.9L163.0 516.1L163.3 518.2L163.8 520.0L164.4 521.5L165.2 522.9L166.1 524.2L167.1 525.3L168.0 526.4L168.8 527.5L169.4 528.5L170.0 529.5L170.6 530.4L171.1 531.3L171.6 532.1L172.0 533.0L172.4 533.9L172.7 534.7L173.0 535.5L173.1 536.3L173.1 537.1L173.0 538.0L172.6 539.0L171.9 540.1L171.1 541.2L170.3 542.3L169.6 543.3L169.0 544.0L168.6 544.5L168.4 544.7L168.2 544.9L168.1 544.9L168.1 544.9L168.0 545.0" fill="none" stroke="#111" stroke-width="0.99"/><g fill="none" stroke-width="2.5" stroke-linecap="round" stroke-linejoin="round"><path d="M170.6 546.5L170.3 546.2" stroke="#1e5af0"/><path d="M170.3 546.2L169.9 545.9L169.5 545.5" stroke="#2460f0"/><path d="M169.5 545.5L169.1 545.0" stroke="#2a66f0"/><path d="M169.1 545.0L168.8 544.4" stroke="#3066f0"/><path d="M168.8 544.4L168.8 543.8" stroke="#306cf0"/><path d="M168.8 543.8L169.0 542.9" stroke="#366cf0"/><path d="M169.0 542.9L169.5 541.9" stroke="#3c72f0"/><path d="M169.5 541.9L170.1 540.8" stroke="#4278f0"/><path d="M170.1 540.8L170.7 539.7" stroke="#4e7ef0"/><path d="M170.7 539.7L171.4 538.6" stroke="#547ef0"/><path d="M171.4 538.6L171.9 537.5" stroke="#5a84f0"/><path d="M171.9 537.5L172.3 536.5" stroke="#668af0"/><path d="M172.3 536.5L172.7 535.6" stroke="#6c90f0"/><path d="M172.7 535.6L173.0 534.8" stroke="#7290f0"/><path d="M173.0 534.8L173.4 533.8" stroke="#7896f0"/><path d="M173.4 533.8L173.8 532.7" stroke="#7e9cf0"/><path d="M173.8 532.7L174.4 531.2" stroke="#84a2f0"/><path d="M174.4 531.2L175.1 529.4" stroke="#90a8f0"/><path d="M175.1 529.4L175.9 527.3" stroke="#a2b4f0"/><path d="M175.9 527.3L176.7 524.9" stroke="#aebaea"/><path d="M176.7 524.9L177.6 522.6" stroke="#c0c6ea"/><path d="M177.6 522.6L178.5 520.5" stroke="#ccd2ea"/><path d="M178.5 520.5L179.4 518.8" stroke="#d8d8ea"/><path d="M179.4 518.8L180.3 517.5" stroke="#e4deea"/><path d="M180.3 517.5L181.2 516.6" stroke="#e4d8de"/><path d="M181.2 516.6L182.1 515.9" stroke="#e4d2d8"/><path d="M182.1 515.9L183.1 515.2" stroke="#e4ccd2"/><path d="M183.1 515.2L184.0 514.6" stroke="#e4c6cc"/><path d="M184.0 514.6L185.0 513.8" stroke="#e4c6c6"/><path d="M185.0 513.8L186.0 512.8" stroke="#e4c0c0"/><path d="M186.0 512.8L187.1 511.8" stroke="#e4baba"/><path d="M187.1 511.8L188.1 510.8" stroke="#e4b4b4"/><path d="M188.1 510.8L189.2 509.7" stroke="#e4aeae"/><path d="M189.2 509.7L190.2 508.6" stroke="#e4a8a2"/><path d="M190.2 508.6L191.2 507.5" stroke="#e4a29c"/><path d="M191.2 507.5L192.3 506.3" stroke="#e49c96"/><path d="M192.3 506.3L193.3 505.1" stroke="#e4968a"/><path d="M193.3 505.1L194.3 503.9" stroke="#e49084"/><path d="M194.3 503.9L195.2 502.6" stroke="#e48a7e"/><path d="M195.2 502.6L196.1 501.3" stroke="#e48472"/><path d="M196.1 501.3L196.9 500.0" stroke="#e47e6c"/><path d="M196.9 500.0L197.6 498.6" stroke="#e47866"/><path d="M197.6 498.6L198.2 497.1" stroke="#e4725a"/><path d="M198.2 497.1L198.8 495.6" stroke="#e46c54"/><path d="M198.8 495.6L199.3 494.1" stroke="#e4664e"/><path d="M199.3 494.1L199.7 492.7" stroke="#e46048"/><path d="M199.7 492.7L200.0 491.2L200.2 489.9L200.4 488.7L200.5 487.4L200.5 486.2L200.3 485.0L200.0 483.8L199.5 482.5L198.8 481.2L197.9 479.9L197.0 478.6L196.0 477.4L195.0 476.2L194.0 475.2L193.0 474.2L192.0 473.3L190.8 472.3L189.5 471.4L188.0 470.5L186.2 469.5L184.1 468.5L181.9 467.5L179.6 466.5L177.4 465.6L175.5 464.9L173.8 464.3L172.2 463.9L170.7 463.5L169.3 463.2L168.0 463.1L166.8 463.0L165.5 463.1L164.4 463.2L163.4 463.5L162.4 463.9L161.4 464.3L160.5 464.9L159.6 465.6L158.7 466.4L157.8 467.3L157.0 468.3L156.2 469.3L155.5 470.5L154.8 471.8L154.2 473.2L153.6 474.8L153.1 476.3L152.7 477.8L152.4 479.2" stroke="#e45a3c"/><path d="M152.4 479.2L152.2 480.6" stroke="#e46648"/><path d="M152.2 480.6L152.1 481.9" stroke="#e47e6c"/><path d="M152.1 481.9L152.1 483.2" stroke="#e4908a"/><path d="M152.1 483.2L152.1 484.4" stroke="#e4a8a2"/><path d="M152.1 484.4L152.2 485.6" stroke="#e4c0c0"/><path d="M152.2 485.6L152.4 486.8" stroke="#e4d2de"/><path d="M152.4 486.8L152.7 487.8L153.0 488.8" stroke="#dedeea"/><path d="M153.0 488.8L153.4 489.8L153.8 490.8L154.3 491.8" stroke="#d8d8ea"/><path d="M154.3 491.8L154.9 493.0" stroke="#d2d2ea"/><path d="M154.9 493.0L155.5 494.3L156.3 495.8" stroke="#ccd2ea"/><path d="M156.3 495.8L157.1 497.4" stroke="#c6ccea"/><path d="M157.1 497.4L157.9 498.9" stroke="#c0ccea"/><path d="M157.9 498.9L158.6 500.4" stroke="#c0c6ea"/><path d="M158.6 500.4L159.2 501.8" stroke="#bac6ea"/><path d="M159.2 501.8L159.8 502.9" stroke="#bac0ea"/><path d="M159.8 502.9L160.2 504.0L160.6 504.9" stroke="#b4c0ea"/><path d="M160.6 504.9L161.0 505.9" stroke="#aec0ea"/><path d="M161.0 505.9L161.4 506.9" stroke="#aebaea"/><path d="M161.4 506.9L161.8 508.0" stroke="#a8baea"/><path d="M161.8 508.0L162.1 509.2" stroke="#a8baf0"/><path d="M162.1 509.2L162.4 510.4L162.7 511.7" stroke="#a2b4f0"/><path d="M162.7 511.7L163.1 513.0" stroke="#9cb4f0"/><path d="M163.1 513.0L163.5 514.4" stroke="#9caef0"/><path d="M163.5 514.4L164.0 516.0" stroke="#96aef0"/><path d="M164.0 516.0L164.7 517.8L165.4 519.8" stroke="#90a8f0"/><path d="M165.4 519.8L166.2 521.9" stroke="#8aa2f0"/><path d="M166.2 521.9L167.1 524.0" stroke="#84a2f0"/><path d="M167.1 524.0L168.0 525.9" stroke="#7e9cf0"/><path d="M168.0 525.9L168.8 527.5L169.5 528.7" stroke="#7896f0"/><path d="M169.5 528.7L170.3 529.7" stroke="#7296f0"/><path d="M170.3 529.7L171.1 530.5L171.8 531.2L172.5 531.8" stroke="#6c90f0"/><path d="M172.5 531.8L173.1 532.5" stroke="#6690f0"/><path d="M173.1 532.5L173.5 533.2L173.7 533.9" stroke="#668af0"/><path d="M173.7 533.9L173.8 534.5L173.9 535.1L174.3 535.7" stroke="#608af0"/><path d="M174.3 535.7L175.0 536.2" stroke="#6084f0"/><path d="M175.0 536.2L176.2 536.8" stroke="#5a84f0"/><path d="M176.2 536.8L177.9 537.4" stroke="#5484f0"/><path d="M177.9 537.4L179.7 537.9" stroke="#547ef0"/><path d="M179.7 537.9L181.5 538.5" stroke="#4e7ef0"/><path d="M181.5 538.5L182.9 539.0L183.8 539.4L183.9 539.8" stroke="#4878f0"/><path d="M183.9 539.8L183.5 540.2" stroke="#4278f0"/><path d="M183.5 540.2L182.8 540.5L181.9 540.8" stroke="#4272f0"/><path d="M181.9 540.8L180.9 541.0L180.0 541.2" stroke="#3c72f0"/><path d="M180.0 541.2L179.1 541.4" stroke="#3c6cf0"/><path d="M179.1 541.4L178.0 541.4L176.8 541.5" stroke="#366cf0"/><path d="M176.8 541.5L175.7 541.5" stroke="#306cf0"/><path d="M175.7 541.5L174.6 541.7" stroke="#3066f0"/><path d="M174.6 541.7L173.8 542.0L173.0 542.6" stroke="#2a66f0"/><path d="M173.0 542.6L172.4 543.4" stroke="#2a60f0"/><path d="M172.4 543.4L171.8 544.3L171.3 545.2" stroke="#2460f0"/><path d="M171.3 545.2L170.9 546.0" stroke="#1e60f0"/><path d="M170.9 546.0L170.6 546.5" stroke="#1e5af0"/></g><path d="M170.6 546.5L170.3 546.2L169.9 545.9L169.5 545.5L169.1 545.0L168.8 544.4L168.8 543.8L169.0 542.9L169.5 541.9L170.1 540.8L170.7 539.7L171.4 538.6L171.9 537.5L172.3 536.5L172.7 535.6L173.0 534.8L173.4 533.8L173.8 532.7L174.4 531.2L175.1 529.4L175.9 527.3L176.7 524.9L177.6 522.6L178.5 520.5L179.4 518.8L180.3 517.5L181.2 516.6L182.1 515.9L183.1 515.2L184.0 514.6L185.0 513.8L186.0 512.8L187.1 511.8L188.1 510.8L189.2 509.7L190.2 508.6L191.2 507.5L192.3 506.3L193.3 505.1L194.3 503.9L195.2 502.6L196.1 501.3L196.9 500.0L197.6 498.6L198.2 497.1L198.8 495.6L199.3 494.1L199.7 492.7L200.0 491.2L200.2 489.9L200.4 488.7L200.5 487.4L200.5 486.2L200.3 485.0L200.0 483.8L199.5 482.5L198.8 481.2L197.9 479.9L197.0 478.6L196.0 477.4L195.0 476.2L194.0 475.2L193.0 474.2L192.0 473.3L190.8 472.3L189.5 471.4L188.0 470.5L186.2 469.5L184.1 468.5L181.9 467.5L179.6 466.5L177.4 465.6L175.5 464.9L173.8 464.3L172.2 463.9L170.7 463.5L169.3 463.2L168.0 463.1L166.8 463.0L165.5 463.1L164.4 463.2L163.4 463.5L162.4 463.9L161.4 464.3L160.5 464.9L159.6 465.6L158.7 466.4L157.8 467.3L157.0 468.3L156.2 469.3L155.5 470.5L154.8 471.8L154.2 473.2L153.6 474.8L153.1 476.3L152.7 477.8L152.4 479.2L152.2 480.6L152.1 481.9L152.1 483.2L152.1 484.4L152.2 485.6L152.4 486.8L152.7 487.8L153.0 488.8L153.4 489.8L153.8 490.8L154.3 491.8L154.9 493.0L155.5 494.3L156.3 495.8L157.1 497.4L157.9 498.9L158.6 500.4L159.2 501.8L159.8 502.9L160.2 504.0L160.6 504.9L161.0 505.9L161.4 506.9L161.8 508.0L162.1 509.2L162.4 510.4L162.7 511.7L163.1 513.0L163.5 514.4L164.0 516.0L164.7 517.8L165.4 519.8L166.2 521.9L167.1 524.0L168.0 525.9L168.8 527.5L169.5 528.7L170.3 529.7L171.1 530.5L171.8 531.2L172.5 531.8L173.1 532.5L173.5 533.2L173.7 533.9L173.8 534.5L173.9 535.1L174.3 535.7L175.0 536.2L176.2 536.8L177.9 537.4L179.7 537.9L181.5 538.5L182.9 539.0L183.8 539.4L183.9 539.8L183.5 540.2L182.8 540.5L181.9 540.8L180.9 541.0L180.0 541.2L179.1 541.4L178.0 541.4L176.8 541.5L175.7 541.5L174.6 541.7L173.8 542.0L173.0 542.6L172.4 543.4L171.8 544.3L171.3 545.2L170.9 546.0L170.6 546.5" fill="none" stroke="#111" stroke-width="1.10" stroke-dasharray="4.2,1.6"/>
<rect x="125.5" y="445.5" width="91" height="108" fill="none" stroke="#8a8a8a" stroke-width="0.9"/>
<line x1="125.5" y1="546.50" x2="127" y2="546.50" stroke="#8a8a8a" stroke-width="0.8"/>
<line x1="215" y1="546.50" x2="216.5" y2="546.50" stroke="#8a8a8a" stroke-width="0.8"/>
<line x1="125.5" y1="524.00" x2="127" y2="524.00" stroke="#8a8a8a" stroke-width="0.8"/>
<line x1="215" y1="524.00" x2="216.5" y2="524.00" stroke="#8a8a8a" stroke-width="0.8"/>
<line x1="125.5" y1="501.50" x2="127" y2="501.50" stroke="#8a8a8a" stroke-width="0.8"/>
<line x1="215" y1="501.50" x2="216.5" y2="501.50" stroke="#8a8a8a" stroke-width="0.8"/>
<line x1="125.5" y1="479.00" x2="127" y2="479.00" stroke="#8a8a8a" stroke-width="0.8"/>
<line x1="215" y1="479.00" x2="216.5" y2="479.00" stroke="#8a8a8a" stroke-width="0.8"/>
<line x1="125.5" y1="456.50" x2="127" y2="456.50" stroke="#8a8a8a" stroke-width="0.8"/>
<line x1="215" y1="456.50" x2="216.5" y2="456.50" stroke="#8a8a8a" stroke-width="0.8"/>
<line x1="145.30" y1="552" x2="145.30" y2="553.5" stroke="#8a8a8a" stroke-width="0.8"/>
<line x1="145.30" y1="445.5" x2="145.30" y2="447" stroke="#8a8a8a" stroke-width="0.8"/>
<text x="145.30" y="566.70" font-size="9.6" text-anchor="middle" fill="#333">200</text>
<line x1="173.80" y1="552" x2="173.80" y2="553.5" stroke="#8a8a8a" stroke-width="0.8"/>
<line x1="173.80" y1="445.5" x2="173.80" y2="447" stroke="#8a8a8a" stroke-width="0.8"/>
<text x="173.80" y="566.70" font-size="9.6" text-anchor="middle" fill="#333">300</text>
<line x1="202.30" y1="552" x2="202.30" y2="553.5" stroke="#8a8a8a" stroke-width="0.8"/>
<line x1="202.30" y1="445.5" x2="202.30" y2="447" stroke="#8a8a8a" stroke-width="0.8"/>
<text x="202.30" y="566.70" font-size="9.6" text-anchor="middle" fill="#333">400</text>
<text x="129" y="454" font-size="9" font-weight="bold" fill="#000">k)</text>
<text x="213.0" y="456.3" font-size="11.2" font-weight="bold" text-anchor="end" fill="#000">IV</text>
<g fill="none" stroke-width="2.5" stroke-linecap="round" stroke-linejoin="round"><path d="M265.0 547.5L264.6 547.0" stroke="#1e60f0"/><path d="M264.6 547.0L264.1 546.2" stroke="#2460f0"/><path d="M264.1 546.2L263.4 545.3" stroke="#2a66f0"/><path d="M263.4 545.3L262.9 544.4" stroke="#3066f0"/><path d="M262.9 544.4L262.5 543.4L262.5 542.5" stroke="#366cf0"/><path d="M262.5 542.5L262.9 541.7" stroke="#3c72f0"/><path d="M262.9 541.7L263.6 540.9" stroke="#4272f0"/><path d="M263.6 540.9L264.5 540.2" stroke="#4878f0"/><path d="M264.5 540.2L265.5 539.4" stroke="#4e7ef0"/><path d="M265.5 539.4L266.5 538.5" stroke="#547ef0"/><path d="M266.5 538.5L267.5 537.5" stroke="#5a84f0"/><path d="M267.5 537.5L268.5 536.4" stroke="#608af0"/><path d="M268.5 536.4L269.6 535.1" stroke="#6c90f0"/><path d="M269.6 535.1L270.7 533.8" stroke="#7296f0"/><path d="M270.7 533.8L271.8 532.5" stroke="#789cf0"/><path d="M271.8 532.5L272.8 531.2" stroke="#84a2f0"/><path d="M272.8 531.2L273.8 530.0" stroke="#8aa2f0"/><path d="M273.8 530.0L274.6 528.9" stroke="#90a8f0"/><path d="M274.6 528.9L275.3 527.8" stroke="#96aef0"/><path d="M275.3 527.8L276.0 526.8" stroke="#a2b4f0"/><path d="M276.0 526.8L276.7 525.8" stroke="#a8b4f0"/><path d="M276.7 525.8L277.4 524.8" stroke="#aebaea"/><path d="M277.4 524.8L278.2 523.8" stroke="#b4c0ea"/><path d="M278.2 523.8L279.2 522.7" stroke="#bac0ea"/><path d="M279.2 522.7L280.1 521.7" stroke="#c0c6ea"/><path d="M280.1 521.7L281.1 520.7" stroke="#c6ccea"/><path d="M281.1 520.7L282.2 519.7" stroke="#ccd2ea"/><path d="M282.2 519.7L283.3 518.6" stroke="#d2d8ea"/><path d="M283.3 518.6L284.5 517.5" stroke="#dedeea"/><path d="M284.5 517.5L285.8 516.3" stroke="#e4d8e4"/><path d="M285.8 516.3L287.3 515.1" stroke="#e4d2d8"/><path d="M287.3 515.1L288.9 513.8" stroke="#e4ccd2"/><path d="M288.9 513.8L290.4 512.5" stroke="#e4c0c6"/><path d="M290.4 512.5L291.9 511.3" stroke="#e4baba"/><path d="M291.9 511.3L293.2 510.0" stroke="#e4aeae"/><path d="M293.2 510.0L294.5 508.8" stroke="#e4a8a2"/><path d="M294.5 508.8L295.8 507.5" stroke="#e4a296"/><path d="M295.8 507.5L296.9 506.3" stroke="#e49690"/><path d="M296.9 506.3L298.0 505.1" stroke="#e49084"/><path d="M298.0 505.1L298.8 503.8" stroke="#e48a7e"/><path d="M298.8 503.8L299.5 502.5" stroke="#e48472"/><path d="M299.5 502.5L299.9 501.1" stroke="#e47e6c"/><path d="M299.9 501.1L300.2 499.7" stroke="#e47860"/><path d="M300.2 499.7L300.3 498.2" stroke="#e4725a"/><path d="M300.3 498.2L300.2 496.7" stroke="#e4664e"/><path d="M300.2 496.7L299.9 495.2" stroke="#e46048"/><path d="M299.9 495.2L299.5 493.8L298.9 492.3L298.0 490.7L297.0 489.2L295.8 487.7L294.6 486.3L293.2 485.0L291.8 483.8L290.1 482.5L288.4 481.4L286.6 480.4L284.9 479.5L283.2 478.8L281.7 478.2L280.1 477.8L278.6 477.5L277.2 477.4L275.8 477.4L274.5 477.5L273.3 477.8L272.2 478.2L271.2 478.8L270.2 479.5L269.3 480.4L268.2 481.2L267.2 482.3L266.0 483.5L264.9 484.8L263.8 486.2L262.8 487.5L262.0 488.8L261.3 489.8" stroke="#e45a3c"/><path d="M261.3 489.8L260.8 490.9" stroke="#e46048"/><path d="M260.8 490.9L260.3 491.8" stroke="#e4664e"/><path d="M260.3 491.8L260.0 492.8" stroke="#e46c54"/><path d="M260.0 492.8L259.6 493.9" stroke="#e4725a"/><path d="M259.6 493.9L259.3 495.0" stroke="#e47260"/><path d="M259.3 495.0L259.0 496.2" stroke="#e47866"/><path d="M259.0 496.2L258.7 497.3" stroke="#e47e6c"/><path d="M258.7 497.3L258.4 498.5" stroke="#e48472"/><path d="M258.4 498.5L258.2 499.8" stroke="#e48a7e"/><path d="M258.2 499.8L258.1 501.3" stroke="#e49084"/><path d="M258.1 501.3L258.0 503.0" stroke="#e49690"/><path d="M258.0 503.0L258.0 505.1" stroke="#e4a29c"/><path d="M258.0 505.1L258.0 507.5" stroke="#e4a8a8"/><path d="M258.0 507.5L258.1 510.1" stroke="#e4b4b4"/><path d="M258.1 510.1L258.2 512.8" stroke="#e4c0c6"/><path d="M258.2 512.8L258.4 515.3" stroke="#e4ccd8"/><path d="M258.4 515.3L258.8 517.5" stroke="#e4d8e4"/><path d="M258.8 517.5L259.2 519.4" stroke="#ded8ea"/><path d="M259.2 519.4L259.7 521.2" stroke="#d2d2ea"/><path d="M259.7 521.2L260.3 522.9" stroke="#c6ccea"/><path d="M260.3 522.9L261.0 524.4" stroke="#bac6ea"/><path d="M261.0 524.4L261.7 526.0" stroke="#b4c0ea"/><path d="M261.7 526.0L262.5 527.5" stroke="#a8baf0"/><path d="M262.5 527.5L263.4 529.0" stroke="#9cb4f0"/><path d="M263.4 529.0L264.4 530.6" stroke="#96a8f0"/><path d="M264.4 530.6L265.5 532.0" stroke="#8aa2f0"/><path d="M265.5 532.0L266.5 533.5" stroke="#7e9cf0"/><path d="M266.5 533.5L267.4 534.9" stroke="#7896f0"/><path d="M267.4 534.9L268.1 536.2" stroke="#6c90f0"/><path d="M268.1 536.2L268.5 537.6" stroke="#668af0"/><path d="M268.5 537.6L268.8 539.0" stroke="#5a84f0"/><path d="M268.8 539.0L269.0 540.3" stroke="#547ef0"/><path d="M269.0 540.3L269.0 541.6" stroke="#4e7ef0"/><path d="M269.0 541.6L269.0 542.7" stroke="#4878f0"/><path d="M269.0 542.7L268.8 543.8" stroke="#4272f0"/><path d="M268.8 543.8L268.3 544.6" stroke="#3c6cf0"/><path d="M268.3 544.6L267.7 545.4" stroke="#366cf0"/><path d="M267.7 545.4L266.9 546.1" stroke="#3066f0"/><path d="M266.9 546.1L266.1 546.7" stroke="#2a66f0"/><path d="M266.1 546.7L265.5 547.1" stroke="#2460f0"/><path d="M265.5 547.1L265.0 547.5" stroke="#1e60f0"/></g><path d="M265.0 547.5L264.6 547.0L264.1 546.2L263.4 545.3L262.9 544.4L262.5 543.4L262.5 542.5L262.9 541.7L263.6 540.9L264.5 540.2L265.5 539.4L266.5 538.5L267.5 537.5L268.5 536.4L269.6 535.1L270.7 533.8L271.8 532.5L272.8 531.2L273.8 530.0L274.6 528.9L275.3 527.8L276.0 526.8L276.7 525.8L277.4 524.8L278.2 523.8L279.2 522.7L280.1 521.7L281.1 520.7L282.2 519.7L283.3 518.6L284.5 517.5L285.8 516.3L287.3 515.1L288.9 513.8L290.4 512.5L291.9 511.3L293.2 510.0L294.5 508.8L295.8 507.5L296.9 506.3L298.0 505.1L298.8 503.8L299.5 502.5L299.9 501.1L300.2 499.7L300.3 498.2L300.2 496.7L299.9 495.2L299.5 493.8L298.9 492.3L298.0 490.7L297.0 489.2L295.8 487.7L294.6 486.3L293.2 485.0L291.8 483.8L290.1 482.5L288.4 481.4L286.6 480.4L284.9 479.5L283.2 478.8L281.7 478.2L280.1 477.8L278.6 477.5L277.2 477.4L275.8 477.4L274.5 477.5L273.3 477.8L272.2 478.2L271.2 478.8L270.2 479.5L269.3 480.4L268.2 481.2L267.2 482.3L266.0 483.5L264.9 484.8L263.8 486.2L262.8 487.5L262.0 488.8L261.3 489.8L260.8 490.9L260.3 491.8L260.0 492.8L259.6 493.9L259.3 495.0L259.0 496.2L258.7 497.3L258.4 498.5L258.2 499.8L258.1 501.3L258.0 503.0L258.0 505.1L258.0 507.5L258.1 510.1L258.2 512.8L258.4 515.3L258.8 517.5L259.2 519.4L259.7 521.2L260.3 522.9L261.0 524.4L261.7 526.0L262.5 527.5L263.4 529.0L264.4 530.6L265.5 532.0L266.5 533.5L267.4 534.9L268.1 536.2L268.5 537.6L268.8 539.0L269.0 540.3L269.0 541.6L269.0 542.7L268.8 543.8L268.3 544.6L267.7 545.4L266.9 546.1L266.1 546.7L265.5 547.1L265.0 547.5" fill="none" stroke="#111" stroke-width="0.99"/><g fill="none" stroke-width="2.5" stroke-linecap="round" stroke-linejoin="round"><path d="M281.0 538.0L280.5 537.7" stroke="#1e60f0"/><path d="M280.5 537.7L279.7 537.3" stroke="#2460f0"/><path d="M279.7 537.3L278.9 536.8" stroke="#2a66f0"/><path d="M278.9 536.8L277.9 536.2" stroke="#366cf0"/><path d="M277.9 536.2L277.0 535.6" stroke="#3c72f0"/><path d="M277.0 535.6L276.2 535.0" stroke="#4272f0"/><path d="M276.2 535.0L275.5 534.4" stroke="#4878f0"/><path d="M275.5 534.4L274.7 533.9" stroke="#4e7ef0"/><path d="M274.7 533.9L274.0 533.3" stroke="#5484f0"/><path d="M274.0 533.3L273.3 532.6" stroke="#5a84f0"/><path d="M273.3 532.6L272.8 531.9" stroke="#608af0"/><path d="M272.8 531.9L272.5 531.0" stroke="#6c90f0"/><path d="M272.5 531.0L272.4 530.0" stroke="#7290f0"/><path d="M272.4 530.0L272.5 528.9" stroke="#7896f0"/><path d="M272.5 528.9L272.8 527.7" stroke="#7e9cf0"/><path d="M272.8 527.7L273.1 526.4" stroke="#8aa2f0"/><path d="M273.1 526.4L273.5 525.1" stroke="#90a8f0"/><path d="M273.5 525.1L273.9 523.8" stroke="#9caef0"/><path d="M273.9 523.8L274.3 522.4" stroke="#a8b4f0"/><path d="M274.3 522.4L274.7 520.9" stroke="#aebaea"/><path d="M274.7 520.9L275.2 519.5" stroke="#bac6ea"/><path d="M275.2 519.5L275.8 518.0" stroke="#c6ccea"/><path d="M275.8 518.0L276.4 516.5" stroke="#d2d2ea"/><path d="M276.4 516.5L277.0 515.0" stroke="#ded8ea"/><path d="M277.0 515.0L277.7 513.5" stroke="#e4d8e4"/><path d="M277.7 513.5L278.5 512.1" stroke="#e4d2de"/><path d="M278.5 512.1L279.4 510.6" stroke="#e4ccd2"/><path d="M279.4 510.6L280.3 509.2" stroke="#e4c6c6"/><path d="M280.3 509.2L281.2 507.7" stroke="#e4bac0"/><path d="M281.2 507.7L282.0 506.2" stroke="#e4b4b4"/><path d="M282.0 506.2L282.8 504.8" stroke="#e4aea8"/><path d="M282.8 504.8L283.6 503.4" stroke="#e4a8a2"/><path d="M283.6 503.4L284.4 502.0" stroke="#e49c96"/><path d="M284.4 502.0L285.2 500.5" stroke="#e49690"/><path d="M285.2 500.5L285.9 499.0" stroke="#e49084"/><path d="M285.9 499.0L286.4 497.5" stroke="#e48a78"/><path d="M286.4 497.5L286.8 495.9" stroke="#e48472"/><path d="M286.8 495.9L287.2 494.3" stroke="#e47866"/><path d="M287.2 494.3L287.4 492.7" stroke="#e47260"/><path d="M287.4 492.7L287.6 491.0" stroke="#e46c54"/><path d="M287.6 491.0L287.6 489.3" stroke="#e46648"/><path d="M287.6 489.3L287.6 487.5" stroke="#e45a42"/><path d="M287.6 487.5L287.4 485.7L287.2 483.7L286.8 481.8L286.3 479.8L285.8 477.9L285.2 476.1L284.6 474.4L284.0 472.7L283.3 471.1L282.5 469.6L281.6 468.1L280.5 466.8L279.3 465.5L277.9 464.4L276.4 463.3L274.8 462.3L273.0 461.3L271.2 460.2L269.2 459.1L267.1 457.9L264.8 456.7L262.5 455.5L260.2 454.5L258.0 453.6L255.7 452.8L253.4 452.2L251.1 451.6L248.8 451.1L246.7 450.9L244.9 450.8L243.4 451.0L242.0 451.4L240.8 452.0L239.8 452.6L238.9 453.3L238.0 454.0L237.2 454.6" stroke="#e45a3c"/><path d="M237.2 454.6L236.6 455.2" stroke="#e46048"/><path d="M236.6 455.2L236.0 455.8" stroke="#e4664e"/><path d="M236.0 455.8L235.5 456.5" stroke="#e46c54"/><path d="M235.5 456.5L235.0 457.3" stroke="#e4725a"/><path d="M235.0 457.3L234.6 458.3" stroke="#e47866"/><path d="M234.6 458.3L234.2 459.5" stroke="#e47e72"/><path d="M234.2 459.5L233.8 460.9" stroke="#e48a7e"/><path d="M233.8 460.9L233.4 462.4" stroke="#e4968a"/><path d="M233.4 462.4L233.1 463.9" stroke="#e49c96"/><path d="M233.1 463.9L232.9 465.4" stroke="#e4a8a2"/><path d="M232.9 465.4L232.7 466.8" stroke="#e4aeae"/><path d="M232.7 466.8L232.6 468.0" stroke="#e4baba"/><path d="M232.6 468.0L232.6 469.1" stroke="#e4c0c6"/><path d="M232.6 469.1L232.6 470.2" stroke="#e4c6cc"/><path d="M232.6 470.2L232.7 471.2" stroke="#e4d2d8"/><path d="M232.7 471.2L232.8 472.2" stroke="#e4d8de"/><path d="M232.8 472.2L232.9 473.0" stroke="#e4deea"/><path d="M232.9 473.0L232.9 473.6L232.9 474.0L232.9 474.4L233.0 474.7L233.2 475.3" stroke="#dedeea"/><path d="M233.2 475.3L233.6 476.1L234.2 477.3L235.0 478.7" stroke="#d8d8ea"/><path d="M235.0 478.7L235.9 480.3" stroke="#d2d2ea"/><path d="M235.9 480.3L236.9 482.0" stroke="#ccd2ea"/><path d="M236.9 482.0L238.0 483.8L239.2 485.5" stroke="#c6ccea"/><path d="M239.2 485.5L240.6 487.3" stroke="#c0c6ea"/><path d="M240.6 487.3L242.1 489.2" stroke="#bac6ea"/><path d="M242.1 489.2L243.7 491.1" stroke="#b4c0ea"/><path d="M243.7 491.1L245.3 493.1" stroke="#aec0ea"/><path d="M245.3 493.1L247.0 495.0" stroke="#a8baea"/><path d="M247.0 495.0L248.6 496.8L250.2 498.4" stroke="#a2b4f0"/><path d="M250.2 498.4L251.8 500.0" stroke="#9caef0"/><path d="M251.8 500.0L253.4 501.5" stroke="#96aef0"/><path d="M253.4 501.5L255.0 503.0" stroke="#90a8f0"/><path d="M255.0 503.0L256.6 504.5" stroke="#8aa8f0"/><path d="M256.6 504.5L258.0 506.2" stroke="#8aa2f0"/><path d="M258.0 506.2L259.3 508.0" stroke="#84a2f0"/><path d="M259.3 508.0L260.5 509.9" stroke="#7e9cf0"/><path d="M260.5 509.9L261.6 511.9" stroke="#7896f0"/><path d="M261.6 511.9L262.7 513.9" stroke="#7296f0"/><path d="M262.7 513.9L263.8 515.7" stroke="#7290f0"/><path d="M263.8 515.7L265.0 517.5" stroke="#6c90f0"/><path d="M265.0 517.5L266.2 519.1" stroke="#668af0"/><path d="M266.2 519.1L267.5 520.7" stroke="#608af0"/><path d="M267.5 520.7L268.8 522.1" stroke="#6084f0"/><path d="M268.8 522.1L270.1 523.5" stroke="#5a84f0"/><path d="M270.1 523.5L271.3 524.9" stroke="#547ef0"/><path d="M271.3 524.9L272.5 526.2L273.6 527.6" stroke="#4e7ef0"/><path d="M273.6 527.6L274.7 529.0L275.7 530.3" stroke="#4878f0"/><path d="M275.7 530.3L276.7 531.6" stroke="#4272f0"/><path d="M276.7 531.6L277.7 532.7L278.8 533.8" stroke="#3c72f0"/><path d="M278.8 533.8L280.0 534.6L281.4 535.4" stroke="#366cf0"/><path d="M281.4 535.4L282.9 536.0L284.1 536.6" stroke="#3066f0"/><path d="M284.1 536.6L285.1 537.1L285.6 537.5" stroke="#2a66f0"/><path d="M285.6 537.5L285.4 537.8L284.7 538.1" stroke="#2a60f0"/><path d="M284.7 538.1L283.7 538.2L282.6 538.3" stroke="#2460f0"/><path d="M282.6 538.3L281.6 538.4" stroke="#1e60f0"/><path d="M281.6 538.4L281.0 538.5" stroke="#1e5af0"/></g><path d="M281.0 538.0L280.5 537.7L279.7 537.3L278.9 536.8L277.9 536.2L277.0 535.6L276.2 535.0L275.5 534.4L274.7 533.9L274.0 533.3L273.3 532.6L272.8 531.9L272.5 531.0L272.4 530.0L272.5 528.9L272.8 527.7L273.1 526.4L273.5 525.1L273.9 523.8L274.3 522.4L274.7 520.9L275.2 519.5L275.8 518.0L276.4 516.5L277.0 515.0L277.7 513.5L278.5 512.1L279.4 510.6L280.3 509.2L281.2 507.7L282.0 506.2L282.8 504.8L283.6 503.4L284.4 502.0L285.2 500.5L285.9 499.0L286.4 497.5L286.8 495.9L287.2 494.3L287.4 492.7L287.6 491.0L287.6 489.3L287.6 487.5L287.4 485.7L287.2 483.7L286.8 481.8L286.3 479.8L285.8 477.9L285.2 476.1L284.6 474.4L284.0 472.7L283.3 471.1L282.5 469.6L281.6 468.1L280.5 466.8L279.3 465.5L277.9 464.4L276.4 463.3L274.8 462.3L273.0 461.3L271.2 460.2L269.2 459.1L267.1 457.9L264.8 456.7L262.5 455.5L260.2 454.5L258.0 453.6L255.7 452.8L253.4 452.2L251.1 451.6L248.8 451.1L246.7 450.9L244.9 450.8L243.4 451.0L242.0 451.4L240.8 452.0L239.8 452.6L238.9 453.3L238.0 454.0L237.2 454.6L236.6 455.2L236.0 455.8L235.5 456.5L235.0 457.3L234.6 458.3L234.2 459.5L233.8 460.9L233.4 462.4L233.1 463.9L232.9 465.4L232.7 466.8L232.6 468.0L232.6 469.1L232.6 470.2L232.7 471.2L232.8 472.2L232.9 473.0L232.9 473.6L232.9 474.0L232.9 474.4L233.0 474.7L233.2 475.3L233.6 476.1L234.2 477.3L235.0 478.7L235.9 480.3L236.9 482.0L238.0 483.8L239.2 485.5L240.6 487.3L242.1 489.2L243.7 491.1L245.3 493.1L247.0 495.0L248.6 496.8L250.2 498.4L251.8 500.0L253.4 501.5L255.0 503.0L256.6 504.5L258.0 506.2L259.3 508.0L260.5 509.9L261.6 511.9L262.7 513.9L263.8 515.7L265.0 517.5L266.2 519.1L267.5 520.7L268.8 522.1L270.1 523.5L271.3 524.9L272.5 526.2L273.6 527.6L274.7 529.0L275.7 530.3L276.7 531.6L277.7 532.7L278.8 533.8L280.0 534.6L281.4 535.4L282.9 536.0L284.1 536.6L285.1 537.1L285.6 537.5L285.4 537.8L284.7 538.1L283.7 538.2L282.6 538.3L281.6 538.4L281.0 538.5" fill="none" stroke="#111" stroke-width="1.10" stroke-dasharray="4.2,1.6"/>
<rect x="220.5" y="445.5" width="91" height="108" fill="none" stroke="#8a8a8a" stroke-width="0.9"/>
<line x1="220.5" y1="546.50" x2="222" y2="546.50" stroke="#8a8a8a" stroke-width="0.8"/>
<line x1="310" y1="546.50" x2="311.5" y2="546.50" stroke="#8a8a8a" stroke-width="0.8"/>
<line x1="220.5" y1="524.00" x2="222" y2="524.00" stroke="#8a8a8a" stroke-width="0.8"/>
<line x1="310" y1="524.00" x2="311.5" y2="524.00" stroke="#8a8a8a" stroke-width="0.8"/>
<line x1="220.5" y1="501.50" x2="222" y2="501.50" stroke="#8a8a8a" stroke-width="0.8"/>
<line x1="310" y1="501.50" x2="311.5" y2="501.50" stroke="#8a8a8a" stroke-width="0.8"/>
<line x1="220.5" y1="479.00" x2="222" y2="479.00" stroke="#8a8a8a" stroke-width="0.8"/>
<line x1="310" y1="479.00" x2="311.5" y2="479.00" stroke="#8a8a8a" stroke-width="0.8"/>
<line x1="220.5" y1="456.50" x2="222" y2="456.50" stroke="#8a8a8a" stroke-width="0.8"/>
<line x1="310" y1="456.50" x2="311.5" y2="456.50" stroke="#8a8a8a" stroke-width="0.8"/>
<line x1="240.30" y1="552" x2="240.30" y2="553.5" stroke="#8a8a8a" stroke-width="0.8"/>
<line x1="240.30" y1="445.5" x2="240.30" y2="447" stroke="#8a8a8a" stroke-width="0.8"/>
<text x="240.30" y="566.70" font-size="9.6" text-anchor="middle" fill="#333">200</text>
<line x1="268.80" y1="552" x2="268.80" y2="553.5" stroke="#8a8a8a" stroke-width="0.8"/>
<line x1="268.80" y1="445.5" x2="268.80" y2="447" stroke="#8a8a8a" stroke-width="0.8"/>
<text x="268.80" y="566.70" font-size="9.6" text-anchor="middle" fill="#333">300</text>
<line x1="297.30" y1="552" x2="297.30" y2="553.5" stroke="#8a8a8a" stroke-width="0.8"/>
<line x1="297.30" y1="445.5" x2="297.30" y2="447" stroke="#8a8a8a" stroke-width="0.8"/>
<text x="297.30" y="566.70" font-size="9.6" text-anchor="middle" fill="#333">400</text>
<text x="224" y="454" font-size="9" font-weight="bold" fill="#000">l)</text>
<text x="308.2" y="456.0" font-size="11.2" font-weight="bold" text-anchor="end" fill="#000">IV to -I</text>
<rect x="77.3" y="32.7" width="9.5" height="4" fill="#1f5ee6"/>
<rect x="77.3" y="39.7" width="9.5" height="4.1" fill="#cc3419"/>
<line x1="77.3" y1="48.6" x2="86.8" y2="48.6" stroke="#222" stroke-width="0.8"/>
<line x1="77.3" y1="56.6" x2="86.8" y2="56.6" stroke="#222" stroke-width="0.8" stroke-dasharray="3.5,2"/>
<text transform="translate(87.9,37.0) scale(0.9,1)" font-size="8.3" fill="#222">1<tspan font-size="5" dy="-3">st</tspan><tspan dy="3"> January</tspan></text>
<text transform="translate(87.9,44.0) scale(0.9,1)" font-size="8.3" fill="#222">1<tspan font-size="5" dy="-3">st</tspan><tspan dy="3"> July</tspan></text>
<text transform="translate(87.9,51.6) scale(0.9,1)" font-size="8.3" fill="#222">1990-2019</text>
<text transform="translate(87.9,58.6) scale(0.9,1)" font-size="8.3" fill="#222">2070-2099</text>
<text x="177" y="578" font-size="9.8" text-anchor="middle" fill="#333">Daily mean flow (m<tspan font-size="6" dy="-3.5">3</tspan><tspan dy="3.5"> s</tspan><tspan font-size="6" dy="-3.5">-1</tspan><tspan dy="3.5">)</tspan></text>
<text transform="translate(11.0,257) rotate(-90)" x="0" y="0" font-size="9.6" text-anchor="middle" fill="#333">Daily mean river temperature (°C)</text>
</svg></body></html>
